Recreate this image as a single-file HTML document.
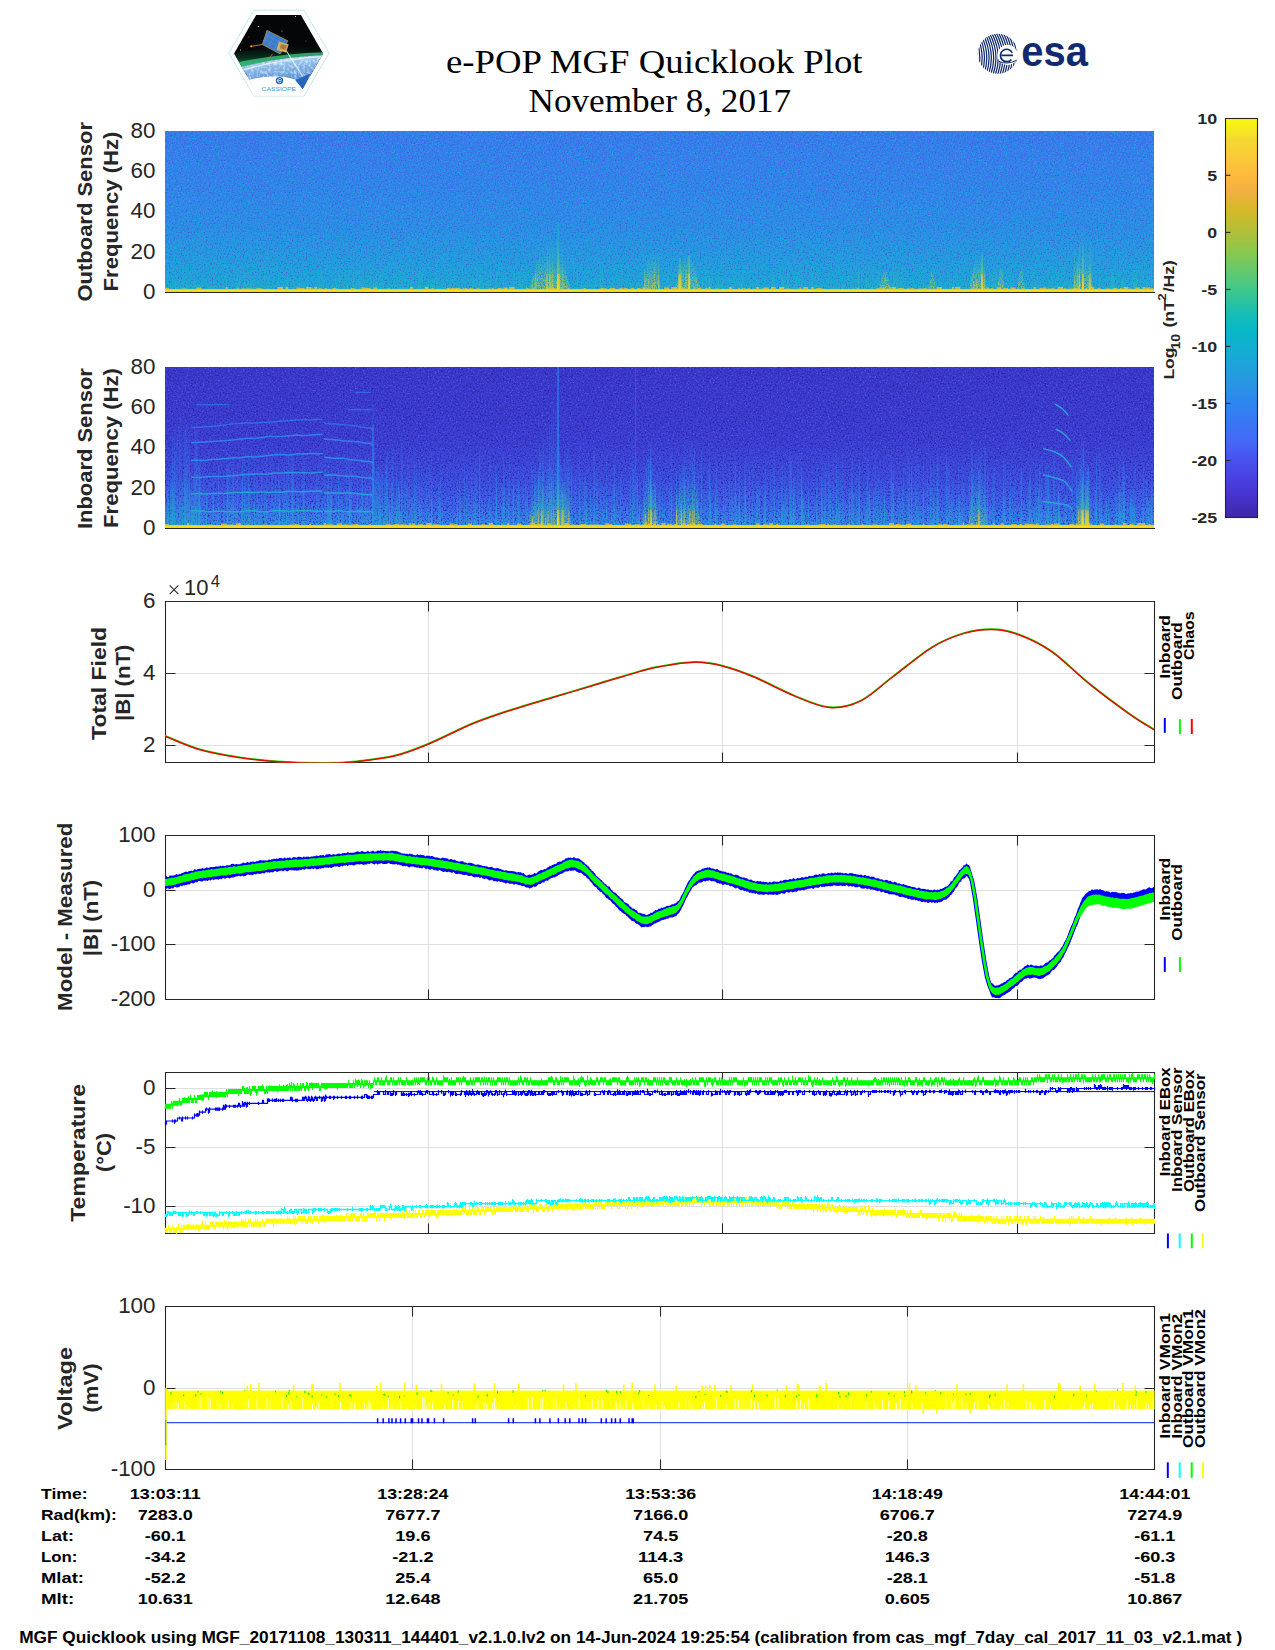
<!DOCTYPE html>
<html><head><meta charset="utf-8"><title>e-POP MGF Quicklook Plot</title>
<style>html,body{margin:0;padding:0;background:#fff;}body{width:1275px;height:1650px;overflow:hidden;}svg{display:block;}</style>
</head><body>
<svg width="1275" height="1650" viewBox="0 0 1275 1650">
<rect x="0" y="0" width="1275" height="1650" fill="#fff"/>
<text x="446" y="72.6" font-family="'Liberation Serif', serif" font-size="33.5" textLength="416.5" lengthAdjust="spacingAndGlyphs">e-POP MGF Quicklook Plot</text>
<text x="528.6" y="111.6" font-family="'Liberation Serif', serif" font-size="33.5" textLength="262.5" lengthAdjust="spacingAndGlyphs">November 8, 2017</text>
<defs>
<clipPath id="hexclip"><polygon points="234.1,53.5 256.2,14.9 300.9,14.9 323.1,53.5 302.8,88.8 254.4,88.8"/></clipPath>
<linearGradient id="earthg" x1="0" y1="0" x2="0.25" y2="1">
<stop offset="0" stop-color="#d8eafa"/><stop offset="0.35" stop-color="#8ebde9"/><stop offset="0.75" stop-color="#4f8ad2"/><stop offset="1" stop-color="#2f6fc0"/></linearGradient>
<linearGradient id="aurg" x1="0" y1="0" x2="0" y2="1">
<stop offset="0" stop-color="#0a2a1a" stop-opacity="0"/><stop offset="0.5" stop-color="#0d4a2c" stop-opacity="0.7"/><stop offset="0.82" stop-color="#28a466"/><stop offset="1" stop-color="#66dc9c"/></linearGradient>
<filter id="cloudf" x="230" y="50" width="100" height="45" filterUnits="userSpaceOnUse" color-interpolation-filters="sRGB">
<feTurbulence type="fractalNoise" baseFrequency="0.35" numOctaves="2" seed="4" result="t"/>
<feColorMatrix in="t" type="matrix" values="0 0 0 0 1  0 0 0 0 1  0 0 0 0 1  3 0 0 0 -1.3"/>
<feComposite in2="SourceGraphic" operator="in"/></filter>
</defs>
<polygon points="228.9,53 253.9,10.2 303.8,10.2 329.2,53 303.8,96.3 253.9,96.3" fill="#fff" stroke="#b3e0ea" stroke-width="0.8" stroke-dasharray="1.1,0.7"/>
<g clip-path="url(#hexclip)">
<rect x="230" y="12" width="98" height="64" fill="#040608"/>
<circle cx="258.5" cy="26.5" r="0.8" fill="#dfe8ff"/>
<circle cx="295.5" cy="16.5" r="0.6" fill="#dfe8ff"/>
<circle cx="240.5" cy="50" r="0.6" fill="#dfe8ff"/>
<circle cx="282" cy="31" r="0.5" fill="#dfe8ff"/>
<circle cx="306" cy="41" r="0.4" fill="#dfe8ff"/>
<circle cx="249" cy="37" r="0.4" fill="#dfe8ff"/>
<circle cx="313" cy="30" r="0.4" fill="#dfe8ff"/>
<path d="M228,54 Q282,44 330,46 L330,56.5 Q282,54 228,72 Z" fill="url(#aurg)"/>
<path d="M228,64.5 Q280,52.5 330,52 L330,55.8 Q282,55.5 228,71.5 Z" fill="#38c080" opacity="0.8"/>
<path d="M228,70.5 Q280,55.5 330,55 L330,95 L228,95 Z" fill="url(#earthg)"/>
<path d="M228,70.5 Q280,55.5 330,55 L330,95 L228,95 Z" fill="#ffffff" opacity="0.55" filter="url(#cloudf)"/>
<path d="M236,72 Q282,58 326,56.5" stroke="#f4faff" stroke-width="1.3" fill="none" opacity="0.7"/>
<path d="M285.9,50.2 L302.8,76.5" stroke="#f0f8ff" stroke-width="1.1" opacity="0.85"/>
<path d="M228,95 L228,86 Q262,74 283,77 Q292,78.5 296,80 L302.8,95 Z" fill="#ffffff"/>
<path d="M295.3,80.3 L310.4,73.7 L302.8,89 Z" fill="#2a66b8"/>
</g>
<path d="M251,97 L246.5,89.5 Q262,75.5 283,77 Q292,78.5 296,80 L303,90 L304.5,97 Z" fill="#ffffff"/>
<path d="M295.3,80.3 L310.4,73.7 L302.8,89 Z" fill="#2a66b8"/>
<polygon points="228.9,53 253.9,10.2 303.8,10.2 329.2,53 303.8,96.3 253.9,96.3" fill="none" stroke="#b3e0ea" stroke-width="0.8" stroke-dasharray="1.1,0.7"/>
<path d="M251,46.4 L262.4,44.5" stroke="#c89040" stroke-width="0.9"/><circle cx="251.2" cy="46.3" r="1.1" fill="#f0a030"/>
<path d="M272.7,53.9 L265.2,63.4" stroke="#b08040" stroke-width="0.8"/>
<polygon points="267,30.4 287.8,40.8 280.2,53.9 262.4,44.5" fill="#3f7cc8" stroke="#c8a050" stroke-width="0.7"/>
<path d="M266,35 L284,44 M264.5,39.5 L282,48.5 M270,32 L263.5,43 M275,34.5 L268.5,46.5 M280.5,37.5 L274,50" stroke="#5a94d8" stroke-width="0.5"/>
<polygon points="279,41.5 288.7,44.5 286,52.5 276.5,50" fill="#d6b060"/>
<polygon points="281,44 287,45.5 285.5,50 280,48.5" fill="#8a6a30" opacity="0.7"/>
<circle cx="279.5" cy="80.6" r="3.7" fill="#1f63b8"/><path d="M277.2,80.7 h4.4 M281.5,79.6 a2.1,2.1 0 1 0 -0.3,2.4" stroke="#fff" stroke-width="0.75" fill="none"/>
<text x="278.8" y="90.8" font-family="'Liberation Sans', sans-serif" font-size="5.8" text-anchor="middle" fill="#2d9ad6" textLength="34.5" lengthAdjust="spacingAndGlyphs">CASSIOPE</text>
<defs><clipPath id="esaclip"><circle cx="997.8" cy="53.8" r="20"/></clipPath></defs>
<g clip-path="url(#esaclip)">
<path d="M960.2,30 Q974.2,54 964.2,78" stroke="#0f2a6e" stroke-width="1.25" fill="none"/>
<path d="M962.5,30 Q976.5,54 966.5,78" stroke="#0f2a6e" stroke-width="1.25" fill="none"/>
<path d="M964.8,30 Q978.8,54 968.8,78" stroke="#0f2a6e" stroke-width="1.25" fill="none"/>
<path d="M967.1,30 Q981.1,54 971.1,78" stroke="#0f2a6e" stroke-width="1.25" fill="none"/>
<path d="M969.4,30 Q983.4,54 973.4,78" stroke="#0f2a6e" stroke-width="1.25" fill="none"/>
<path d="M971.7,30 Q985.7,54 975.7,78" stroke="#0f2a6e" stroke-width="1.25" fill="none"/>
<path d="M974,30 Q988,54 978,78" stroke="#0f2a6e" stroke-width="1.25" fill="none"/>
<path d="M976.3,30 Q990.3,54 980.3,78" stroke="#0f2a6e" stroke-width="1.25" fill="none"/>
<path d="M978.6,30 Q992.6,54 982.6,78" stroke="#0f2a6e" stroke-width="1.25" fill="none"/>
<path d="M980.9,30 Q994.9,54 984.9,78" stroke="#0f2a6e" stroke-width="1.25" fill="none"/>
<path d="M983.2,30 Q997.2,54 987.2,78" stroke="#0f2a6e" stroke-width="1.25" fill="none"/>
<path d="M985.5,30 Q999.5,54 989.5,78" stroke="#0f2a6e" stroke-width="1.25" fill="none"/>
<path d="M987.8,30 Q1001.8,54 991.8,78" stroke="#0f2a6e" stroke-width="1.25" fill="none"/>
<path d="M990.1,30 Q1004.1,54 994.1,78" stroke="#0f2a6e" stroke-width="1.25" fill="none"/>
<path d="M992.4,30 Q1006.4,54 996.4,78" stroke="#0f2a6e" stroke-width="1.25" fill="none"/>
<path d="M994.7,30 Q1008.7,54 998.7,78" stroke="#0f2a6e" stroke-width="1.25" fill="none"/>
<path d="M997,30 Q1011,54 1001,78" stroke="#0f2a6e" stroke-width="1.25" fill="none"/>
<path d="M999.3,30 Q1013.3,54 1003.3,78" stroke="#0f2a6e" stroke-width="1.25" fill="none"/>
<path d="M1001.6,30 Q1015.6,54 1005.6,78" stroke="#0f2a6e" stroke-width="1.25" fill="none"/>
<path d="M1003.9,30 Q1017.9,54 1007.9,78" stroke="#0f2a6e" stroke-width="1.25" fill="none"/>
<path d="M1006.2,30 Q1020.2,54 1010.2,78" stroke="#0f2a6e" stroke-width="1.25" fill="none"/>
<path d="M1008.5,30 Q1022.5,54 1012.5,78" stroke="#0f2a6e" stroke-width="1.25" fill="none"/>
<path d="M1010.8,30 Q1024.8,54 1014.8,78" stroke="#0f2a6e" stroke-width="1.25" fill="none"/>
<path d="M1013.1,30 Q1027.1,54 1017.1,78" stroke="#0f2a6e" stroke-width="1.25" fill="none"/>
<path d="M1015.4,30 Q1029.4,54 1019.4,78" stroke="#0f2a6e" stroke-width="1.25" fill="none"/>
<path d="M1017.7,30 Q1031.7,54 1021.7,78" stroke="#0f2a6e" stroke-width="1.25" fill="none"/>
</g>
<circle cx="1007.6" cy="55" r="10.2" fill="#fff"/>
<path d="M1001.5,55.4 h11.5 M1012.2,52.8 a6.2,6.2 0 1 0 -0.8,6.6" stroke="#0f2a6e" stroke-width="1.6" fill="none"/>
<path d="M999,61.5 Q1007,65 1016,60.5" stroke="#0f2a6e" stroke-width="1" fill="none"/>
<text x="1021.3" y="65.6" font-family="'Liberation Sans', sans-serif" font-size="42" font-weight="bold" fill="#0f2a6e" textLength="66.6" lengthAdjust="spacingAndGlyphs">esa</text>
<defs>
<linearGradient id="s1bg" x1="0" y1="0" x2="0" y2="1">
<stop offset="0" stop-color="#3a7aee"/><stop offset="0.3" stop-color="#3582ec"/><stop offset="0.6" stop-color="#2c8ee6"/><stop offset="0.82" stop-color="#22a0dc"/><stop offset="0.95" stop-color="#1aaad4"/><stop offset="1" stop-color="#28b6c0"/></linearGradient>
<linearGradient id="s2bg" x1="0" y1="0" x2="0" y2="1">
<stop offset="0" stop-color="#3b38cc"/><stop offset="0.45" stop-color="#3c3ed4"/><stop offset="0.7" stop-color="#3d4ee0"/><stop offset="0.85" stop-color="#3c64ec"/><stop offset="0.95" stop-color="#3680f0"/><stop offset="1" stop-color="#2aa0de"/></linearGradient>
<filter id="nz1" x="165" y="131" width="989" height="161" filterUnits="userSpaceOnUse" color-interpolation-filters="sRGB"><feTurbulence type="fractalNoise" baseFrequency="0.65" numOctaves="2" seed="3" result="t"/><feColorMatrix in="t" type="matrix" values="0 0 0 0 0.27  0 0 0 0 0.34  0 0 0 0 0.92  2.9 0 0 0 -1.48" result="dark"/><feColorMatrix in="t" type="matrix" values="0 0 0 0 0.10  0 0 0 0 0.68  0 0 0 0 0.82  0 3.4 0 0 -1.72" result="lite"/><feMerge><feMergeNode in="lite"/><feMergeNode in="dark"/></feMerge></filter>
<filter id="nz2" x="165" y="367" width="989" height="161" filterUnits="userSpaceOnUse" color-interpolation-filters="sRGB"><feTurbulence type="fractalNoise" baseFrequency="0.6" numOctaves="2" seed="7" result="t"/><feColorMatrix in="t" type="matrix" values="0 0 0 0 0.19  0 0 0 0 0.15  0 0 0 0 0.64  3.4 0 0 0 -1.65" result="dark"/><feColorMatrix in="t" type="matrix" values="0 0 0 0 0.27  0 0 0 0 0.36  0 0 0 0 0.94  0 3.2 0 0 -1.7" result="lite"/><feMerge><feMergeNode in="lite"/><feMergeNode in="dark"/></feMerge></filter>
<linearGradient id="h1" gradientUnits="userSpaceOnUse" x1="0" y1="289.5" x2="0" y2="131.5"><stop offset="0" stop-color="#f8e020" stop-opacity="1"/><stop offset="0.1" stop-color="#d8c838" stop-opacity="0.9"/><stop offset="0.1" stop-color="#70c880" stop-opacity="0.8"/><stop offset="0.3" stop-color="#20b0c8" stop-opacity="0.6"/><stop offset="0.6" stop-color="#2098e0" stop-opacity="0.2"/><stop offset="1" stop-color="#2a90e8" stop-opacity="0"/></linearGradient>
<linearGradient id="b1" gradientUnits="userSpaceOnUse" x1="0" y1="289.5" x2="0" y2="131.5"><stop offset="0" stop-color="#f8d828" stop-opacity="1"/><stop offset="0" stop-color="#d0c438" stop-opacity="0.9"/><stop offset="0.1" stop-color="#78c878" stop-opacity="0.8"/><stop offset="0.2" stop-color="#28b4c4" stop-opacity="0.5"/><stop offset="0.5" stop-color="#2098e0" stop-opacity="0"/></linearGradient>
<linearGradient id="c1" gradientUnits="userSpaceOnUse" x1="0" y1="289.5" x2="0" y2="131.5"><stop offset="0" stop-color="#30c0b0" stop-opacity="0.8"/><stop offset="0.4" stop-color="#20a8d8" stop-opacity="0.4"/><stop offset="1" stop-color="#2a90e8" stop-opacity="0"/></linearGradient>
<linearGradient id="h2" gradientUnits="userSpaceOnUse" x1="0" y1="525.5" x2="0" y2="367.5"><stop offset="0" stop-color="#f8e020" stop-opacity="1"/><stop offset="0.1" stop-color="#c0c448" stop-opacity="0.9"/><stop offset="0.1" stop-color="#40c0a8" stop-opacity="0.8"/><stop offset="0.3" stop-color="#2898e8" stop-opacity="0.6"/><stop offset="1" stop-color="#3a60f0" stop-opacity="0"/></linearGradient>
<linearGradient id="b2" gradientUnits="userSpaceOnUse" x1="0" y1="525.5" x2="0" y2="367.5"><stop offset="0" stop-color="#f8d828" stop-opacity="1"/><stop offset="0" stop-color="#b0c448" stop-opacity="0.9"/><stop offset="0.1" stop-color="#38bcb0" stop-opacity="0.8"/><stop offset="0.3" stop-color="#2894ea" stop-opacity="0.4"/><stop offset="0.7" stop-color="#3a6af0" stop-opacity="0"/></linearGradient>
<linearGradient id="c2" gradientUnits="userSpaceOnUse" x1="0" y1="525.5" x2="0" y2="367.5"><stop offset="0" stop-color="#20b0c8" stop-opacity="0.8"/><stop offset="0.3" stop-color="#2890ec" stop-opacity="0.5"/><stop offset="1" stop-color="#3a60f0" stop-opacity="0"/></linearGradient>
<filter id="speck" x="0" y="0" width="1275" height="1650" filterUnits="userSpaceOnUse" color-interpolation-filters="sRGB"><feTurbulence type="fractalNoise" baseFrequency="0.75" numOctaves="2" seed="17" result="t"/><feColorMatrix in="t" type="matrix" values="0 0 0 0 0  0 0 0 0 0  0 0 0 0 0  0 0 0 3.2 -1.15" result="a"/><feComposite in="SourceGraphic" in2="a" operator="in"/></filter>
<clipPath id="s1clip"><rect x="165" y="131" width="989" height="161"/></clipPath>
<clipPath id="s2clip"><rect x="165" y="367" width="989" height="161"/></clipPath>
</defs>
<g clip-path="url(#s1clip)">
<rect x="165" y="131" width="989" height="161" fill="url(#s1bg)"/>
<rect x="165" y="131" width="989" height="161" filter="url(#nz1)"/>
<path d="M612.4,289V277M1079,289V279.4M667.3,289V276.3M347.6,289V278.3M788,289V270.8M258.1,289V283.3M254.7,289V270.4M850.8,289V288.5M1136.4,289V266M811.7,289V275.6M320.8,289V288.8M687.6,289V288.2M353.1,289V284.6M194.8,289V279.5M600.7,289V269.5M678.4,289V274.9M659.3,289V274.4M617.3,289V283.8M1151.7,289V265.1M996,289V273.1M476.8,289V284.9M450.9,289V288M922.9,289V281M1002.3,289V281.3M1112.5,289V269.3M165.5,289V285.3M1065.3,289V279.3M1134.6,289V281.1M237.2,289V275.2M934.9,289V284M251.2,289V282.6M1118.5,289V271.8M281.7,289V284.5M264.9,289V288.2M953.3,289V286M718.1,289V279.9M353.6,289V272.5M294.5,289V274.9M280.2,289V280.5M375.5,289V284M1125.2,289V270.5M465.8,289V268.3M373.4,289V281.1M1010,289V274.9M264.2,289V265.3M375.9,289V284.3M929.2,289V282.7M458.1,289V288M254.1,289V276.4M405.3,289V276M532.6,289V279.7M1113.6,289V279M733.3,289V268.8M345.8,289V286.5M1063.4,289V270.1M411.8,289V285.7M896.3,289V266.7M359.4,289V266.4M1037.5,289V275.9M581.8,289V287.4M203.3,289V266.1M400.8,289V273.2M419.2,289V270M754.9,289V283.5M338.5,289V272.8M233,289V284.9M718.2,289V269.2M772.5,289V283.8M1072.3,289V285.4M181.4,289V284M605.8,289V288.2M339.3,289V281.7M730.9,289V286.9M523.2,289V268.1M1134.7,289V274.5M848.6,289V276.4M303.8,289V288.6M182.7,289V267.6M858.3,289V266.1M186,289V275.1M641.9,289V272.5M480.4,289V265M239.4,289V277.4M893.9,289V267.8M894,289V273.3M949.5,289V267.4M513,289V273.8M1055.9,289V268.7M577.6,289V270.9M1019,289V276.7M783.1,289V281.4M741.3,289V275.8M244.3,289V275M1147.4,289V268.4M885.2,289V281.3M892,289V276.5M600.7,289V269.6M247.9,289V272M194.5,289V276M640.7,289V284.9M855.7,289V278.6M772.7,289V267.3M418,289V288.9M462.7,289V273.9M365.3,289V286.1M1060.8,289V274.4M602.1,289V268.1M488.4,289V274.3M361.3,289V280.3M962.1,289V267.4M1035.6,289V281.4M741.7,289V283M299.7,289V278.6M992.9,289V269.3M868.4,289V266.4M438.8,289V286.2M610.7,289V283.9M376.7,289V280.7M783.9,289V278.7M476.9,289V269.6M1136.2,289V279.7M238.9,289V288.6M1028.2,289V288.5M865.8,289V276.8M470.6,289V270.9M183.9,289V286.8M614.8,289V288.7M985.5,289V284.7M304.3,289V288.4M787.3,289V279.9M788,289V274.6M963.5,289V266.2M842,289V285.5M634.9,289V286M175.6,289V279.2M871.3,289V286M434.4,289V282.3M854.6,289V278M772.7,289V271.8M554.2,289V270.9M1061.3,289V287.7M1087.3,289V272.8M293.5,289V279.7M783.7,289V267.6M537.7,289V276.8M1034.6,289V270.7M1098.9,289V279.5M809.2,289V285.4M879,289V270.1M799.6,289V272.9M376,289V267.9M1134.7,289V265.7M696.1,289V270.9M481.9,289V267.6M1011.4,289V282.2M246.9,289V280M709.2,289V271.5M647.1,289V288.7M965.2,289V288.1M956.1,289V286.1M496.3,289V271M304,289V286.6M675.8,289V272.7M995.7,289V273.6M1100.3,289V278.7M1103.7,289V287.7M384,289V277.9M452,289V272.6M796.8,289V278M999.3,289V277M473.3,289V281.5M1001,289V267.8M370.9,289V269.2M1122.8,289V277.9M731.7,289V285.5M695,289V278.5M763.6,289V288.7M1123.7,289V278.2M561.2,289V270.6M721.7,289V278.8M848.4,289V288.1M697.8,289V280.7M1111.3,289V267.2M431.3,289V279.2M290.6,289V280.2M971.7,289V267.8M636.3,289V282.9M354.3,289V275.5M1080.1,289V286.9M935.7,289V288.7M357,289V284.9M844.5,289V282.8M516.4,289V275.5M268.7,289V272.5M286.4,289V278.3M412.8,289V285.6M689.5,289V280.1M536.6,289V280.7M688.5,289V286.3M367,289V275.2M796.4,289V277.8M1006.9,289V275.7M1012.3,289V284.8M897.6,289V270.3M1057.7,289V283M476.5,289V267.2M380.7,289V265M1042.8,289V286.8M401.7,289V272.6M421.6,289V287.5M988,289V280.5M946.2,289V287M563.3,289V273.8M182.6,289V285.5M839.9,289V267.5M1122.7,289V287.2M665.1,289V271.8M662.3,289V273.7M351.9,289V288M270,289V288.5M710.6,289V278.2M727.5,289V286.6M347.5,289V285.4M996,289V265.3M1081.7,289V287.6M226.3,289V266.4M622,289V271.6M488.2,289V279.4M674.6,289V280.3M759.3,289V288.9M858.3,289V269.4M344.3,289V279.7M896.2,289V280.9M358,289V286.2M671.9,289V288.8M1048.4,289V270.6M861.9,289V269M787.5,289V280.9M758,289V278.4M1136.9,289V270.5M420.4,289V267.5M901.2,289V271.2M970.7,289V280.9M1051.7,289V268.4M852.2,289V271.5M921.8,289V280.9M879.7,289V288M503,289V279.3M175.5,289V282.1M796.7,289V275.4M394.6,289V266.6M823.8,289V282.5M817.5,289V276.8M692.2,289V281.3M1153.9,289V274.9M858.5,289V271.7M1134.3,289V288.7M773.6,289V272.3M418.8,289V281M214.9,289V285.6M536.5,289V287.5M413.1,289V267.7M709,289V278.4M1121.5,289V276.8M1149.2,289V275M965.6,289V287.9M756,289V271.8M209.6,289V267M323.2,289V279.3M332.3,289V278.7M769.4,289V288.2M1099.9,289V280.5M686,289V276.1M526.6,289V283.7M812.9,289V277M445.4,289V272.9M457.8,289V288.9M407.3,289V288.5M319.9,289V271.9M550.7,289V267.9M905.1,289V288.3M1142.9,289V266.6M237.7,289V267.7M589.8,289V279.1M1127.5,289V284.6M682.6,289V266.8M879.8,289V279.3M1133.1,289V270.2M762,289V287.2M782.4,289V279.7M366.4,289V288.3M687.3,289V287M603,289V274.2M615.5,289V284.2M740.8,289V280.5M934.4,289V277.8M1151.7,289V266.4M891.2,289V284.7M277.6,289V268.1M940.7,289V275.3M520.2,289V284M842.5,289V276.9M750.2,289V275.1M910.1,289V285.7M411.2,289V265.6M1070.6,289V268.4M204.1,289V288.2M433,289V280.4M781.5,289V287.4M700.7,289V288M250.5,289V274M709.6,289V275.2M534.1,289V279.1M373.3,289V282.3M901.6,289V269.6M238.5,289V287.1M965.3,289V275.4M925.3,289V285.2M584.7,289V284.3M966,289V281.7M811.5,289V265.3M486.8,289V277.3M902.9,289V267.3M587.9,289V281.7M260.9,289V268.5M242.6,289V287.8M723,289V278.9M842.8,289V283.4M932,289V287.9M375.9,289V274.4M245.8,289V283.3M882,289V273.5M444.8,289V286.7M518.9,289V272.7M527.4,289V287.2M866.5,289V276.8M1073.5,289V266.7M1068.3,289V280.1M959.2,289V283.2M479.1,289V281M1089.4,289V268M410.6,289V281.9M526.5,289V281.9M556.3,289V281.3M357.8,289V276.9M953.3,289V277.5M992.2,289V277M339.6,289V271.8M1036.2,289V283.8M187,289V278.2M703.2,289V276.8M1120.8,289V274.7M960.5,289V288.1M705.8,289V271M248.1,289V287.8M894,289V267.9M248.8,289V275.1M307.3,289V272.1M806.9,289V284.6M383,289V271.6M680.8,289V271.6M555,289V282.5M1122.6,289V274.1M653.2,289V277.6M878,289V273.1M1069.9,289V280.8M982.1,289V274.2M1009.1,289V270.5M989.7,289V268.2M1112.3,289V274.9M683.1,289V273.1M958.4,289V280.5M580.8,289V286.6M898.1,289V265.3M536.4,289V286.2M367.1,289V280.4M453.8,289V265.9M223.6,289V283.1M278.5,289V274.7M932.4,289V285.9M226.7,289V279.6M742.6,289V267.6M201,289V287.3M347.5,289V285.2M397.8,289V272.9M753.2,289V285M348,289V283.8M335.6,289V271.8M473.3,289V277.3M973.1,289V279.1M422.6,289V268.2M1069.2,289V282.4M706.3,289V266.2M642.3,289V285.1M214.2,289V266.5M957.6,289V281.4M686.8,289V278.2M436.5,289V265.3M815.3,289V284.7M175.8,289V279.2M532.5,289V270.7M870.4,289V275.8M320.6,289V286.4M483.3,289V284.2M1024.7,289V278.1M795,289V265.2M428.6,289V277.7M314,289V271.5M166.4,289V270M1001.9,289V270M246.5,289V284M873.6,289V287.5M639.8,289V279.3M1110,289V276.3M1012.9,289V283.3M945.6,289V280.6M1071.7,289V287.6M982.2,289V285.3M702.4,289V277.9M320.8,289V269.8M473,289V283.1M240.2,289V283.2M627.1,289V272.9M520.8,289V273.7M269.6,289V281.1M621.7,289V265.9M985.6,289V274.6M177.2,289V281.6M867.2,289V284.7M722.9,289V279.6M175.4,289V265.2M955.7,289V285.4M774.3,289V283.6M536.9,289V277.5M459.9,289V282.5M552.9,289V274.2M418.6,289V285.5M888.4,289V282.7M1099.6,289V277M880.8,289V282.6M982.8,289V287.6M304.3,289V287.6M835.2,289V273.1M342.9,289V281M992.7,289V276.2M254.1,289V285M320.4,289V287M567.4,289V288M1075.5,289V280.4M670.9,289V274.8M923.4,289V270.1M546.7,289V282.6M572.6,289V288.8M561.3,289V273.4M1136.1,289V270.9M818,289V275.8M183.3,289V282.6M503.5,289V274.7M270.1,289V281.5M668.8,289V271M981.1,289V275.7M321.6,289V271.6M1058.1,289V277.3M513.7,289V278.5M305.2,289V273M1140.9,289V278.2M872.5,289V269.7M360,289V266.6M785.2,289V285.6M247.3,289V284.6M735.1,289V273.4M490.6,289V267M522.2,289V279.5M287.7,289V265.8M299.1,289V267.7M702.4,289V277M719.2,289V284.1M1064.3,289V265.2M973.5,289V276M286.3,289V270M450.4,289V267.9M403.2,289V276.7M986.6,289V285.8M706.8,289V287.9M196.7,289V285.9M1141.1,289V266.7M816.1,289V283.2M828.9,289V272.3M542.4,289V276.2M960,289V288.8M362.3,289V279.3M306.4,289V281.3M728.3,289V286.1M679.1,289V284.2M726.8,289V282.6M799.6,289V288.5M828.6,289V286.6M1113.8,289V276M629.7,289V280.7M781.9,289V273.6" stroke="url(#c1)" stroke-width="1" opacity="0.3" fill="none"/>
<path d="M529,290 L545,236 L555,236 L571,290 Z" fill="url(#b1)" filter="url(#speck)" opacity="0.8"/>
<path d="M643,290 L649.8,252 L654.2,252 L661,290 Z" fill="url(#b1)" filter="url(#speck)" opacity="0.8"/>
<path d="M675,290 L684.9,256 L691.1,256 L701,290 Z" fill="url(#b1)" filter="url(#speck)" opacity="0.8"/>
<path d="M969,290 L975.8,256 L980.2,256 L987,290 Z" fill="url(#b1)" filter="url(#speck)" opacity="0.8"/>
<path d="M997,290 L1000,268 L1002,268 L1005,290 Z" fill="url(#b1)" filter="url(#speck)" opacity="0.8"/>
<path d="M1017,290 L1020,270 L1022,270 L1025,290 Z" fill="url(#b1)" filter="url(#speck)" opacity="0.8"/>
<path d="M1073,290 L1080.6,232 L1085.4,232 L1093,290 Z" fill="url(#b1)" filter="url(#speck)" opacity="0.8"/>
<path d="M879,290 L883.6,272 L886.4,272 L891,290 Z" fill="url(#b1)" filter="url(#speck)" opacity="0.8"/>
<path d="M928,290 L931,272 L933,272 L936,290 Z" fill="url(#b1)" filter="url(#speck)" opacity="0.8"/>
<path d="M559.8,289V255.2M549.5,289V240.3M562.9,289V249M546.5,289V272.4M552.5,289V245.9M551,289V267.8M547.4,289V246M543.2,289V287.9M558.6,289V246.3M558.8,289V263.9M559.6,289V278.5M553.6,289V287.5M535.7,289V271.8M550.1,289V274.3" stroke="url(#h1)" stroke-width="1" opacity="0.5" fill="none"/>
<path d="M644.8,289V267.8M652.4,289V283.7M648.9,289V278.8M647.8,289V288M658.6,289V256.5M654.7,289V260.8" stroke="url(#h1)" stroke-width="1" opacity="0.5" fill="none"/>
<path d="M686.1,289V265.6M681.3,289V267.8M689.6,289V261.8M678.4,289V266.1M679,289V275.2M698.8,289V289" stroke="url(#h1)" stroke-width="1" opacity="0.5" fill="none"/>
<path d="M973.9,289V282.1M975.2,289V288.1M984.3,289V263.7M976.4,289V280.4M979.4,289V288.4" stroke="url(#h1)" stroke-width="1" opacity="0.5" fill="none"/>
<path d="M1074.6,289V246.4M1079.5,289V269.2M1090.8,289V241.4M1082.5,289V282.7M1079.3,289V244.9M1090.1,289V283.1M1089.1,289V276.3M1082.5,289V284M1089.8,289V240.3M1077.6,289V262" stroke="url(#h1)" stroke-width="1" opacity="0.5" fill="none"/>
<path d="M558,289V222M680,289V258M689,289V255M982,289V254M1083,289V245" stroke="url(#h1)" stroke-width="1.6" opacity="1" fill="none"/>
<path d="M558,289V222" stroke="url(#h1)" stroke-width="1.2" opacity="1" fill="none"/>
<rect x="165" y="289" width="989" height="3" fill="#f0c830"/>
<rect x="165" y="290.2" width="989" height="1.3" fill="#f8e41c"/>
<path d="M165,288h4.3v1h-4.3ZM181.6,288.5h5v0.5h-5ZM196.2,287.5h5.4v1.5h-5.4ZM225.8,287h1.8v2h-1.8ZM236.4,288.5h2.8v0.5h-2.8ZM241.4,288.5h4.6v0.5h-4.6ZM246.7,288.5h5.9v0.5h-5.9ZM256.4,288.2h5.5v0.8h-5.5ZM277.7,287h5.2v2h-5.2ZM285.7,287h2.3v2h-2.3ZM296.4,287.5h3.1v1.5h-3.1ZM299.6,288h5v1h-5ZM306.1,287h5.3v2h-5.3ZM311.6,288.5h2.3v0.5h-2.3ZM314.4,287h2.6v2h-2.6ZM318.4,288.2h3.1v0.8h-3.1ZM324.6,288h2v1h-2ZM332.5,288h3.8v1h-3.8ZM350.4,288.2h4.3v0.8h-4.3ZM361.2,287.5h4.2v1.5h-4.2ZM365.6,288h4.8v1h-4.8ZM373.7,287.5h3.6v1.5h-3.6ZM387,288.5h3v0.5h-3ZM410.1,287h2.8v2h-2.8ZM424.8,287h3.5v2h-3.5ZM431.1,288.2h2.9v0.8h-2.9ZM446.7,288h3.7v1h-3.7ZM451.1,288h3.7v1h-3.7ZM455.1,288h5.1v1h-5.1ZM462.9,288.2h4.5v0.8h-4.5ZM468.9,288.2h4.7v0.8h-4.7ZM476.9,288.2h2.7v0.8h-2.7ZM488.8,288.2h1.6v0.8h-1.6ZM491.6,288.2h2.7v0.8h-2.7ZM497.6,288h4.4v1h-4.4ZM503.4,287.5h4.4v1.5h-4.4ZM509.2,287h5.3v2h-5.3ZM526.3,288h2.2v1h-2.2ZM546.1,287.5h5.7v1.5h-5.7ZM553,288.2h4v0.8h-4ZM583.7,288h2.1v1h-2.1ZM600.5,288h2.6v1h-2.6ZM603,288.2h3.3v0.8h-3.3ZM609.8,288h5.4v1h-5.4ZM619.1,288.2h4v0.8h-4ZM623.4,288h4v1h-4ZM631.2,288h2.8v1h-2.8ZM637.3,288h3.4v1h-3.4ZM642.5,287.5h2.2v1.5h-2.2ZM664.1,287.5h5.4v1.5h-5.4ZM671.3,287h5.9v2h-5.9ZM678.3,287.5h5.9v1.5h-5.9ZM693.5,288.2h2.7v0.8h-2.7ZM698.1,288h3.4v1h-3.4ZM705.3,288.2h2.9v0.8h-2.9ZM708.7,287h1.6v2h-1.6ZM716.3,288.2h1.6v0.8h-1.6ZM729,287h2.8v2h-2.8ZM738,288.2h2.1v0.8h-2.1ZM742.2,288.2h3v0.8h-3ZM748.1,288h1.6v1h-1.6ZM756.2,287h2.6v2h-2.6ZM761.5,288.5h2v0.5h-2ZM763.6,287.5h5v1.5h-5ZM771,287h4.6v2h-4.6ZM779,287h5.3v2h-5.3ZM785.8,288.5h5.3v0.5h-5.3ZM799.6,287.5h1.5v1.5h-1.5ZM803.4,287h4.4v2h-4.4ZM811.5,287h2.1v2h-2.1ZM816.4,288h5.5v1h-5.5ZM856.7,288.2h2.1v0.8h-2.1ZM876.3,288.2h4.9v0.8h-4.9ZM881.4,287.5h4.1v1.5h-4.1ZM889,287.5h2.1v1.5h-2.1ZM891.5,287h4.6v2h-4.6ZM898,288h5.7v1h-5.7ZM907.4,288.2h2.1v0.8h-2.1ZM910.1,288.2h4.3v0.8h-4.3ZM918.1,288.5h4v0.5h-4ZM923.2,288.2h4v0.8h-4ZM936.5,287h5.4v2h-5.4ZM952,287h2.1v2h-2.1ZM955,287h5.4v2h-5.4ZM975.5,288.5h3.4v0.5h-3.4ZM981.9,287h1.9v2h-1.9ZM987.1,287.5h2.1v1.5h-2.1ZM990.6,288h2.6v1h-2.6ZM996.9,287.5h4.7v1.5h-4.7ZM1003.1,288h4.8v1h-4.8ZM1010.4,287.5h5.1v1.5h-5.1ZM1033.2,287h2.4v2h-2.4ZM1039.2,288h3.7v1h-3.7ZM1042.8,287.5h3.6v1.5h-3.6ZM1047.7,288.5h3.6v0.5h-3.6ZM1051.9,288h2.2v1h-2.2ZM1057.6,287h5.4v2h-5.4ZM1063.6,288.2h2.6v0.8h-2.6ZM1069.6,288.5h4.9v0.5h-4.9ZM1074.6,288h5.5v1h-5.5ZM1089.7,287h4.5v2h-4.5ZM1097.6,288h2.2v1h-2.2ZM1105.7,288.5h4.7v0.5h-4.7ZM1113,288h4.3v1h-4.3ZM1120,288h2.3v1h-2.3ZM1123.5,287h4.8v2h-4.8ZM1128.9,288.5h2.6v0.5h-2.6ZM1135.3,287.5h4.4v1.5h-4.4ZM1142.6,287h2.7v2h-2.7ZM1145.5,287.5h5v1.5h-5ZM1151.2,288h1.6v1h-1.6Z" fill="#f0c030" opacity="0.8"/>
</g>
<g clip-path="url(#s2clip)">
<rect x="165" y="367" width="989" height="161" fill="url(#s2bg)"/>
<rect x="165" y="367" width="989" height="161" filter="url(#nz2)"/>
<path d="M328.1,525V473.3M793,525V489.1M378.6,525V465.6M964,525V486.6M664.5,525V507.3M168.1,525V497.2M743.9,525V519.8M950,525V507.6M395.1,525V521.8M1151.6,525V469.6M1030.4,525V478.8M198.7,525V500.3M657.1,525V516.3M1106.5,525V497.4M318.1,525V463.7M288.5,525V455.4M613.1,525V483.6M504.1,525V488.6M349.9,525V522.2M1021.4,525V507.4M936.7,525V509.4M1123.1,525V458M911.5,525V467.8M739.4,525V470.3M286.1,525V489.3M982.9,525V509.9M1078,525V458.4M570.1,525V497.6M611.4,525V496.1M1148.9,525V496M191.5,525V518M875.2,525V450.5M655.6,525V488.1M709.4,525V468.9M384.6,525V479.3M715.4,525V478.3M343.7,525V512.2M509.4,525V455.5M507.8,525V480.2M468.2,525V517.3M229.9,525V464M933.5,525V496.9M840.8,525V474.3M1053.8,525V453.1M567.5,525V450.8M1115.9,525V480.7M1038.5,525V488.2M536.4,525V506.5M1031.5,525V512.8M233.6,525V464.6M930.4,525V488.8M992.8,525V521.1M420.1,525V503.3M579.9,525V512.2M233.7,525V499.6M1054.3,525V451.2M902.6,525V489.1M414.4,525V453.1M684.8,525V470.4M193,525V509.1M994,525V465.4M1036.8,525V479.9M586.4,525V481.4M1005,525V501.9M693.5,525V504.3M924.8,525V524.2M842.8,525V453.5M188.2,525V480.5M801.8,525V461.1M742.9,525V505.7M566.1,525V453.1M1060.6,525V515M258.8,525V518M190,525V491.5M304.3,525V459.9M813.1,525V515.5M697.7,525V500.7M653.4,525V508.5M329.3,525V511.2M538.7,525V471.8M709,525V521.5M868.1,525V459.5M930.7,525V465.7M172.7,525V490.2M227.8,525V467.7M338.4,525V471.6M415.1,525V472.7M475.2,525V521.9M549.6,525V501.8M1055.8,525V502.9M662.6,525V483.8M1102.8,525V517.6M759.6,525V486.9M891.5,525V452.5M471.7,525V472.5M685,525V482.9M228,525V463.9M1131.1,525V498.4M479.6,525V450.5M271.4,525V519.3M237.5,525V463.9M916.6,525V491.4M779.6,525V523.5M802.6,525V491.8M676.7,525V495.8M562.1,525V508.1M213.3,525V492.5M409.3,525V472.2M973.3,525V470.7M616,525V507.3M546.2,525V488.5M789.9,525V452.8M249.5,525V489M651.5,525V471.2M1045.7,525V466.5M784.9,525V468.1M825.7,525V460.6M856.3,525V473.8M407.6,525V456.2M546.7,525V478.9M980.8,525V452.7M1143.3,525V524.5M474.2,525V501.6M551.9,525V514.1M712.2,525V519M464.3,525V454.2M899.2,525V490.3M272,525V453.3M861.2,525V509.6M496.6,525V476.9M839.1,525V505.4M1105.8,525V500.8M416.4,525V461.6M316.7,525V473.9M362.7,525V480.2M439.4,525V496.6M1095.4,525V490M597.1,525V478.7M442.5,525V511.9M545.4,525V504.6M351.4,525V452.9M199,525V464.2M1089.5,525V472.2M183.8,525V487.4M203.8,525V479.4M857.7,525V507M172.5,525V484.2M258.5,525V501.8M614.1,525V457.9M531,525V514.9M948,525V463.3M688.6,525V521.3M350.5,525V494.8M710.8,525V508.1M958.5,525V461.7M1080,525V458.7M182.4,525V481.3M244.6,525V457.5M903.7,525V468.1M351.2,525V520.5M971.2,525V479.5M778.5,525V489.7M956.3,525V499.7M431.8,525V498.5M459.7,525V478M1045.4,525V519.7M231.9,525V486.6M835.6,525V510.8M431.9,525V520.6M201.7,525V487.9M838.3,525V476M321.4,525V517.2M1085.6,525V484.6M568.9,525V473.2M884.8,525V485.7M242.5,525V463M376.4,525V522M513.4,525V485.1M786.3,525V511.9M866.8,525V488M325.2,525V461.2M962.9,525V457M837,525V508.7M934.1,525V457.3M692.4,525V456.9M1124.5,525V495.7M1096.5,525V454.7M950.1,525V524.2M513,525V479M765.5,525V468.3M804.7,525V512.9M1085.6,525V484.8M1037,525V509.5M1152.1,525V483.4M932,525V469.5M1038.1,525V497.8M246.9,525V494.6M341.3,525V484.5M971,525V497.8M294.6,525V523M583.3,525V481.5M191,525V475.1M373.5,525V517M1082.5,525V485.8M1050.2,525V486.5M286.5,525V507M584.6,525V476.9M927.4,525V468.6M808.6,525V506M590.4,525V496.6M649.2,525V505.1M696.9,525V490.6M200.2,525V463.3M745,525V464.8M893.4,525V470.2M1147.5,525V496.7M554.3,525V524.7M822,525V481.4M735.1,525V450.2M359.8,525V508M891.1,525V464.1M642.5,525V520.9M531.3,525V463M659.3,525V490.4M550.2,525V477.9M756.9,525V473M1020.8,525V468.7M535.8,525V506.2M938.3,525V465.5M1082.9,525V510.1M1003.4,525V458.2M241.4,525V501.9M791.7,525V514M987,525V505.1M839.8,525V502.8M380.8,525V509.5M657.1,525V471.5M380.5,525V473.5M496.4,525V476.3M529.1,525V510.5M304.5,525V520.7M853.7,525V494M286.9,525V459M812.6,525V523.4M881.8,525V480.4M603.9,525V487.5M1116.6,525V497M794.2,525V477.3M526.7,525V499M911.7,525V477.3M616.9,525V486.5M386,525V465.8M184.7,525V476.8M614.9,525V508.4M745.3,525V481.3M250.8,525V488.2M328.3,525V465.1M488.3,525V500.4M378,525V521.4M349.6,525V513.6M782.3,525V461.4M383.6,525V516.6M693.6,525V516.3M565.8,525V467.9M365.9,525V472.5M697.8,525V518.6M404.9,525V480M260.2,525V509.7M735.4,525V463.6M679.7,525V475.2M174,525V502.3M479.6,525V456.5M518.6,525V466.1M198.9,525V487.6M1046.6,525V467.2M738.3,525V511.3M1081,525V519M1119.1,525V466.8M876.8,525V485.2M327.2,525V499.4M821.6,525V475.8M550,525V464.9M217.8,525V503.5M254.4,525V500.6M949.2,525V468.5M312.7,525V501.9M275.9,525V475.4M602.7,525V507.6M535.1,525V460.1M585.5,525V473.2M785.8,525V489.5M715.3,525V497.7M361.2,525V487.9M466.2,525V500.2M349.5,525V456.5M585.8,525V510M196.4,525V508.9M1023.9,525V499.7M824.7,525V507.7M808.5,525V491.2M893.3,525V485.4M536.3,525V504M752.7,525V462.6M849,525V489M489.9,525V458.1M1001.9,525V514.1M836.8,525V467.1M833.4,525V452.7M1034.3,525V506.5M1150.8,525V500.4M540.6,525V451.8M330.4,525V495.3M784,525V504.5M429.1,525V465.4M770.8,525V469.2M946.2,525V459.6M1048.8,525V463.2M1132.7,525V487.6M858.9,525V486.5M1123.6,525V475.9M590.8,525V475.2M456.6,525V515.3M547.1,525V514.7M169,525V518.1M614.4,525V467.7M213,525V477.2M275.1,525V486.7M457.5,525V491.6M869.1,525V494M552.4,525V470.4M279.6,525V498.8M859.1,525V462.4M1133.6,525V505.7M783.3,525V501.6M859.1,525V461.5M298.6,525V499.1M1090.9,525V498.6M790.2,525V463.6M440.6,525V466.2M168.6,525V499.5M330.1,525V499.1M375.8,525V523.1M959.3,525V512M731.9,525V483.4M1005.1,525V461.5M779.8,525V512.3M917.5,525V517.7M1083.4,525V501.9M415,525V508.8M556.8,525V465.6M1010.5,525V469M886.3,525V506.7M482.7,525V502.2M593.6,525V459.4M1150,525V518.7M1119,525V456.1M620.8,525V473M940.9,525V511M774.1,525V451.4M1035.7,525V456.6M248.8,525V471.4M646.2,525V456.8M330.1,525V483.8M284.3,525V464.7M879.6,525V522.7M471.2,525V514.4M793.5,525V477.8M227,525V453.7M1119.6,525V491.9M732.8,525V497.7M764.5,525V495.1M600.9,525V468.8M349.4,525V502.6M920.3,525V508.1M233,525V456.6M322.8,525V494.2M475,525V505.4M513.6,525V484.7M279.8,525V485M215.5,525V519.1M364.9,525V507M502.8,525V503.2M992.7,525V475.6M633,525V467.1M843.3,525V501.3M774.1,525V469.1M693.5,525V468.6M790.8,525V455.4M426.2,525V474.6M1131.1,525V485.4M1060.3,525V517.9M880.6,525V505.1M907,525V493.2M694.1,525V506.4M419.2,525V460.1M801.2,525V477.8M279.5,525V503M1122.5,525V509.8M696.9,525V472.8M669.9,525V483.4M1124.5,525V466.4M399.4,525V492.7M580.1,525V473.7M832.6,525V505.4M849.8,525V492.7M180.1,525V503.1M537.7,525V510.2M828.3,525V450.6M1086.3,525V477.8M1012.8,525V488.1M745.2,525V458M224,525V497.8M535,525V499.4M588.1,525V520.7M836.6,525V453.2M396.6,525V511.1M496,525V465.3M389,525V467.2M335.8,525V480.4M878.2,525V474.5M248.5,525V453.3M1003.6,525V488.9M1015,525V479.9M331.7,525V495.2M976.7,525V490.2M206.4,525V512.6M349.2,525V481.1M801.7,525V491.4M564.3,525V452.8M504.1,525V474.6M367.3,525V486.4M342.6,525V516.5M498,525V516.4M542,525V476M708.1,525V465.3M637,525V518.7M884.4,525V494.8M908.2,525V451.8M683.5,525V506.2M518.9,525V487.6M480.6,525V517.4M559,525V475.8M972,525V467.9M1039.3,525V464.9M571.9,525V476.7M218.5,525V465.4M865.2,525V505.1M632.1,525V504.6M951.4,525V493M937.3,525V455.7M934.1,525V496.5M503.7,525V454.1M1059.6,525V510.8M523.2,525V465.9M913.1,525V503.8M606.4,525V452.9M254.2,525V504.4M822,525V456.9M1101.5,525V489.8M946.6,525V452.1M490.8,525V507.9M421.7,525V466.3M303,525V484M1084.6,525V509.9M786.8,525V485.3M1120.7,525V486.5M650.5,525V457.2M909,525V514.1M960,525V495.1M1123.1,525V452.8M652.8,525V493.8M389.5,525V504.3M368.8,525V512.4M887.1,525V521.1M757.2,525V480.2M892.5,525V482.4M1082.1,525V503.9M257.1,525V481.3M431.4,525V450.9M1076.7,525V473.4M989.5,525V506.7M644.6,525V496.3M506.4,525V497M637.5,525V476M189.9,525V484.6M291.5,525V452.3M710.7,525V480.8M476.6,525V472.1M867.2,525V456.7M739.3,525V504.8M786.6,525V521.2M900.9,525V502M876.5,525V515.1M755.9,525V512.3M201.1,525V505.2M1004.1,525V495.9M682.1,525V465.7M1132.6,525V505.6M851.4,525V466.4M950.1,525V499M634.2,525V466.2M413.1,525V488.6M791.5,525V461.2M406.1,525V475.1M379.7,525V513.2M636.8,525V476.4M798.1,525V453.9M327.5,525V485.2M639.7,525V505.6M1072.6,525V514.2M422.7,525V522M801.6,525V475.7M386.2,525V455.9M792.9,525V509.9M1096.3,525V461M475.4,525V460.1M293.9,525V498.9M579.2,525V453.4M460.5,525V496.1M370,525V463.5M346.5,525V461.4M502.1,525V483.8M1031.9,525V505M687.8,525V477.3M736.3,525V494.4M803.8,525V501.4M318.3,525V524.3M764.1,525V481.9M955.8,525V513.2M830.5,525V491M684.2,525V462.6M678.3,525V492.3M803.5,525V513.9M1028.2,525V486.2M206.9,525V488.9M1100.1,525V451.6M586.6,525V505.1M1091.1,525V503.7M182.7,525V506.5M630.5,525V474.5M231.2,525V499.9M884.7,525V499.2M338.7,525V471.7M596.8,525V472.9M643.9,525V464.1M671.4,525V451.9M969.2,525V470.9M649.9,525V479.3M537.5,525V519.3M1039.9,525V464.4M923.5,525V460.6M709.8,525V450.4M633,525V451.4M244.8,525V496.6M729.8,525V463.6M680,525V465.7M534.7,525V474.2M952.8,525V480M185.6,525V475.7M165.1,525V502.3M278.4,525V467.7M331.5,525V471.1M236.5,525V509.5M852.4,525V455.7M235.8,525V478.9M558,525V478.4M241.4,525V523.7M242.8,525V458.2M650.1,525V479.1M296.9,525V473.6M1056.2,525V510.2M937,525V461.4M1146.3,525V482.6M802.9,525V499.1M937.3,525V501.7M781.7,525V478M1143.4,525V466M259.9,525V511.7M518.3,525V495.3M873.9,525V505.5M717.8,525V491.1M466.9,525V476.8M594.3,525V451.5M292.8,525V457.6M795.1,525V490.6M242,525V476.5M959.5,525V498.8M869.7,525V485.1M254.3,525V460.5M473.4,525V489M918.1,525V459.3M1009.5,525V497.4M1002.9,525V513.5M710.6,525V492.6M1021.5,525V470.8M816.8,525V464.2M508.8,525V491.7M266.7,525V498.7M362.3,525V470.1M293,525V456.4M758.6,525V491.5M283,525V491.5M722.6,525V514.2M1130.8,525V497.9M594.8,525V503.6M534,525V504.3M1009.7,525V519.6M525.7,525V480.2M639.2,525V500.7M643.8,525V520.3M468.9,525V492.4M923.2,525V492.7M575.7,525V475.9M438.6,525V483.7M357.6,525V478.7M698.1,525V475.9M1030.1,525V465.4M1142.6,525V507.5M1108.4,525V491.6M527.5,525V490.9M1076.1,525V453.4M961.1,525V502.4M282.5,525V509.7M829.8,525V472.3M229.9,525V524.7M1149.1,525V499.7M206.3,525V490.1M261.7,525V463.9M688.6,525V479.1M1081.9,525V515.6M377.8,525V466M765.6,525V492.1M517.2,525V478.5M1099.3,525V453.9M1072.3,525V451.6M295.2,525V522.9M985.1,525V506.5M681.1,525V489.9M1128,525V491.8M298.2,525V509.7M1058.8,525V463.8M303.2,525V452.7M532.7,525V470.5M723.4,525V460.6M649.1,525V522.8M716.5,525V461.2M571.3,525V463M606.7,525V498.1M520.2,525V507.9M660.1,525V453M749.3,525V467.4M342.3,525V497.3M738.8,525V496.2M173.6,525V459.9M292.7,525V475.6M1134.8,525V503.3M431.7,525V500.2M701.1,525V451.5M308.1,525V506.6M1051.4,525V504.2M824.7,525V470.9M165.5,525V522.9M915.7,525V456.1M852.1,525V490M264.9,525V485.5M273.6,525V500.7M199.8,525V486.4M627.2,525V503.7M383.9,525V520M192.5,525V515.5M1136.7,525V522.5M873.5,525V490.8M746.1,525V502.1M1135.1,525V464.4M565.2,525V492.6M1072.9,525V513.3M1029.4,525V478.6M725.8,525V485M749.4,525V518.2M411.4,525V498.5M383.9,525V518.6M869.9,525V493.4M898,525V495.6M1096.3,525V506.7M671.7,525V493.3M947.4,525V515.2M704.9,525V491M782.5,525V507.5M701.8,525V451.1M266.7,525V452.1M1121.1,525V491.4M245.2,525V487.7M1117.4,525V524.9M909.5,525V466.5M279.3,525V479.8M311.7,525V517.5M680.6,525V502.6M816.9,525V485.5M391.9,525V456M171,525V464.9" stroke="url(#c2)" stroke-width="1" opacity="0.5" fill="none"/>
<path d="M174.9,525V428.6M186.3,525V468.7M172.6,525V432.2M195,525V423.3M185.6,525V426.4M196.3,525V449.1M176.9,525V454.9M177,525V436M184.4,525V431.3M196.2,525V441.2M172.1,525V481.2M168,525V481.2M170.5,525V484.9M192.8,525V505.8M197.1,525V426.6M192,525V491.7M175.2,525V468.8M186.7,525V426.3M165.7,525V510.2M193.8,525V520M196.3,525V497.6M199.2,525V467.5M186.2,525V435M193.8,525V473.1M181.1,525V438.2M174,525V484.4M195.5,525V430M194,525V480.3M177,525V507.8M194.1,525V515.7M171.4,525V519.7M181,525V420.4M167.5,525V490.1M174.4,525V445.9M177.5,525V499.1M189.2,525V428.5M170.8,525V513.5M179.3,525V425.5M167.1,525V503.5M187.6,525V440.6" stroke="url(#c2)" stroke-width="1.1" opacity="0.7" fill="none"/>
<path d="M386.7,525V517.9M389.4,525V511.6M376.1,525V516.4M400.2,525V511.2M387.3,525V452.4M379.6,525V485M396.2,525V471.2M379.4,525V473.3M401.9,525V452.6M401,525V520.8M375.6,525V476M374.4,525V442.6M382.2,525V472.3M398.6,525V482.1M395.4,525V505.9M386.5,525V459.2M387.1,525V502.9M398.1,525V487.7M399.6,525V491.3M397.2,525V509M392.9,525V443.3M391.6,525V483M401.5,525V442.3M397,525V499.5M376.5,525V467.5" stroke="url(#c2)" stroke-width="1.1" opacity="0.6" fill="none"/>
<path d="M191,510.8C192.2,510.8 195.7,510.6 198,510.7C200.3,510.8 202.7,511.1 205,511.3C207.3,511.4 209.7,511.7 212,511.7C214.3,511.6 216.7,511 219,510.9C221.3,510.9 223.7,511.4 226,511.6C228.3,511.7 230.7,511.7 233,511.7C235.3,511.7 237.7,511.8 240,511.7C242.3,511.5 244.7,510.9 247,510.7C249.3,510.6 251.7,510.6 254,510.8C256.3,511 258.7,511.5 261,511.7C263.3,511.9 265.7,511.9 268,511.7C270.3,511.6 272.7,511 275,510.8C277.3,510.7 279.7,510.7 282,510.8C284.3,510.9 286.7,511.4 289,511.4C291.3,511.4 293.7,510.9 296,510.8C298.3,510.6 300.7,510.8 303,510.8C305.3,510.8 307.7,510.7 310,510.8C312.3,510.9 314.9,511.2 317,511.3C319.1,511.3 321.6,511.2 322.5,511.2 M324,511.1C325.2,511.1 328.7,511.6 331,511.5C333.3,511.5 335.7,510.8 338,510.8C340.3,510.8 342.7,511.4 345,511.6C347.3,511.7 349.7,511.6 352,511.5C354.3,511.5 356.7,511.3 359,511.3C361.3,511.4 364,511.7 366,511.8C368,511.9 370.2,511.8 371,511.8 L373,513.8" stroke="#1eb4c4" stroke-width="1.5" fill="none" opacity="0.9"/>
<path d="M191,494.1C192.2,494 195.7,493.4 198,493.4C200.3,493.4 202.7,494.1 205,494.1C207.3,494.1 209.7,493.5 212,493.4C214.3,493.3 216.7,493.3 219,493.3C221.3,493.3 223.7,493.6 226,493.5C228.3,493.3 230.7,492.5 233,492.4C235.3,492.2 237.7,492.5 240,492.5C242.3,492.4 244.7,492 247,492C249.3,492.1 251.7,492.7 254,492.6C256.3,492.6 258.7,491.9 261,491.9C263.3,491.8 265.7,492.2 268,492.3C270.3,492.3 272.7,492.1 275,492.1C277.3,492.1 279.7,492.5 282,492.3C284.3,492.2 286.7,491.5 289,491.3C291.3,491.2 293.7,491.4 296,491.5C298.3,491.5 300.7,491.8 303,491.8C305.3,491.8 307.7,491.5 310,491.3C312.3,491.2 314.9,491 317,491C319.1,491 321.6,491.2 322.5,491.3 M324,492.8C325.2,492.8 328.7,493 331,493C333.3,493.1 335.7,492.9 338,492.9C340.3,492.9 342.7,493 345,493.1C347.3,493.1 349.7,493 352,493.1C354.3,493.2 356.7,493.5 359,493.8C361.3,494.1 364,494.5 366,494.6C368,494.8 370.2,494.5 371,494.5 L373,496.5" stroke="#22a8d4" stroke-width="1.5" fill="none" opacity="0.9"/>
<path d="M191,477.1C192.2,477.2 195.7,477.7 198,477.6C200.3,477.5 202.7,476.8 205,476.7C207.3,476.5 209.7,476.5 212,476.4C214.3,476.4 216.7,476.4 219,476.4C221.3,476.4 223.7,476.3 226,476.2C228.3,476.1 230.7,475.9 233,475.7C235.3,475.5 237.7,475.1 240,475C242.3,474.8 244.7,474.8 247,474.6C249.3,474.5 251.7,474 254,473.9C256.3,473.9 258.7,474 261,474.1C263.3,474.1 265.7,474.2 268,474.1C270.3,473.9 272.7,473.3 275,473.1C277.3,472.9 279.7,473.1 282,473C284.3,472.9 286.7,472.6 289,472.5C291.3,472.5 293.7,472.7 296,472.8C298.3,472.8 300.7,472.6 303,472.6C305.3,472.7 307.7,473 310,473C312.3,473 314.9,472.7 317,472.6C319.1,472.4 321.6,472.3 322.5,472.3 M324,475.2C325.2,475.2 328.7,474.8 331,474.8C333.3,474.9 335.7,475.2 338,475.5C340.3,475.7 342.7,476.1 345,476.2C347.3,476.3 349.7,475.9 352,476C354.3,476.2 356.7,476.8 359,477.1C361.3,477.4 364,477.6 366,477.8C368,477.9 370.2,477.9 371,477.9 L373,479.9" stroke="#2aa0e4" stroke-width="1.5" fill="none" opacity="0.8"/>
<path d="M191,460.3C192.2,460.3 195.7,460.1 198,460.2C200.3,460.2 202.7,460.5 205,460.4C207.3,460.2 209.7,459.4 212,459.2C214.3,459 216.7,459.3 219,459.2C221.3,459 223.7,458.6 226,458.4C228.3,458.2 230.7,457.9 233,457.8C235.3,457.7 237.7,458 240,457.9C242.3,457.7 244.7,457 247,456.8C249.3,456.7 251.7,456.9 254,456.9C256.3,456.8 258.7,456.5 261,456.3C263.3,456.1 265.7,455.8 268,455.6C270.3,455.3 272.7,454.8 275,454.7C277.3,454.5 279.7,454.5 282,454.6C284.3,454.6 286.7,455 289,454.9C291.3,454.8 293.7,454 296,453.9C298.3,453.7 300.7,454.1 303,454C305.3,453.9 307.7,453.4 310,453.4C312.3,453.3 314.9,453.8 317,453.8C319.1,453.8 321.6,453.5 322.5,453.4 M324,457.3C325.2,457.4 328.7,457.8 331,458C333.3,458.1 335.7,458.2 338,458.3C340.3,458.4 342.7,458.2 345,458.5C347.3,458.7 349.7,459.5 352,459.8C354.3,460.1 356.7,460.1 359,460.4C361.3,460.7 364,461.3 366,461.5C368,461.7 370.2,461.4 371,461.4 L373,463.4" stroke="#2c98ec" stroke-width="1.5" fill="none" opacity="0.8"/>
<path d="M191,442.8C192.2,442.7 195.7,442.4 198,442.3C200.3,442.1 202.7,442.1 205,441.9C207.3,441.8 209.7,441.6 212,441.5C214.3,441.4 216.7,441.2 219,441C221.3,440.9 223.7,440.5 226,440.4C228.3,440.2 230.7,440.2 233,440C235.3,439.8 237.7,439.5 240,439.1C242.3,438.8 244.7,438.3 247,438.2C249.3,438.1 251.7,438.5 254,438.4C256.3,438.3 258.7,438 261,437.7C263.3,437.4 265.7,436.8 268,436.6C270.3,436.4 272.7,436.5 275,436.4C277.3,436.4 279.7,436.6 282,436.5C284.3,436.4 286.7,436.1 289,435.8C291.3,435.6 293.7,435.1 296,435C298.3,435 300.7,435.5 303,435.6C305.3,435.6 307.7,435.4 310,435.2C312.3,435 314.9,434.5 317,434.4C319.1,434.3 321.6,434.6 322.5,434.6 M324,438.9C325.2,439 328.7,439.4 331,439.6C333.3,439.8 335.7,439.7 338,440C340.3,440.3 342.7,440.9 345,441.1C347.3,441.4 349.7,441.3 352,441.4C354.3,441.5 356.7,441.5 359,441.8C361.3,442.1 364,442.9 366,443.2C368,443.5 370.2,443.4 371,443.4 L373,445.4" stroke="#2e90f0" stroke-width="1.5" fill="none" opacity="0.8"/>
<path d="M191,427.6C192.2,427.5 195.7,427.5 198,427.3C200.3,427.2 202.7,426.9 205,426.7C207.3,426.6 209.7,426.6 212,426.4C214.3,426.3 216.7,426 219,425.7C221.3,425.5 223.7,425.1 226,424.8C228.3,424.5 230.7,424 233,423.8C235.3,423.6 237.7,423.6 240,423.5C242.3,423.3 244.7,422.8 247,422.8C249.3,422.8 251.7,423.3 254,423.2C256.3,423.2 258.7,422.8 261,422.6C263.3,422.5 265.7,422.4 268,422.3C270.3,422.1 272.7,421.9 275,421.7C277.3,421.5 279.7,421.2 282,421C284.3,420.9 286.7,421 289,420.8C291.3,420.6 293.7,420.1 296,419.9C298.3,419.8 300.7,419.8 303,419.8C305.3,419.8 307.7,420 310,419.9C312.3,419.8 314.9,419.3 317,419.3C319.1,419.3 321.6,419.6 322.5,419.7 M324,423.3C325.2,423.4 328.7,423.8 331,423.9C333.3,424.1 335.7,424.1 338,424.2C340.3,424.4 342.7,424.7 345,424.9C347.3,425.1 349.7,425.2 352,425.5C354.3,425.8 356.7,426.3 359,426.7C361.3,427.1 364,427.6 366,427.8C368,428 370.2,427.8 371,427.8 L373,429.8" stroke="#3088f2" stroke-width="1.5" fill="none" opacity="0.6"/>
<path d="M196.5,404.7 L229.4,404.7 M348,409.7 L371,409.7 M354.6,392.4 L371,392.4" stroke="#3088f2" stroke-width="1.3" opacity="0.6"/>
<path d="M373,526V400" stroke="url(#c2)" stroke-width="2" opacity="0.8" fill="none"/>
<rect x="372.2" y="425" width="1.6" height="101" fill="#2a90e8" opacity="0.45"/>
<path d="M528,527 L544.7,430 L555.3,430 L572,527 Z" fill="url(#b2)" filter="url(#speck)" opacity="0.8"/>
<path d="M642,527 L648.1,440 L651.9,440 L658,527 Z" fill="url(#b2)" filter="url(#speck)" opacity="0.8"/>
<path d="M675,527 L684.9,440 L691.1,440 L701,527 Z" fill="url(#b2)" filter="url(#speck)" opacity="0.8"/>
<path d="M968,527 L975.6,450 L980.4,450 L988,527 Z" fill="url(#b2)" filter="url(#speck)" opacity="0.8"/>
<path d="M1076,527 L1081.3,425 L1084.7,425 L1090,527 Z" fill="url(#b2)" filter="url(#speck)" opacity="0.8"/>
<path d="M548,526V469.5M558.2,526V459.8M561.2,526V488.5M532.8,526V515.8M541.6,526V502.7M553.8,526V488.8M542,526V515.9M559.1,526V440.5M557.7,526V517.8M557.4,526V460.3M551.4,526V476.2M563.8,526V490.5M557.9,526V515.8M562.8,526V482.1M538.3,526V477.1M562.3,526V493.4M542.9,526V468.9M568.8,526V444M542.8,526V489.8M545.3,526V517.7" stroke="url(#h2)" stroke-width="1" opacity="0.6" fill="none"/>
<path d="M551.1,526V497.8M549.5,526V425.4M551.3,526V401.5M542.9,526V509.3M539.5,526V443M544.9,526V505.6M553.3,526V401.8M556.1,526V406.5M560.4,526V467.6M543.3,526V434.7" stroke="url(#c2)" stroke-width="1" opacity="0.6" fill="none"/>
<path d="M646.6,526V522.1M648.5,526V459.2M651.6,526V493M645.5,526V514.4M651.2,526V484.8M650.5,526V458.8M650.9,526V445M655,526V482.3" stroke="url(#h2)" stroke-width="1" opacity="0.6" fill="none"/>
<path d="M684.3,526V483.8M681.7,526V514.1M692.6,526V490M676.5,526V494.7M683.4,526V522.7M676.5,526V472.6M694.5,526V448.3M689.7,526V509.9M690.7,526V506.1M681.3,526V500.7" stroke="url(#h2)" stroke-width="1" opacity="0.5" fill="none"/>
<path d="M970.7,526V519.8M987.7,526V521.6M987.4,526V470.7M982.8,526V519.8M981.6,526V513.5M978.2,526V492.7" stroke="url(#c2)" stroke-width="1" opacity="0.6" fill="none"/>
<path d="M1071.6,526V522.5M1040.3,526V496.6M1058.4,526V492.7M1043,526V509M1065,526V496.2M1051.1,526V525.8M1041.5,526V477.2M1049.6,526V523.7M1050.2,526V517.3M1059,526V524.5M1058.9,526V492.8M1058.8,526V495.9M1048.5,526V507.8M1066.2,526V513.6" stroke="url(#c2)" stroke-width="1" opacity="0.5" fill="none"/>
<path d="M1087.1,526V512.9M1083.3,526V441.7M1085.3,526V505.5M1082,526V505M1086.3,526V497.4M1087.2,526V463.9M1087.1,526V481.1M1081.1,526V464.8M1082.8,526V523.3M1083,526V513.2M1078.8,526V506.4M1088.5,526V466.7M1082.8,526V475.8M1082.3,526V477.8" stroke="url(#h2)" stroke-width="1" opacity="0.8" fill="none"/>
<path d="M558,526V367" stroke="url(#h2)" stroke-width="1.5" opacity="1" fill="none"/>
<rect x="557.3" y="367" width="1.5" height="100" fill="#2a8cf0" opacity="0.7"/>
<rect x="635" y="367" width="1.2" height="159" fill="#3070f0" opacity="0.5"/>
<path d="M1048,526V475M972,526V440M985,526V445" stroke="url(#c2)" stroke-width="1.4" opacity="0.8" fill="none"/>
<path d="M979,526V470" stroke="url(#h2)" stroke-width="1.4" opacity="0.8" fill="none"/>
<path d="M1042.3,501.4C1044.9,501.8 1053.7,502.8 1058,503.5C1062.3,504.2 1065.6,504.4 1068,505.5C1070.4,506.6 1071.7,509.2 1072.4,510" stroke="#28b0d8" stroke-width="1.5" fill="none" opacity="0.85"/>
<path d="M1043.3,474.8C1045.2,475.3 1051.5,476.9 1055,478C1058.5,479.1 1061.8,479.3 1064.6,481.5C1067.4,483.7 1070.7,489.6 1071.9,491.2" stroke="#28b0d8" stroke-width="1.5" fill="none" opacity="0.85"/>
<path d="M1043.3,448.6C1045.2,449.2 1051.6,450.6 1055,452C1058.4,453.4 1060.9,454.8 1063.6,457.3C1066.3,459.8 1070.1,465.4 1071.4,467" stroke="#28b0d8" stroke-width="1.5" fill="none" opacity="0.85"/>
<path d="M1055.9,429.2C1057.2,430 1061.6,432.1 1064,434C1066.4,435.9 1069.3,439.7 1070.4,440.8" stroke="#28b0d8" stroke-width="1.5" fill="none" opacity="0.85"/>
<path d="M1054.9,404C1056.1,404.8 1059.7,406.6 1062,408.5C1064.3,410.4 1067.4,414.4 1068.5,415.6" stroke="#28b0d8" stroke-width="1.5" fill="none" opacity="0.85"/>
<rect x="165" y="525" width="989" height="3" fill="#f0c830"/>
<rect x="165" y="526.2" width="989" height="1.3" fill="#f8e41c"/>
<path d="M165,524h3.6v1h-3.6ZM186.9,523h2.3v2h-2.3ZM209.3,524.5h2.4v0.5h-2.4ZM221.1,523.5h5.6v1.5h-5.6ZM227.9,524.5h5.1v0.5h-5.1ZM235.8,523.5h1.5v1.5h-1.5ZM237.6,523h3.2v2h-3.2ZM247.8,524.5h1.5v0.5h-1.5ZM262.9,524.5h4.1v0.5h-4.1ZM289.4,524.5h4.7v0.5h-4.7ZM294.8,524h3.8v1h-3.8ZM309.2,524h2v1h-2ZM323.8,523h2.5v2h-2.5ZM327.4,524.2h5.2v0.8h-5.2ZM337.1,523.5h5v1.5h-5ZM344.1,524.5h4.7v0.5h-4.7ZM351.1,524.5h1.8v0.5h-1.8ZM353.3,524h4.9v1h-4.9ZM368.7,524.2h2.3v0.8h-2.3ZM385.9,524.2h5v0.8h-5ZM393.4,524h5.8v1h-5.8ZM400.4,524.2h3.7v0.8h-3.7ZM404.6,524.2h1.9v0.8h-1.9ZM409.3,523h1.8v2h-1.8ZM411.6,523.5h4v1.5h-4ZM418,524.2h5.1v0.8h-5.1ZM426.2,523h5.5v2h-5.5ZM433.1,524.2h5.7v0.8h-5.7ZM449.6,523.5h3.6v1.5h-3.6ZM453.6,524.2h4v0.8h-4ZM467.8,523.5h4.1v1.5h-4.1ZM481.4,524.2h4.1v0.8h-4.1ZM488.7,523h4.6v2h-4.6ZM501.8,524.5h1.6v0.5h-1.6ZM506.9,523h2.5v2h-2.5ZM517.1,523.5h4.6v1.5h-4.6ZM530.7,523h4.3v2h-4.3ZM535.2,524h5v1h-5ZM540.5,523h2.9v2h-2.9ZM547.2,523.5h4.2v1.5h-4.2ZM564.2,523h4.5v2h-4.5ZM571.8,524.5h2.4v0.5h-2.4ZM580.1,524h5.9v1h-5.9ZM586.4,524.5h1.6v0.5h-1.6ZM589.5,524.5h4.4v0.5h-4.4ZM593.9,524.5h4.9v0.5h-4.9ZM605.3,523.5h3.8v1.5h-3.8ZM609.4,524h2.6v1h-2.6ZM625,523.5h5.9v1.5h-5.9ZM634.6,524.2h5.4v0.8h-5.4ZM643.9,524h1.9v1h-1.9ZM647.6,524h3.4v1h-3.4ZM652.9,523.5h3.1v1.5h-3.1ZM657.7,524.2h1.9v0.8h-1.9ZM661.4,523h4.2v2h-4.2ZM667.4,523.5h2.3v1.5h-2.3ZM670,524h1.9v1h-1.9ZM674.1,524h2.3v1h-2.3ZM682.5,523.5h3.5v1.5h-3.5ZM686.9,524h3.9v1h-3.9ZM691.1,523.5h4.5v1.5h-4.5ZM697.5,524h5.4v1h-5.4ZM712.9,524.5h1.5v0.5h-1.5ZM714.7,524h1.5v1h-1.5ZM721.4,523.5h3.8v1.5h-3.8ZM733.1,524.2h3.1v0.8h-3.1ZM755.8,523.5h3.9v1.5h-3.9ZM763.3,524.2h4.9v0.8h-4.9ZM769.3,523h3.8v2h-3.8ZM775.8,524h2.5v1h-2.5ZM806.1,524.5h2.5v0.5h-2.5ZM819.3,524h6v1h-6ZM827.3,523.5h1.8v1.5h-1.8ZM832.6,524.5h3.5v0.5h-3.5ZM847.5,524.5h2.7v0.5h-2.7ZM862.2,524h1.6v1h-1.6ZM872.4,524.5h4.7v0.5h-4.7ZM889,523h5v2h-5ZM895.9,524h4.6v1h-4.6ZM901.2,524.5h2.1v0.5h-2.1ZM905.9,523.5h5.1v1.5h-5.1ZM922.7,523.5h1.6v1.5h-1.6ZM938.2,524.2h3.7v0.8h-3.7ZM943,524h4.3v1h-4.3ZM962.4,523h1.6v2h-1.6ZM966.8,524.2h2.6v0.8h-2.6ZM970.4,523.5h2.3v1.5h-2.3ZM976.4,524h3.2v1h-3.2ZM993.1,523h1.6v2h-1.6ZM1000.5,523.5h3.3v1.5h-3.3ZM1011.4,524h5.3v1h-5.3ZM1019.5,524h2.4v1h-2.4ZM1024.8,523.5h3.8v1.5h-3.8ZM1028.7,524h5.9v1h-5.9ZM1035.7,523.5h2.8v1.5h-2.8ZM1045.8,524.5h3.1v0.5h-3.1ZM1050.6,524h3.1v1h-3.1ZM1054,523.5h5.8v1.5h-5.8ZM1069.2,524h5.1v1h-5.1ZM1076,523.5h1.6v1.5h-1.6ZM1077.9,524.5h2.7v0.5h-2.7ZM1084.4,523h5.8v2h-5.8ZM1090.9,524.2h1.6v0.8h-1.6ZM1100,523.5h4.2v1.5h-4.2ZM1114.8,524.2h1.8v0.8h-1.8ZM1122.9,523h3.6v2h-3.6ZM1129.7,524h3.8v1h-3.8ZM1137.4,523h3.8v2h-3.8ZM1141.4,523h3.9v2h-3.9ZM1148.6,524h1.9v1h-1.9Z" fill="#f0c030" opacity="0.8"/>
</g>
<path d="M165,292.5 H1155 M165,528.5 H1155" stroke="#262626" stroke-width="1.2"/>
<defs><linearGradient id="cbg" x1="0" y1="0" x2="0" y2="1"><stop offset="0.000" stop-color="#f9fb0e"/><stop offset="0.053" stop-color="#f6d832"/><stop offset="0.143" stop-color="#feba3d"/><stop offset="0.183" stop-color="#f0b040"/><stop offset="0.226" stop-color="#d8b828"/><stop offset="0.286" stop-color="#b0c038"/><stop offset="0.337" stop-color="#88c850"/><stop offset="0.429" stop-color="#40c88a"/><stop offset="0.486" stop-color="#18beb4"/><stop offset="0.531" stop-color="#08b8c8"/><stop offset="0.571" stop-color="#10b0d0"/><stop offset="0.657" stop-color="#2898e0"/><stop offset="0.714" stop-color="#2e85f0"/><stop offset="0.810" stop-color="#4468f8"/><stop offset="0.857" stop-color="#4850ee"/><stop offset="0.929" stop-color="#4838d8"/><stop offset="1.000" stop-color="#3e26a8"/></linearGradient></defs>
<rect x="1225.5" y="118.5" width="32" height="399" fill="url(#cbg)" stroke="#262626" stroke-width="1.1"/>
<text x="1217.2" y="123.7" font-family="'Liberation Sans', sans-serif" font-size="15.2" font-weight="bold" text-anchor="end" fill="#262626" textLength="19.9" lengthAdjust="spacingAndGlyphs">10</text>
<path d="M1225.9,175.3 h4.5" stroke="#262626" stroke-width="1.1"/>
<text x="1217.2" y="180.7" font-family="'Liberation Sans', sans-serif" font-size="15.2" font-weight="bold" text-anchor="end" fill="#262626" textLength="9.9" lengthAdjust="spacingAndGlyphs">5</text>
<path d="M1225.9,232.4 h4.5" stroke="#262626" stroke-width="1.1"/>
<text x="1217.2" y="237.8" font-family="'Liberation Sans', sans-serif" font-size="15.2" font-weight="bold" text-anchor="end" fill="#262626" textLength="9.9" lengthAdjust="spacingAndGlyphs">0</text>
<path d="M1225.9,289.4 h4.5" stroke="#262626" stroke-width="1.1"/>
<text x="1217.2" y="294.8" font-family="'Liberation Sans', sans-serif" font-size="15.2" font-weight="bold" text-anchor="end" fill="#262626" textLength="15.9" lengthAdjust="spacingAndGlyphs">-5</text>
<path d="M1225.9,346.4 h4.5" stroke="#262626" stroke-width="1.1"/>
<text x="1217.2" y="351.8" font-family="'Liberation Sans', sans-serif" font-size="15.2" font-weight="bold" text-anchor="end" fill="#262626" textLength="25.8" lengthAdjust="spacingAndGlyphs">-10</text>
<path d="M1225.9,403.4 h4.5" stroke="#262626" stroke-width="1.1"/>
<text x="1217.2" y="408.8" font-family="'Liberation Sans', sans-serif" font-size="15.2" font-weight="bold" text-anchor="end" fill="#262626" textLength="25.8" lengthAdjust="spacingAndGlyphs">-15</text>
<path d="M1225.9,460.5 h4.5" stroke="#262626" stroke-width="1.1"/>
<text x="1217.2" y="465.9" font-family="'Liberation Sans', sans-serif" font-size="15.2" font-weight="bold" text-anchor="end" fill="#262626" textLength="25.8" lengthAdjust="spacingAndGlyphs">-20</text>
<text x="1217.2" y="522.9" font-family="'Liberation Sans', sans-serif" font-size="15.2" font-weight="bold" text-anchor="end" fill="#262626" textLength="25.8" lengthAdjust="spacingAndGlyphs">-25</text>
<text x="155.5" y="137.8" font-family="'Liberation Sans', sans-serif" font-size="22.4" text-anchor="end" fill="#262626">80</text>
<text x="155.5" y="178.1" font-family="'Liberation Sans', sans-serif" font-size="22.4" text-anchor="end" fill="#262626">60</text>
<text x="155.5" y="218.3" font-family="'Liberation Sans', sans-serif" font-size="22.4" text-anchor="end" fill="#262626">40</text>
<text x="155.5" y="258.6" font-family="'Liberation Sans', sans-serif" font-size="22.4" text-anchor="end" fill="#262626">20</text>
<text x="155.5" y="298.8" font-family="'Liberation Sans', sans-serif" font-size="22.4" text-anchor="end" fill="#262626">0</text>
<text x="155.5" y="373.8" font-family="'Liberation Sans', sans-serif" font-size="22.4" text-anchor="end" fill="#262626">80</text>
<text x="155.5" y="414.1" font-family="'Liberation Sans', sans-serif" font-size="22.4" text-anchor="end" fill="#262626">60</text>
<text x="155.5" y="454.3" font-family="'Liberation Sans', sans-serif" font-size="22.4" text-anchor="end" fill="#262626">40</text>
<text x="155.5" y="494.6" font-family="'Liberation Sans', sans-serif" font-size="22.4" text-anchor="end" fill="#262626">20</text>
<text x="155.5" y="534.8" font-family="'Liberation Sans', sans-serif" font-size="22.4" text-anchor="end" fill="#262626">0</text>
<path d="M165.5,673.5 H1154.5 M165.5,745.5 H1154.5 M428.5,601.5 V762.5 M722.5,601.5 V762.5 M1017.5,601.5 V762.5 " stroke="#dfdfdf" stroke-width="1"/>
<path d="M165.5,601.5 H1154.5 V762.5 H165.5 Z M165.5,601.5 h10 M1154.5,601.5 h-10 M165.5,673.5 h10 M1154.5,673.5 h-10 M165.5,745.5 h10 M1154.5,745.5 h-10 M428.5,601.5 v10 M428.5,762.5 v-10 M722.5,601.5 v10 M722.5,762.5 v-10 M1017.5,601.5 v10 M1017.5,762.5 v-10 " stroke="#262626" stroke-width="1.1" fill="none"/>
<text x="155.5" y="608.3" font-family="'Liberation Sans', sans-serif" font-size="22.4" text-anchor="end" fill="#262626">6</text>
<text x="155.5" y="680.3" font-family="'Liberation Sans', sans-serif" font-size="22.4" text-anchor="end" fill="#262626">4</text>
<text x="155.5" y="752.3" font-family="'Liberation Sans', sans-serif" font-size="22.4" text-anchor="end" fill="#262626">2</text>
<path d="M169.7,585.3 L178.4,594.2 M178.4,585.3 L169.7,594.2" stroke="#262626" stroke-width="1.1"/>
<text x="184" y="595" font-family="'Liberation Sans', sans-serif" font-size="22" fill="#262626">10</text>
<text x="210.8" y="586.8" font-family="'Liberation Sans', sans-serif" font-size="16.5" fill="#262626">4</text>
<defs><clipPath id="p3clip"><rect x="165" y="600" width="990" height="163"/></clipPath></defs>
<g clip-path="url(#p3clip)">
<path d="M165.1,735.4C170.8,737.6 187,745.2 199.2,748.7C211.4,752.2 225.3,754.6 238.4,756.6C251.5,758.6 263.2,759.9 277.6,760.9C292,761.9 311.6,762.5 324.7,762.5C337.8,762.5 344.2,762.1 356,760.9C367.8,759.6 383.2,758 395.3,755C407.4,752 415.5,748.6 428.6,743.2C441.7,737.8 459.6,728.2 473.7,722.5C487.8,716.8 499.9,713 513,708.7C526,704.5 538.9,700.9 552,697C565.1,693.1 578.3,689.1 591.4,685.2C604.5,681.3 619.7,676.5 630.6,673.4C641.5,670.3 646.3,668.5 657,666.5C667.7,664.5 683.7,661.7 694.6,661.5C705.5,661.3 712.4,662.6 722.3,665.1C732.2,667.6 742.1,671.2 754,676.2C765.9,681.2 781.1,689.7 793.6,694.8C806.1,699.9 818.1,705.8 829.3,706.7C840.5,707.6 850.5,705.1 861,700C871.5,694.9 880.7,685.1 892.6,676.2C904.5,667.3 920.3,653.8 932.2,646.5C944.1,639.2 954,635.6 963.9,632.6C973.8,629.6 982.7,628.6 991.6,628.7C1000.5,628.8 1007.5,629.8 1017.4,633.4C1027.3,637 1038.8,641.9 1051,650.4C1063.2,658.9 1077.4,673.5 1090.6,684.1C1103.8,694.7 1119.6,706.3 1130.2,713.8C1140.8,721.3 1150,726.4 1154,728.9" stroke="#00ff00" stroke-width="1.7" fill="none" transform="translate(0,0.4)"/>
<path d="M165.1,735.4C170.8,737.6 187,745.2 199.2,748.7C211.4,752.2 225.3,754.6 238.4,756.6C251.5,758.6 263.2,759.9 277.6,760.9C292,761.9 311.6,762.5 324.7,762.5C337.8,762.5 344.2,762.1 356,760.9C367.8,759.6 383.2,758 395.3,755C407.4,752 415.5,748.6 428.6,743.2C441.7,737.8 459.6,728.2 473.7,722.5C487.8,716.8 499.9,713 513,708.7C526,704.5 538.9,700.9 552,697C565.1,693.1 578.3,689.1 591.4,685.2C604.5,681.3 619.7,676.5 630.6,673.4C641.5,670.3 646.3,668.5 657,666.5C667.7,664.5 683.7,661.7 694.6,661.5C705.5,661.3 712.4,662.6 722.3,665.1C732.2,667.6 742.1,671.2 754,676.2C765.9,681.2 781.1,689.7 793.6,694.8C806.1,699.9 818.1,705.8 829.3,706.7C840.5,707.6 850.5,705.1 861,700C871.5,694.9 880.7,685.1 892.6,676.2C904.5,667.3 920.3,653.8 932.2,646.5C944.1,639.2 954,635.6 963.9,632.6C973.8,629.6 982.7,628.6 991.6,628.7C1000.5,628.8 1007.5,629.8 1017.4,633.4C1027.3,637 1038.8,641.9 1051,650.4C1063.2,658.9 1077.4,673.5 1090.6,684.1C1103.8,694.7 1119.6,706.3 1130.2,713.8C1140.8,721.3 1150,726.4 1154,728.9" stroke="#ff0000" stroke-width="1.5" fill="none" transform="translate(0,0.8)"/>
<path d="M165.1,735.4C170.8,737.6 187,745.2 199.2,748.7C211.4,752.2 225.3,754.6 238.4,756.6C251.5,758.6 263.2,759.9 277.6,760.9C292,761.9 311.6,762.5 324.7,762.5C337.8,762.5 344.2,762.1 356,760.9C367.8,759.6 383.2,758 395.3,755C407.4,752 415.5,748.6 428.6,743.2C441.7,737.8 459.6,728.2 473.7,722.5C487.8,716.8 499.9,713 513,708.7C526,704.5 538.9,700.9 552,697C565.1,693.1 578.3,689.1 591.4,685.2C604.5,681.3 619.7,676.5 630.6,673.4C641.5,670.3 646.3,668.5 657,666.5C667.7,664.5 683.7,661.7 694.6,661.5C705.5,661.3 712.4,662.6 722.3,665.1C732.2,667.6 742.1,671.2 754,676.2C765.9,681.2 781.1,689.7 793.6,694.8C806.1,699.9 818.1,705.8 829.3,706.7C840.5,707.6 850.5,705.1 861,700C871.5,694.9 880.7,685.1 892.6,676.2C904.5,667.3 920.3,653.8 932.2,646.5C944.1,639.2 954,635.6 963.9,632.6C973.8,629.6 982.7,628.6 991.6,628.7C1000.5,628.8 1007.5,629.8 1017.4,633.4C1027.3,637 1038.8,641.9 1051,650.4C1063.2,658.9 1077.4,673.5 1090.6,684.1C1103.8,694.7 1119.6,706.3 1130.2,713.8C1140.8,721.3 1150,726.4 1154,728.9" stroke="#7a4010" stroke-width="0.7" fill="none" opacity="0.45" transform="translate(0,0.6)"/>
</g>
<path d="M165.5,890.5 H1154.5 M165.5,944.5 H1154.5 M428.5,835.5 V999.5 M722.5,835.5 V999.5 M1017.5,835.5 V999.5 " stroke="#dfdfdf" stroke-width="1"/>
<path d="M165.5,835.5 H1154.5 V999.5 H165.5 Z M165.5,835.5 h10 M1154.5,835.5 h-10 M165.5,890.5 h10 M1154.5,890.5 h-10 M165.5,944.5 h10 M1154.5,944.5 h-10 M165.5,999.5 h10 M1154.5,999.5 h-10 M428.5,835.5 v10 M428.5,999.5 v-10 M722.5,835.5 v10 M722.5,999.5 v-10 M1017.5,835.5 v10 M1017.5,999.5 v-10 " stroke="#262626" stroke-width="1.1" fill="none"/>
<text x="155.5" y="842.3" font-family="'Liberation Sans', sans-serif" font-size="22.4" text-anchor="end" fill="#262626">100</text>
<text x="155.5" y="897.3" font-family="'Liberation Sans', sans-serif" font-size="22.4" text-anchor="end" fill="#262626">0</text>
<text x="155.5" y="951.3" font-family="'Liberation Sans', sans-serif" font-size="22.4" text-anchor="end" fill="#262626">-100</text>
<text x="155.5" y="1006.3" font-family="'Liberation Sans', sans-serif" font-size="22.4" text-anchor="end" fill="#262626">-200</text>
<path d="M165,876.6 L166,875.8 L167,876.8 L168,876.9 L169,876.7 L170,875.1 L171,875.9 L172,875.2 L173,876 L174,874.9 L175,875.6 L176,873.9 L177,874.2 L178,874.9 L179,874 L180,874.2 L181,873.8 L182,872.9 L183,873 L184,872.3 L185,872.1 L186,871.5 L187,871.7 L188,872 L189,870.8 L190,871.3 L191,870.2 L192,871.1 L193,871 L194,869.8 L195,869 L196,870.1 L197,869.6 L198,869 L199,869.1 L200,868.6 L201,869.1 L202,867.9 L203,868.6 L204,868.5 L205,868.4 L206,867.7 L207,867.2 L208,867.9 L209,867.8 L210,867.3 L211,867 L212,867.1 L213,867.2 L214,866.7 L215,867.3 L216,865.8 L217,867.1 L218,866 L219,866.8 L220,865.6 L221,865.9 L222,866.2 L223,865.6 L224,865.9 L225,866 L226,865.7 L227,865 L228,865.4 L229,865 L230,865.5 L231,864 L232,864.1 L233,863.7 L234,864.1 L235,864.7 L236,863.7 L237,864.3 L238,864.3 L239,864.2 L240,864.2 L241,863.5 L242,863.6 L243,862.5 L244,862.8 L245,863.2 L246,863.1 L247,862.1 L248,862 L249,863.1 L250,862.1 L251,861.4 L252,862.1 L253,861.2 L254,862.1 L255,862.1 L256,861.5 L257,861 L258,861.6 L259,860.3 L260,860.4 L261,860.1 L262,860.8 L263,860 L264,860.8 L265,860.2 L266,860.6 L267,860.4 L268,860.5 L269,859 L270,860.3 L271,859.7 L272,859.1 L273,859.5 L274,858.5 L275,859 L276,858.7 L277,858.5 L278,858.9 L279,857.9 L280,858 L281,857.7 L282,858.5 L283,858.6 L284,858.1 L285,857.3 L286,858.7 L287,857.8 L288,857.8 L289,858 L290,857.1 L291,858.4 L292,858.3 L293,857.3 L294,857 L295,857.2 L296,857.4 L297,857.4 L298,857 L299,856.4 L300,857 L301,857 L302,857.4 L303,857.2 L304,856.3 L305,857.4 L306,856.4 L307,857.1 L308,856.2 L309,857.3 L310,856.9 L311,856.5 L312,856.6 L313,856.5 L314,856.1 L315,856.6 L316,855.5 L317,855.6 L318,856.1 L319,856 L320,855 L321,855.3 L322,855.4 L323,854.6 L324,855.5 L325,855.9 L326,854.2 L327,854.5 L328,854.2 L329,854.1 L330,853.9 L331,855 L332,854.7 L333,854.2 L334,854.1 L335,854.7 L336,854.6 L337,854 L338,853.8 L339,853.4 L340,853.7 L341,854.1 L342,853.3 L343,853.3 L344,853 L345,853.1 L346,853.2 L347,852.5 L348,851.9 L349,852.9 L350,853 L351,852.5 L352,853 L353,852.4 L354,852.8 L355,852.3 L356,851.7 L357,851.6 L358,851.3 L359,852.1 L360,852.1 L361,851.5 L362,851 L363,851.2 L364,852.1 L365,851.9 L366,852 L367,851.6 L368,850.5 L369,851.9 L370,851.9 L371,851.5 L372,851.3 L373,850.3 L374,851.8 L375,851.4 L376,851.7 L377,851.1 L378,850.2 L379,851.3 L380,850.3 L381,850.1 L382,851.5 L383,850.2 L384,850.9 L385,850.9 L386,851.1 L387,851.3 L388,851.1 L389,851.2 L390,851.5 L391,850.6 L392,851 L393,850.5 L394,851.3 L395,850.8 L396,851.2 L397,851.2 L398,851.5 L399,852.6 L400,851.9 L401,853.4 L402,853 L403,853.7 L404,853.5 L405,853.7 L406,854.1 L407,853.4 L408,854.3 L409,854.2 L410,853.2 L411,854.6 L412,853.6 L413,855 L414,854.7 L415,855.2 L416,855.3 L417,854.4 L418,854.3 L419,855.4 L420,854.5 L421,854.8 L422,854.9 L423,855.2 L424,855 L425,856.5 L426,856 L427,855.6 L428,856 L429,855.6 L430,856.6 L431,856 L432,856 L433,856.2 L434,857 L435,857.3 L436,857.7 L437,857.1 L438,858.1 L439,857.8 L440,858.4 L441,858.6 L442,857.8 L443,857.6 L444,858.3 L445,858 L446,858.3 L447,858.6 L448,858.5 L449,860 L450,859.1 L451,859.1 L452,859.3 L453,860 L454,859.8 L455,859.8 L456,860.7 L457,860.9 L458,861.2 L459,861.7 L460,861.4 L461,860.9 L462,861.6 L463,861 L464,862.5 L465,862.6 L466,862.6 L467,863.3 L468,863.4 L469,862.5 L470,863.1 L471,862.7 L472,863.3 L473,863.4 L474,864.1 L475,864.6 L476,864.9 L477,864.5 L478,864.5 L479,864.5 L480,865.2 L481,865.1 L482,865.8 L483,866.1 L484,866.1 L485,865.9 L486,866.4 L487,866.1 L488,867.3 L489,867.3 L490,866.9 L491,867 L492,866.8 L493,867.9 L494,868.1 L495,868.4 L496,868.2 L497,867.9 L498,867.9 L499,868.8 L500,868.7 L501,869.3 L502,869.7 L503,869.8 L504,870.6 L505,870.4 L506,870.3 L507,870.6 L508,871 L509,870.8 L510,871.2 L511,871 L512,871 L513,871.2 L514,871.2 L515,871.8 L516,871.7 L517,872.7 L518,871.8 L519,872.1 L520,872.5 L521,872.1 L522,873.7 L523,872.7 L524,873.6 L525,874.8 L526,875.3 L527,875.7 L528,874.9 L529,874.5 L530,874.9 L531,874.9 L532,874.5 L533,874.6 L534,873.3 L535,872.9 L536,873.8 L537,872.9 L538,871.8 L539,871.3 L540,870.6 L541,870.1 L542,870 L543,870.3 L544,869.1 L545,869.1 L546,869.2 L547,867.6 L548,867.6 L549,866.8 L550,865.8 L551,866.6 L552,864.9 L553,865 L554,864.2 L555,863.8 L556,864.2 L557,862.8 L558,862.1 L559,861.9 L560,861.2 L561,862 L562,861.1 L563,860.1 L564,860.6 L565,858.7 L566,858.3 L567,858.5 L568,857.6 L569,857.8 L570,857.7 L571,857.5 L572,858.3 L573,857.7 L574,857 L575,858 L576,858.5 L577,858.3 L578,858.2 L579,858.7 L580,859.2 L581,860.4 L582,860.4 L583,862.1 L584,862.2 L585,863.8 L586,864.5 L587,865.1 L588,866.4 L589,866.6 L590,868.9 L591,869.2 L592,871.1 L593,871 L594,873 L595,873.2 L596,875.4 L597,876.3 L598,877 L599,877.9 L600,879 L601,879.8 L602,880.6 L603,881.9 L604,882.8 L605,883.9 L606,884 L607,885.7 L608,886.5 L609,886.2 L610,887.2 L611,889.4 L612,890 L613,891.5 L614,892.5 L615,892.6 L616,893.3 L617,894.4 L618,895.7 L619,895.9 L620,897.8 L621,897.9 L622,899.3 L623,899.4 L624,901.8 L625,902.4 L626,902.7 L627,903.3 L628,904 L629,904.7 L630,906.9 L631,906.3 L632,908.4 L633,908.5 L634,908.6 L635,909.6 L636,909.9 L637,910.4 L638,912.4 L639,912.9 L640,912.8 L641,913.3 L642,913.4 L643,914 L644,913.7 L645,914.3 L646,915.2 L647,915 L648,914.4 L649,914.1 L650,913.6 L651,912.5 L652,912.9 L653,912.1 L654,911.6 L655,910.2 L656,909.9 L657,910.6 L658,909.3 L659,908.2 L660,909.2 L661,907.5 L662,908 L663,907.8 L664,907.2 L665,907.2 L666,906.3 L667,906.1 L668,905.8 L669,905.9 L670,905.2 L671,905.3 L672,903.9 L673,904.4 L674,904 L675,903.3 L676,903.3 L677,901.8 L678,900.9 L679,900.5 L680,898.7 L681,896.1 L682,894.7 L683,893 L684,891 L685,888.1 L686,886.4 L687,884 L688,882.1 L689,880.5 L690,879.5 L691,877.3 L692,876.6 L693,874.4 L694,874.1 L695,872.6 L696,871.6 L697,871.3 L698,870.7 L699,870.3 L700,870.4 L701,869.9 L702,868.7 L703,868.7 L704,868.6 L705,867.8 L706,868.3 L707,867.2 L708,867.7 L709,867.6 L710,867.2 L711,868.4 L712,868.3 L713,868.4 L714,869 L715,869.3 L716,869.4 L717,868.8 L718,869.5 L719,870.2 L720,870.9 L721,870.5 L722,871.8 L723,870.9 L724,872.1 L725,871.5 L726,872.1 L727,873 L728,872.4 L729,873.1 L730,873.7 L731,872.8 L732,874.3 L733,874.6 L734,875.2 L735,875 L736,874.6 L737,874.9 L738,875.2 L739,876 L740,876.7 L741,876.7 L742,877.5 L743,877.4 L744,877.4 L745,877.7 L746,878.6 L747,877.9 L748,879.5 L749,879.4 L750,880 L751,879.2 L752,879.9 L753,881 L754,880.9 L755,881.2 L756,881.7 L757,881 L758,881.1 L759,881.5 L760,881.3 L761,881 L762,882.6 L763,881.2 L764,882.1 L765,881.9 L766,882.1 L767,882.2 L768,882.8 L769,882.2 L770,881.6 L771,882.7 L772,882.3 L773,881.4 L774,881.4 L775,881.6 L776,882.1 L777,881.6 L778,882 L779,881.9 L780,881 L781,880.2 L782,881.4 L783,880.5 L784,879.8 L785,879.9 L786,879.5 L787,880.1 L788,880.1 L789,879.5 L790,878.8 L791,879.3 L792,879.5 L793,878.2 L794,878.3 L795,879.2 L796,879.3 L797,877.9 L798,878 L799,878.2 L800,878.3 L801,877.8 L802,877 L803,877.5 L804,877.4 L805,877.2 L806,876.2 L807,877.4 L808,876.8 L809,875.8 L810,875.7 L811,876.4 L812,875.8 L813,876.3 L814,875 L815,874.8 L816,874.6 L817,874.7 L818,875.3 L819,874 L820,874.3 L821,874.8 L822,873.5 L823,873.5 L824,873.2 L825,874.3 L826,874 L827,874 L828,872.9 L829,873.3 L830,873.6 L831,872.7 L832,872.6 L833,873.3 L834,873.2 L835,872.1 L836,873.2 L837,872.7 L838,871.9 L839,873.2 L840,872 L841,873.2 L842,872.4 L843,873.4 L844,873.3 L845,873.3 L846,872.9 L847,873.6 L848,873.7 L849,873.8 L850,872.8 L851,873.3 L852,873.1 L853,873.6 L854,874.1 L855,874.1 L856,873.9 L857,874.8 L858,874.2 L859,875 L860,874.7 L861,874.4 L862,874.9 L863,875.8 L864,875.3 L865,874.9 L866,875.3 L867,876.3 L868,876 L869,875.5 L870,877.2 L871,876.7 L872,876.7 L873,876.7 L874,876.6 L875,878.1 L876,878.3 L877,878.2 L878,878.3 L879,878.6 L880,879.5 L881,879.2 L882,879.3 L883,880 L884,880.5 L885,880.3 L886,879.8 L887,880 L888,880.3 L889,881.5 L890,880.5 L891,881.2 L892,882 L893,882.6 L894,882.1 L895,881.8 L896,882.5 L897,882.7 L898,883.9 L899,882.8 L900,883.9 L901,884.2 L902,884.5 L903,884 L904,884.2 L905,885 L906,884.9 L907,885.6 L908,886.1 L909,886 L910,886 L911,886.7 L912,887 L913,886.7 L914,887.2 L915,887.3 L916,887.9 L917,888.5 L918,887.9 L919,887.5 L920,888.1 L921,889.1 L922,888.8 L923,888.9 L924,888.8 L925,889.1 L926,889.5 L927,889.4 L928,889.4 L929,889.4 L930,890.4 L931,889.4 L932,890.4 L933,890.2 L934,889.6 L935,889.6 L936,890.6 L937,889.7 L938,889.5 L939,890.2 L940,889.1 L941,888.8 L942,888.9 L943,888.1 L944,888.1 L945,886.4 L946,886.8 L947,886.4 L948,885.7 L949,884.3 L950,883 L951,881.1 L952,881.5 L953,879.7 L954,877.6 L955,876.4 L956,875.5 L957,873.7 L958,872.9 L959,870.3 L960,870 L961,868.6 L962,868.1 L963,866.7 L964,864.7 L965,865.4 L966,863.6 L967,863.7 L968,865 L969,865 L970,867 L971,870.7 L972,875.2 L973,880 L974,884.5 L975,891.4 L976,897.7 L977,904.6 L978,912.6 L979,920.3 L980,926.7 L981,934.1 L982,941.1 L983,947.7 L984,953.3 L985,959.9 L986,966 L987,969.6 L988,974.9 L989,977.3 L990,980.5 L991,982.7 L992,983 L993,983.9 L994,984.9 L995,985.7 L996,985.6 L997,985.5 L998,985.4 L999,984.8 L1000,984.7 L1001,983.4 L1002,983.4 L1003,983 L1004,982 L1005,982 L1006,981.2 L1007,979.7 L1008,979.9 L1009,978.5 L1010,978.3 L1011,977.5 L1012,977.2 L1013,975.9 L1014,974.3 L1015,973.6 L1016,972.6 L1017,973.1 L1018,971 L1019,971.1 L1020,969.6 L1021,969.9 L1022,968.7 L1023,968.1 L1024,967.2 L1025,965.7 L1026,966.2 L1027,964.7 L1028,964.6 L1029,965.4 L1030,965.6 L1031,964.2 L1032,964.9 L1033,965.5 L1034,965.7 L1035,965.8 L1036,965.6 L1037,965.8 L1038,966 L1039,966.6 L1040,965.5 L1041,965.5 L1042,965.6 L1043,965.7 L1044,964.5 L1045,963.6 L1046,962.9 L1047,962.3 L1048,962.6 L1049,960.8 L1050,960.3 L1051,959.8 L1052,958.5 L1053,958.2 L1054,956.1 L1055,955.2 L1056,954.1 L1057,952.8 L1058,951.9 L1059,951.1 L1060,950 L1061,947.7 L1062,947.1 L1063,945 L1064,942.7 L1065,941.1 L1066,939.6 L1067,937.5 L1068,934.5 L1069,931.8 L1070,929.1 L1071,926.6 L1072,924.5 L1073,922.2 L1074,919 L1075,916.8 L1076,915.4 L1077,913 L1078,910.4 L1079,908.4 L1080,903.2 L1081,901.4 L1082,898.7 L1083,897.1 L1084,896.1 L1085,894.7 L1086,893.4 L1087,892.9 L1088,892 L1089,890.9 L1090,890.9 L1091,890.6 L1092,888.9 L1093,890.3 L1094,889.9 L1095,889.2 L1096,889.7 L1097,889.1 L1098,889.8 L1099,889.7 L1100,889.1 L1101,889.8 L1102,890.1 L1103,890.2 L1104,890.8 L1105,891.5 L1106,891.2 L1107,891.3 L1108,891.5 L1109,891.6 L1110,892.6 L1111,892.4 L1112,891.7 L1113,892.1 L1114,891.9 L1115,892 L1116,892.2 L1117,892 L1118,893.3 L1119,892.4 L1120,893.7 L1121,892.8 L1122,892.9 L1123,893 L1124,893.1 L1125,893.6 L1126,893.9 L1127,893.7 L1128,893.5 L1129,893.2 L1130,893.5 L1131,892.6 L1132,893.6 L1133,892.8 L1134,892.2 L1135,892.4 L1136,891.4 L1137,891.7 L1138,891.5 L1139,891.6 L1140,890.5 L1141,890.8 L1142,889.7 L1143,889.5 L1144,889.2 L1145,889.5 L1146,889.4 L1147,888.6 L1148,888 L1149,887.2 L1150,887.5 L1151,888.2 L1152,888 L1153,887.6 L1154,886.7 L1154,900.5 L1153,901.1 L1152,900.3 L1151,900.5 L1150,900.9 L1149,901.7 L1148,901.7 L1147,901.4 L1146,903.1 L1145,902.4 L1144,903.6 L1143,903.8 L1142,903.3 L1141,903.5 L1140,905.2 L1139,905.5 L1138,905.1 L1137,906.1 L1136,905.5 L1135,905.1 L1134,905.5 L1133,906.1 L1132,906.8 L1131,907.4 L1130,907.6 L1129,907.3 L1128,907.1 L1127,907 L1126,906.3 L1125,906.5 L1124,907.7 L1123,907 L1122,907.5 L1121,906.3 L1120,906.8 L1119,906.6 L1118,906.8 L1117,907.1 L1116,906.5 L1115,905.5 L1114,905.7 L1113,905.6 L1112,905.2 L1111,906 L1110,905.9 L1109,906.1 L1108,905.5 L1107,904.3 L1106,903.9 L1105,904.2 L1104,904.6 L1103,904.2 L1102,903.7 L1101,903.3 L1100,902.3 L1099,903.6 L1098,902.2 L1097,902.2 L1096,903.3 L1095,903.1 L1094,903.2 L1093,903.7 L1092,903.3 L1091,903 L1090,903.6 L1089,903.8 L1088,905.1 L1087,906.3 L1086,906.8 L1085,907.2 L1084,909.8 L1083,911.1 L1082,911.9 L1081,915 L1080,916.2 L1079,920.6 L1078,923.4 L1077,926.1 L1076,927.2 L1075,930.4 L1074,932.4 L1073,935.6 L1072,938.1 L1071,940.8 L1070,943.2 L1069,945.4 L1068,947.5 L1067,949.8 L1066,952 L1065,953.5 L1064,955.9 L1063,957.9 L1062,958.8 L1061,961.6 L1060,962.6 L1059,963.4 L1058,964.6 L1057,966.5 L1056,967.5 L1055,968.8 L1054,969.7 L1053,969.9 L1052,970.8 L1051,972.1 L1050,973.8 L1049,974.6 L1048,975.1 L1047,975.4 L1046,975.9 L1045,976.9 L1044,977.6 L1043,978.5 L1042,978.5 L1041,978.8 L1040,979.4 L1039,978.5 L1038,979.3 L1037,978.1 L1036,977.7 L1035,977.7 L1034,977.5 L1033,977.8 L1032,977.9 L1031,978.4 L1030,978.4 L1029,978.5 L1028,977.6 L1027,978.5 L1026,978.4 L1025,978.7 L1024,979.3 L1023,980.4 L1022,981.4 L1021,982 L1020,982.4 L1019,983.9 L1018,985.3 L1017,986 L1016,986 L1015,986.8 L1014,988.2 L1013,988.4 L1012,989.2 L1011,990.8 L1010,991.4 L1009,992 L1008,992.8 L1007,993.2 L1006,993.7 L1005,994.8 L1004,995.1 L1003,995.8 L1002,995.7 L1001,997.3 L1000,997.9 L999,998.2 L998,998 L997,998.1 L996,998 L995,998 L994,997.1 L993,997.6 L992,997 L991,995.2 L990,992.4 L989,989.8 L988,986.5 L987,982.7 L986,978.2 L985,972.2 L984,967.1 L983,960 L982,954.1 L981,946.9 L980,940.1 L979,932.1 L978,925.8 L977,918 L976,911.3 L975,904.7 L974,897.3 L973,891.4 L972,886.9 L971,883.5 L970,880.4 L969,878.5 L968,878.1 L967,876.1 L966,876.5 L965,878.1 L964,878.4 L963,878.5 L962,879.4 L961,881.5 L960,882.2 L959,883.1 L958,885.5 L957,886.9 L956,888.1 L955,888.9 L954,891.4 L953,892.1 L952,894.3 L951,895.1 L950,895.4 L949,897.6 L948,897.4 L947,899.2 L946,899.4 L945,899.7 L944,899.7 L943,900.5 L942,901.7 L941,901.7 L940,902.3 L939,901.9 L938,902.5 L937,903.2 L936,901.9 L935,903.5 L934,902.5 L933,902.1 L932,903.1 L931,902.2 L930,902.1 L929,902.7 L928,903.1 L927,902.4 L926,901.5 L925,902.7 L924,901.6 L923,901.7 L922,902.2 L921,901.8 L920,900.9 L919,900.8 L918,901.3 L917,899.7 L916,900.4 L915,900 L914,899.3 L913,900.3 L912,899.5 L911,899.9 L910,898.6 L909,899.1 L908,898.9 L907,898.2 L906,897.4 L905,898 L904,897.3 L903,897.2 L902,896.4 L901,897 L900,897 L899,896.8 L898,895.5 L897,895.6 L896,895.4 L895,894.6 L894,894.5 L893,894.5 L892,894.2 L891,894.4 L890,893.9 L889,894.5 L888,893.4 L887,893 L886,892.9 L885,893.1 L884,892.2 L883,891.6 L882,891.9 L881,892.4 L880,891 L879,890.6 L878,891.5 L877,890.8 L876,890.7 L875,889.9 L874,889.7 L873,889.9 L872,889.1 L871,890.1 L870,889.2 L869,888.5 L868,888.7 L867,889.2 L866,888 L865,888.2 L864,888.8 L863,888.6 L862,888.5 L861,888.3 L860,887.2 L859,886.5 L858,887 L857,887.6 L856,887.1 L855,887.4 L854,886 L853,886.4 L852,886.7 L851,885.7 L850,886.1 L849,886.5 L848,886.3 L847,885 L846,885.2 L845,886.4 L844,885.4 L843,886.2 L842,885.9 L841,885.4 L840,885.4 L839,886 L838,885.8 L837,886.1 L836,885.4 L835,885.6 L834,885.2 L833,885.4 L832,886.4 L831,885.8 L830,886.6 L829,886 L828,886.3 L827,886.4 L826,886.2 L825,886.5 L824,887.3 L823,886.3 L822,887.5 L821,886.2 L820,886.5 L819,887.5 L818,888.1 L817,887.6 L816,887.4 L815,887.4 L814,888.5 L813,889.2 L812,888 L811,888.1 L810,888.8 L809,888.4 L808,889.1 L807,888.7 L806,890 L805,889.3 L804,890.8 L803,889.7 L802,890.2 L801,890 L800,891 L799,890.1 L798,890.7 L797,891.7 L796,891.8 L795,891.4 L794,892 L793,892.3 L792,892.5 L791,891.3 L790,892.3 L789,892.8 L788,892.5 L787,891.9 L786,892.1 L785,893.7 L784,893.8 L783,893.5 L782,893.3 L781,893.1 L780,894.4 L779,893.7 L778,894.9 L777,894.8 L776,895.1 L775,894.1 L774,895 L773,894.4 L772,894.8 L771,894.4 L770,894.5 L769,894.6 L768,895.1 L767,894.2 L766,894.2 L765,894.1 L764,895 L763,894.7 L762,894.4 L761,894.2 L760,894.7 L759,894.6 L758,894.5 L757,893.5 L756,893.3 L755,894.3 L754,892.6 L753,893.4 L752,893.1 L751,892.4 L750,892.7 L749,892.7 L748,891 L747,892.1 L746,890.9 L745,890.8 L744,891.3 L743,889.8 L742,890 L741,890.3 L740,889.7 L739,889.3 L738,888 L737,887.6 L736,888.7 L735,887.9 L734,887.5 L733,886.7 L732,886.2 L731,885.8 L730,886.7 L729,885.1 L728,884.8 L727,885.1 L726,884.4 L725,884.3 L724,884.5 L723,885.1 L722,884.7 L721,883 L720,884.2 L719,883.1 L718,883.3 L717,883.2 L716,882.3 L715,881.1 L714,881.8 L713,880.7 L712,881.6 L711,881.1 L710,880.4 L709,880 L708,881.2 L707,880.6 L706,881.2 L705,881.5 L704,881.1 L703,881.2 L702,882.2 L701,882.4 L700,882.7 L699,882.5 L698,883.6 L697,884.3 L696,885.4 L695,885.2 L694,886.3 L693,887 L692,888.3 L691,890.6 L690,891.8 L689,893.6 L688,895.5 L687,897.4 L686,898.8 L685,901.6 L684,903.8 L683,905.9 L682,907.6 L681,909.7 L680,911.3 L679,913.2 L678,913.7 L677,915.1 L676,916.6 L675,916 L674,916.9 L673,917.2 L672,917.6 L671,917.3 L670,917.4 L669,917.7 L668,919.1 L667,918.3 L666,919.2 L665,919.2 L664,919.8 L663,920 L662,920.2 L661,920.3 L660,921.8 L659,921.3 L658,922.5 L657,922.2 L656,923.3 L655,923.4 L654,923.7 L653,925 L652,925.1 L651,926.6 L650,926.4 L649,926.5 L648,927.3 L647,926.9 L646,926.5 L645,926.7 L644,927.3 L643,926.7 L642,927.4 L641,927 L640,926.1 L639,924.7 L638,924.4 L637,923.4 L636,924 L635,922.3 L634,921.4 L633,921.1 L632,921 L631,920.3 L630,918.7 L629,918.5 L628,916.7 L627,916.4 L626,915.3 L625,914.1 L624,914 L623,913 L622,912.4 L621,911.2 L620,910.8 L619,910.1 L618,908.4 L617,907.3 L616,906.9 L615,905.1 L614,904.2 L613,903.7 L612,902.7 L611,901.4 L610,900.1 L609,900.3 L608,898.5 L607,898.5 L606,897.5 L605,896 L604,894.6 L603,894.5 L602,892.6 L601,891.8 L600,891.9 L599,890.2 L598,890 L597,888.5 L596,886.7 L595,887 L594,885.7 L593,885.1 L592,883 L591,882 L590,881.2 L589,879.6 L588,878.5 L587,878.6 L586,876.5 L585,875.7 L584,875.8 L583,874.4 L582,873.8 L581,872.5 L580,873 L579,872.9 L578,872.3 L577,871.7 L576,871.6 L575,870.1 L574,870.7 L573,870.5 L572,870.4 L571,871.2 L570,870.2 L569,870.8 L568,871.6 L567,871.2 L566,871.6 L565,871.6 L564,872.5 L563,872.8 L562,874 L561,873.6 L560,874 L559,875.1 L558,875.3 L557,876.5 L556,876.2 L555,877.5 L554,877.2 L553,877.5 L552,878 L551,878.1 L550,879.6 L549,879.1 L548,880.9 L547,880.5 L546,880.8 L545,881.1 L544,883 L543,882 L542,882.8 L541,883.6 L540,884.2 L539,883.9 L538,884.6 L537,886 L536,886.6 L535,887.1 L534,886.4 L533,886.4 L532,887.8 L531,887.7 L530,888.5 L529,888.3 L528,887.4 L527,887.6 L526,887.6 L525,886.8 L524,886 L523,886.1 L522,885.9 L521,885.5 L520,884.7 L519,885.3 L518,884.8 L517,884.4 L516,883.9 L515,883.9 L514,885 L513,884.1 L512,883.6 L511,883.7 L510,884 L509,883.6 L508,882.7 L507,882.7 L506,883.7 L505,883.3 L504,882.3 L503,882.8 L502,881.8 L501,882.1 L500,882.1 L499,881.1 L498,881.2 L497,882 L496,881.1 L495,881.2 L494,881.3 L493,880.7 L492,879.5 L491,880.2 L490,880.3 L489,880.4 L488,879.3 L487,879.3 L486,878.1 L485,879.3 L484,878.8 L483,878.7 L482,877.8 L481,877.1 L480,878.5 L479,876.9 L478,876.7 L477,877.6 L476,876.6 L475,877.6 L474,876.9 L473,877.2 L472,875.7 L471,875.8 L470,876.1 L469,876.1 L468,875.7 L467,875.2 L466,874.4 L465,875.1 L464,875.2 L463,874.5 L462,874.9 L461,873.6 L460,874.6 L459,873.6 L458,874 L457,874 L456,873.9 L455,873.6 L454,872.3 L453,872.1 L452,873.4 L451,871.9 L450,872.4 L449,871.4 L448,871.9 L447,872.3 L446,871.7 L445,871.5 L444,871.9 L443,871.9 L442,871.3 L441,870.9 L440,870.1 L439,869.9 L438,871 L437,870.5 L436,870.4 L435,869.8 L434,870.4 L433,869.6 L432,868.8 L431,869.2 L430,869.9 L429,869.2 L428,868.8 L427,868.6 L426,869.4 L425,868.2 L424,867.6 L423,867.6 L422,868.7 L421,867.8 L420,868.2 L419,867.9 L418,867.2 L417,867.9 L416,867 L415,867.6 L414,866.7 L413,866.4 L412,866.8 L411,866.2 L410,867.2 L409,867.3 L408,867 L407,865.7 L406,866.6 L405,865.8 L404,866.3 L403,866.2 L402,865.9 L401,864.7 L400,865.5 L399,864.3 L398,865.1 L397,864.6 L396,863.8 L395,864.6 L394,864.3 L393,864.6 L392,863.9 L391,863.9 L390,863.9 L389,862.8 L388,863.3 L387,863.7 L386,864 L385,864.1 L384,863.9 L383,863.9 L382,863.4 L381,862.9 L380,864.1 L379,863.4 L378,864.4 L377,864.2 L376,863.1 L375,864.4 L374,864.2 L373,863.9 L372,863.2 L371,863.1 L370,863.4 L369,864.3 L368,863.5 L367,864.1 L366,864.9 L365,864.1 L364,864.9 L363,865.1 L362,864.1 L361,864 L360,864.4 L359,864.6 L358,863.9 L357,864.5 L356,864.3 L355,865.3 L354,865.2 L353,865.4 L352,864.8 L351,865.1 L350,865.2 L349,864.6 L348,866.2 L347,865.5 L346,865.1 L345,866 L344,865 L343,866.4 L342,866.3 L341,865.6 L340,867 L339,867 L338,866.7 L337,865.8 L336,867.3 L335,866.1 L334,866.7 L333,866.9 L332,867.8 L331,867.9 L330,867.5 L329,867.5 L328,867.9 L327,867.3 L326,867.9 L325,867.3 L324,867.7 L323,868.4 L322,867.8 L321,869.1 L320,868.3 L319,868.7 L318,869 L317,869.4 L316,869.1 L315,868.1 L314,869.1 L313,869.2 L312,868.3 L311,869 L310,869.3 L309,868.9 L308,869.2 L307,868.6 L306,868.7 L305,869.6 L304,869.7 L303,869.2 L302,869.3 L301,870.5 L300,869.2 L299,870.7 L298,870.3 L297,870.7 L296,870.4 L295,870.3 L294,870.7 L293,869.7 L292,870.7 L291,869.6 L290,870.5 L289,870.1 L288,871.3 L287,871.2 L286,871.2 L285,870.1 L284,870.7 L283,871.6 L282,870.6 L281,870.5 L280,871.2 L279,870.8 L278,871.7 L277,872 L276,871.3 L275,871 L274,871.6 L273,872.3 L272,872.4 L271,871.7 L270,872.8 L269,872.4 L268,872.2 L267,872.6 L266,872.1 L265,873.2 L264,873.6 L263,872.9 L262,873.3 L261,873.5 L260,873.9 L259,873.7 L258,873.8 L257,873.5 L256,874.7 L255,873.9 L254,874.1 L253,875.1 L252,875.4 L251,874.3 L250,875.6 L249,874.5 L248,874.7 L247,874.7 L246,875.8 L245,875.9 L244,876.2 L243,876.2 L242,875.5 L241,876.5 L240,876.2 L239,875.7 L238,876.1 L237,876.8 L236,876.1 L235,877.3 L234,877.1 L233,877.7 L232,877.2 L231,877.8 L230,878.3 L229,878.4 L228,877.6 L227,878 L226,877.7 L225,878.9 L224,878.2 L223,877.8 L222,878.9 L221,879.2 L220,878.5 L219,879.6 L218,879.7 L217,879.1 L216,879.6 L215,879.1 L214,880.3 L213,879.6 L212,879.5 L211,880 L210,880.7 L209,879.5 L208,881.1 L207,881 L206,880.2 L205,881.1 L204,880.2 L203,881.3 L202,881.5 L201,881.6 L200,881 L199,881 L198,881.3 L197,882.7 L196,881.8 L195,882.4 L194,882.9 L193,883.5 L192,882.9 L191,882.8 L190,884.3 L189,884.4 L188,884.3 L187,884.7 L186,885.1 L185,884.9 L184,885.8 L183,884.9 L182,886.4 L181,885.5 L180,886.1 L179,887.4 L178,886.8 L177,888 L176,886.8 L175,887 L174,887.3 L173,888.7 L172,888.1 L171,888.4 L170,889 L169,888.9 L168,888.3 L167,888.4 L166,888.7 L165,889.4 Z" fill="#0000f8"/>
<path d="M165,882.9 L168,882.7 L171,882.1 L174,881.5 L177,880.8 L180,880.1 L183,879.3 L186,878.5 L189,877.7 L192,876.9 L195,876.2 L198,875.6 L201,875 L204,874.6 L207,874.1 L210,873.7 L213,873.3 L216,872.9 L219,872.6 L222,872.2 L225,871.8 L228,871.5 L231,871.1 L234,870.8 L237,870.4 L240,870 L243,869.6 L246,869.2 L249,868.8 L252,868.3 L255,867.9 L258,867.5 L261,867.1 L264,866.7 L267,866.3 L270,865.9 L273,865.6 L276,865.3 L279,865 L282,864.7 L285,864.5 L288,864.2 L291,864 L294,863.8 L297,863.6 L300,863.5 L303,863.3 L306,863.1 L309,862.9 L312,862.7 L315,862.5 L318,862.2 L321,861.9 L324,861.6 L327,861.3 L330,861 L333,860.6 L336,860.3 L339,860 L342,859.6 L345,859.3 L348,859 L351,858.8 L354,858.5 L357,858.3 L360,858.1 L363,857.9 L366,857.8 L369,857.6 L372,857.5 L375,857.4 L378,857.3 L381,857.2 L384,857.2 L387,857.2 L390,857.2 L393,857.4 L396,857.9 L399,858.5 L402,859.3 L405,859.8 L408,860.1 L411,860.4 L414,860.7 L417,861.1 L420,861.4 L423,861.8 L426,862.2 L429,862.6 L432,863.1 L435,863.6 L438,864 L441,864.4 L444,864.9 L447,865.4 L450,865.9 L453,866.4 L456,866.9 L459,867.4 L462,868 L465,868.5 L468,869.1 L471,869.7 L474,870.2 L477,870.8 L480,871.3 L483,871.9 L486,872.5 L489,873.2 L492,873.8 L495,874.5 L498,875.1 L501,875.7 L504,876.3 L507,876.9 L510,877.4 L513,877.9 L516,878.3 L519,878.9 L522,879.4 L525,880.6 L528,881.5 L531,881.4 L534,880.4 L537,879.1 L540,877.7 L543,876.3 L546,874.9 L549,873.4 L552,871.9 L555,870.5 L558,869.1 L561,867.7 L564,866.3 L567,865 L570,864.2 L573,864.1 L576,864.6 L579,865.7 L582,867.5 L585,869.8 L588,872.7 L591,875.9 L594,879 L597,882 L600,884.8 L603,887.6 L606,890.4 L609,893.3 L612,896.2 L615,899.1 L618,901.9 L621,904.7 L624,907.5 L627,910.2 L630,912.6 L633,914.8 L636,916.9 L639,918.7 L642,920.2 L645,920.9 L648,920.6 L651,919.4 L654,917.8 L657,916.2 L660,914.9 L663,913.8 L666,912.8 L669,911.8 L672,911 L675,909.9 L678,907.6 L681,903.1 L684,897 L687,891.1 L690,885.8 L693,881.4 L696,878.5 L699,876.6 L702,875.3 L705,874.5 L708,874.1 L711,874.3 L714,874.9 L717,876 L720,877 L723,877.9 L726,878.6 L729,879.4 L732,880.3 L735,881.2 L738,882.2 L741,883.2 L744,884.2 L747,885.1 L750,886 L753,886.7 L756,887.4 L759,887.9 L762,888.3 L765,888.5 L768,888.6 L771,888.5 L774,888.3 L777,887.9 L780,887.5 L783,887 L786,886.5 L789,885.9 L792,885.5 L795,885 L798,884.6 L801,884.1 L804,883.6 L807,883.1 L810,882.5 L813,882 L816,881.4 L819,880.9 L822,880.4 L825,880 L828,879.6 L831,879.4 L834,879.2 L837,879 L840,879 L843,879.1 L846,879.3 L849,879.6 L852,879.9 L855,880.3 L858,880.7 L861,881.2 L864,881.7 L867,882.2 L870,882.8 L873,883.5 L876,884.2 L879,884.9 L882,885.7 L885,886.4 L888,887.2 L891,887.9 L894,888.6 L897,889.2 L900,889.9 L903,890.7 L906,891.4 L909,892.2 L912,892.9 L915,893.7 L918,894.3 L921,894.9 L924,895.4 L927,895.9 L930,896.1 L933,896.3 L936,896.3 L939,895.9 L942,895 L945,893.5 L948,891.3 L951,888.3 L954,884.5 L957,880.2 L960,876.1 L963,872.8 L966,870.6 L969,872.1 L972,880.9 L975,897.8 L978,918.8 L981,940.2 L984,960.2 L987,976.6 L990,986.6 L993,990.8 L996,991.8 L999,991.4 L1002,990 L1005,988 L1008,985.9 L1011,983.7 L1014,981.4 L1017,978.9 L1020,976.4 L1023,974.1 L1026,972.3 L1029,971.3 L1032,971.4 L1035,971.9 L1038,972.4 L1041,972.1 L1044,970.9 L1047,969.1 L1050,966.9 L1053,964.2 L1056,961 L1059,957.3 L1062,952.9 L1065,947.6 L1068,941.1 L1071,933.8 L1074,926.2 L1077,919 L1080,909.4 L1083,904 L1086,900 L1089,897.6 L1092,896.5 L1095,896.1 L1098,896 L1101,896.5 L1104,897.2 L1107,898 L1110,898.7 L1113,899.1 L1116,899.5 L1119,899.8 L1122,900.1 L1125,900.2 L1128,900.1 L1131,899.8 L1134,899.3 L1137,898.5 L1140,897.6 L1143,896.6 L1146,895.7 L1149,894.8 L1152,894.2" stroke="#0000f8" stroke-width="4.5" fill="none" stroke-linejoin="round"/>
<path d="M165,878.6 L166,879 L167,878.8 L168,878.8 L169,877.9 L170,878.5 L171,877.8 L172,877.5 L173,877.7 L174,877.8 L175,877.2 L176,877.2 L177,877 L178,876.6 L179,876.3 L180,875.7 L181,876 L182,875.8 L183,874.7 L184,874.5 L185,874.3 L186,874 L187,874.3 L188,873.5 L189,873.7 L190,873.6 L191,872.8 L192,872.5 L193,872.6 L194,872.5 L195,871.6 L196,871.7 L197,871.4 L198,871 L199,871.3 L200,870.9 L201,871 L202,870.7 L203,870.3 L204,870.2 L205,870.7 L206,870.1 L207,869.7 L208,869.7 L209,869.5 L210,869.8 L211,869 L212,869 L213,869.5 L214,869.3 L215,869.2 L216,868.7 L217,868.8 L218,868.4 L219,868.6 L220,868.3 L221,868.1 L222,867.7 L223,868 L224,868.1 L225,867.3 L226,867.7 L227,867.4 L228,867.2 L229,867 L230,866.8 L231,866.8 L232,867 L233,866.5 L234,866.2 L235,866.3 L236,866.7 L237,866.5 L238,866.1 L239,865.9 L240,865.5 L241,865.8 L242,866 L243,865.3 L244,865.2 L245,865 L246,865.2 L247,864.8 L248,864.9 L249,864.2 L250,864.9 L251,864.6 L252,863.8 L253,863.6 L254,864.3 L255,863.8 L256,863.3 L257,863.8 L258,863 L259,863.3 L260,862.9 L261,862.8 L262,862.5 L263,862.7 L264,862.8 L265,862.4 L266,862.1 L267,862.1 L268,862.2 L269,862.1 L270,861.8 L271,861.8 L272,861.7 L273,861.5 L274,861.1 L275,860.8 L276,861.5 L277,861.3 L278,860.9 L279,861 L280,860.7 L281,860.8 L282,860.5 L283,860.7 L284,860.8 L285,860.7 L286,859.9 L287,859.8 L288,860.4 L289,860.2 L290,860.1 L291,859.8 L292,859.8 L293,860.2 L294,859.3 L295,859.6 L296,859.1 L297,859.8 L298,859.8 L299,859.3 L300,859.7 L301,859.3 L302,859.4 L303,859.5 L304,859 L305,859.1 L306,858.7 L307,859.1 L308,859.2 L309,859.1 L310,858.5 L311,858.3 L312,858.5 L313,858.3 L314,858.1 L315,858.6 L316,858.6 L317,858 L318,858.2 L319,857.6 L320,857.7 L321,858.1 L322,857.6 L323,857.7 L324,857.6 L325,857.5 L326,856.9 L327,857.5 L328,857.2 L329,856.7 L330,856.5 L331,857.1 L332,856.2 L333,856.7 L334,856.2 L335,856.3 L336,855.8 L337,856.3 L338,855.9 L339,856.3 L340,856 L341,855.5 L342,855.6 L343,855.7 L344,855 L345,855.5 L346,855.1 L347,854.9 L348,854.8 L349,854.4 L350,854.8 L351,854.7 L352,855 L353,854.7 L354,854.7 L355,854.4 L356,854.2 L357,854.3 L358,854.2 L359,854.1 L360,853.8 L361,853.8 L362,853.8 L363,853.8 L364,854.1 L365,853.8 L366,853.6 L367,853.4 L368,853.3 L369,853.7 L370,853 L371,853.2 L372,853.6 L373,853.6 L374,853.6 L375,853.6 L376,853 L377,853.4 L378,853.6 L379,852.7 L380,853.5 L381,852.8 L382,853.4 L383,852.9 L384,852.6 L385,853.1 L386,853.2 L387,853.4 L388,853.1 L389,853.1 L390,852.8 L391,852.7 L392,852.7 L393,853.1 L394,853.6 L395,853.5 L396,853.9 L397,853.8 L398,854.1 L399,854.3 L400,854.6 L401,854.7 L402,854.8 L403,855.6 L404,855.2 L405,855.5 L406,855.8 L407,856.2 L408,856.4 L409,855.8 L410,856 L411,856.5 L412,856.8 L413,856.8 L414,856.6 L415,857.1 L416,857.2 L417,856.5 L418,857.4 L419,857.4 L420,857.7 L421,857.4 L422,857.8 L423,858.1 L424,858.2 L425,857.9 L426,858.2 L427,858.2 L428,858.7 L429,858.3 L430,859 L431,858.7 L432,858.7 L433,859.1 L434,858.9 L435,859.4 L436,859.5 L437,859.7 L438,860 L439,860 L440,859.8 L441,860.6 L442,860.3 L443,860.3 L444,861 L445,860.9 L446,860.9 L447,861.1 L448,861.8 L449,861.3 L450,861.9 L451,861.8 L452,862.3 L453,862.2 L454,862.4 L455,862.9 L456,862.8 L457,862.8 L458,862.9 L459,863.3 L460,863.2 L461,864.1 L462,864.2 L463,863.9 L464,864.5 L465,864.8 L466,864.1 L467,864.7 L468,864.7 L469,865 L470,865.4 L471,865.8 L472,866.2 L473,865.6 L474,865.7 L475,866.2 L476,866.8 L477,866.3 L478,866.8 L479,867.4 L480,867.4 L481,867.1 L482,867.8 L483,867.5 L484,867.6 L485,868.3 L486,868.2 L487,868.9 L488,869.1 L489,869.2 L490,869.6 L491,869.7 L492,869.8 L493,870 L494,870.3 L495,870.5 L496,870.9 L497,871.1 L498,870.6 L499,871.3 L500,871 L501,871.3 L502,872 L503,871.8 L504,872 L505,872 L506,872.2 L507,872.8 L508,873.3 L509,872.8 L510,873.6 L511,873.1 L512,873.3 L513,873.3 L514,873.7 L515,874.2 L516,874.4 L517,874.4 L518,874.2 L519,875.1 L520,875.2 L521,875.1 L522,874.9 L523,876 L524,876.5 L525,876.4 L526,877.2 L527,877.3 L528,877.5 L529,877.8 L530,877.7 L531,877.6 L532,876.8 L533,876.7 L534,876.2 L535,876 L536,875.4 L537,874.7 L538,874.6 L539,873.6 L540,873.6 L541,873.4 L542,872.5 L543,872.3 L544,871.6 L545,871.7 L546,870.8 L547,870.1 L548,869.7 L549,869.4 L550,869 L551,868.2 L552,868.2 L553,867.4 L554,867.1 L555,865.9 L556,866.2 L557,865.4 L558,864.7 L559,864.9 L560,864.2 L561,863.9 L562,863.4 L563,862.5 L564,862.1 L565,861.4 L566,861.1 L567,860.5 L568,860.4 L569,859.9 L570,859.7 L571,859.8 L572,859.7 L573,859.5 L574,860.4 L575,860.2 L576,860.4 L577,860.7 L578,860.7 L579,861.3 L580,861.9 L581,862.3 L582,862.9 L583,864.5 L584,864.8 L585,865.3 L586,866.5 L587,867.5 L588,868.3 L589,869.9 L590,870.2 L591,871.9 L592,872.9 L593,874.1 L594,875.2 L595,876.3 L596,876.5 L597,877.9 L598,878.8 L599,879.5 L600,880.3 L601,881.9 L602,882.1 L603,883.8 L604,884.4 L605,885 L606,886.4 L607,886.9 L608,888.3 L609,889.5 L610,890.5 L611,891.3 L612,892.4 L613,892.9 L614,894.2 L615,894.7 L616,896 L617,896.6 L618,898 L619,898.8 L620,899.4 L621,900.6 L622,901.7 L623,901.9 L624,902.9 L625,904.4 L626,905 L627,906.3 L628,906.5 L629,908 L630,908.8 L631,909.6 L632,909.9 L633,910.8 L634,911.3 L635,911.8 L636,912.9 L637,913 L638,914.2 L639,914.2 L640,914.7 L641,915.9 L642,916.3 L643,916.4 L644,916.8 L645,916.4 L646,916.7 L647,916.3 L648,916.6 L649,916.2 L650,916.1 L651,915 L652,915 L653,914.5 L654,913.5 L655,913.2 L656,912.4 L657,912 L658,911.6 L659,911.3 L660,911.1 L661,910.6 L662,910.4 L663,910 L664,909.1 L665,909.3 L666,908.3 L667,908 L668,907.8 L669,907.2 L670,907.1 L671,907.2 L672,906.6 L673,906.1 L674,906.3 L675,906.1 L676,905.3 L677,904.8 L678,903.5 L679,901.9 L680,901 L681,899.3 L682,897.3 L683,895 L684,893.3 L685,890.8 L686,889.1 L687,887.2 L688,885.1 L689,883.6 L690,881.4 L691,880 L692,879 L693,877.6 L694,875.8 L695,875.5 L696,874.3 L697,873.5 L698,872.8 L699,872.2 L700,872.2 L701,871.6 L702,871.3 L703,870.9 L704,870.8 L705,870.3 L706,870.1 L707,869.7 L708,869.6 L709,870 L710,870 L711,870.5 L712,870 L713,870.7 L714,870.8 L715,871.2 L716,871.7 L717,872 L718,871.8 L719,872.4 L720,873.3 L721,873.1 L722,873.7 L723,873.4 L724,873.6 L725,874.2 L726,874.4 L727,874.4 L728,875.3 L729,875 L730,875.4 L731,875.7 L732,875.9 L733,876.4 L734,876.6 L735,877 L736,877.6 L737,877.4 L738,878.5 L739,878.3 L740,878.6 L741,879.5 L742,879.1 L743,879.4 L744,879.6 L745,880.3 L746,880.7 L747,881.1 L748,880.8 L749,881.4 L750,881.4 L751,882.5 L752,881.9 L753,882.8 L754,882.8 L755,882.6 L756,883.6 L757,883.3 L758,884 L759,884.1 L760,884.1 L761,884.1 L762,884.4 L763,883.9 L764,884.8 L765,884.6 L766,884 L767,884.5 L768,884.8 L769,884.5 L770,884.2 L771,884.5 L772,884.2 L773,884.6 L774,884.1 L775,883.6 L776,883.8 L777,884 L778,883.7 L779,883.5 L780,883 L781,883.6 L782,882.8 L783,882.6 L784,882.8 L785,882.7 L786,882.2 L787,881.8 L788,881.6 L789,881.9 L790,881.4 L791,881 L792,881.7 L793,880.8 L794,881.2 L795,880.5 L796,880.5 L797,880.8 L798,880.2 L799,880.1 L800,880.2 L801,879.9 L802,879.7 L803,880 L804,879.4 L805,879.2 L806,878.9 L807,879.2 L808,878.5 L809,878.4 L810,878 L811,877.9 L812,877.7 L813,878.1 L814,878 L815,877.5 L816,877.1 L817,877.4 L818,877.1 L819,876.3 L820,876.3 L821,876.8 L822,876.6 L823,876.5 L824,875.9 L825,876.3 L826,875.7 L827,875.2 L828,875.2 L829,875.4 L830,875 L831,875.4 L832,875.5 L833,875.3 L834,875 L835,875.1 L836,874.7 L837,874.9 L838,875.3 L839,874.7 L840,875.2 L841,874.5 L842,874.8 L843,875.4 L844,874.8 L845,875 L846,875.3 L847,875.5 L848,875.5 L849,875.6 L850,875.2 L851,875.6 L852,876.2 L853,875.9 L854,875.8 L855,876.5 L856,876.3 L857,876.8 L858,876.9 L859,877 L860,877.1 L861,877.4 L862,877.5 L863,877 L864,878 L865,877.8 L866,877.8 L867,878.5 L868,878.2 L869,878.4 L870,878.7 L871,879.3 L872,879.5 L873,879.4 L874,879.3 L875,879.6 L876,879.8 L877,880.4 L878,880.8 L879,880.7 L880,880.8 L881,881 L882,881.4 L883,882 L884,881.7 L885,882.1 L886,882.8 L887,882.5 L888,883.4 L889,883.6 L890,883.7 L891,884 L892,883.6 L893,884.5 L894,884.3 L895,884.7 L896,885.3 L897,884.6 L898,885.6 L899,885.6 L900,885.6 L901,885.8 L902,886.3 L903,886.4 L904,886.4 L905,887 L906,887.3 L907,887.8 L908,888.1 L909,887.7 L910,888.5 L911,888.1 L912,888.9 L913,889.3 L914,889.2 L915,889.3 L916,889.5 L917,890.1 L918,890 L919,890 L920,891 L921,890.5 L922,890.8 L923,890.9 L924,891 L925,891.7 L926,891.3 L927,891.5 L928,892.1 L929,891.9 L930,892.4 L931,892.1 L932,891.9 L933,892.5 L934,892.1 L935,891.8 L936,891.8 L937,892.4 L938,892.3 L939,891.5 L940,891.9 L941,891.1 L942,890.9 L943,890.6 L944,890.2 L945,889.6 L946,888.5 L947,887.7 L948,887.5 L949,886.3 L950,885.5 L951,884.3 L952,883.1 L953,881.7 L954,880 L955,879.2 L956,877.4 L957,876 L958,874.8 L959,873.5 L960,871.8 L961,870.6 L962,869.7 L963,868.9 L964,867.2 L965,867 L966,866 L967,866.2 L968,866.9 L969,868 L970,870.2 L971,873.1 L972,876.5 L973,881.2 L974,887.7 L975,893.8 L976,900.7 L977,907.3 L978,914.9 L979,922.2 L980,928.9 L981,936.3 L982,943.1 L983,949.3 L984,956.1 L985,961.9 L986,967.6 L987,972.1 L988,976.8 L989,980.1 L990,982.1 L991,983.9 L992,985.7 L993,986.7 L994,987.5 L995,987.7 L996,987.9 L997,987.2 L998,987.4 L999,987.4 L1000,987.1 L1001,986 L1002,986 L1003,985.5 L1004,984.8 L1005,984.3 L1006,983.4 L1007,982.9 L1008,981.5 L1009,981.1 L1010,979.8 L1011,979.3 L1012,978.7 L1013,978.2 L1014,977.2 L1015,976 L1016,975.5 L1017,974.6 L1018,973.7 L1019,972.7 L1020,972.1 L1021,971.7 L1022,970.2 L1023,969.5 L1024,969.1 L1025,969 L1026,967.7 L1027,967.8 L1028,967.6 L1029,966.8 L1030,966.9 L1031,967 L1032,966.9 L1033,967.1 L1034,967.6 L1035,968.1 L1036,967.8 L1037,968.6 L1038,967.9 L1039,968.3 L1040,968.1 L1041,968.2 L1042,967.7 L1043,967.2 L1044,966.5 L1045,966 L1046,965.7 L1047,965.4 L1048,964.4 L1049,963.5 L1050,962.5 L1051,961.9 L1052,960.6 L1053,959.8 L1054,959.3 L1055,957.8 L1056,956.6 L1057,955.6 L1058,954.3 L1059,953.1 L1060,951.5 L1061,950.6 L1062,949 L1063,946.9 L1064,945.7 L1065,943.2 L1066,941.1 L1067,938.8 L1068,936.9 L1069,934.4 L1070,932.5 L1071,929.7 L1072,927.4 L1073,924.9 L1074,922.3 L1075,919.3 L1076,917.6 L1077,914.5 L1078,912.2 L1079,910.6 L1080,907.8 L1081,905.7 L1082,904.5 L1083,902.2 L1084,901.1 L1085,899.7 L1086,898.9 L1087,897.3 L1088,896.5 L1089,896.3 L1090,895.5 L1091,895.6 L1092,895.2 L1093,894.7 L1094,894.7 L1095,894.7 L1096,894.3 L1097,894.8 L1098,894.5 L1099,894.7 L1100,894.4 L1101,895.2 L1102,895.5 L1103,895.4 L1104,896.1 L1105,896.4 L1106,896 L1107,896.9 L1108,896.7 L1109,896.8 L1110,896.8 L1111,897.8 L1112,897.2 L1113,897.6 L1114,898.2 L1115,897.9 L1116,898.1 L1117,897.8 L1118,898.6 L1119,898.4 L1120,898.7 L1121,898.9 L1122,898.5 L1123,898.7 L1124,899 L1125,898.7 L1126,898.9 L1127,898.9 L1128,899.1 L1129,898.4 L1130,898.9 L1131,898 L1132,898.2 L1133,898 L1134,897.7 L1135,897.5 L1136,897.1 L1137,897.3 L1138,896.6 L1139,896.6 L1140,896.1 L1141,895.6 L1142,895.7 L1143,895.6 L1144,895.3 L1145,894.5 L1146,894.6 L1147,893.9 L1148,893.8 L1149,893.3 L1150,892.6 L1151,893.2 L1152,892.8 L1153,892.3 L1154,892.9 L1154,902.1 L1153,902.1 L1152,902.2 L1151,903 L1150,902.9 L1149,903.3 L1148,903.4 L1147,903.8 L1146,904.3 L1145,904.6 L1144,904.8 L1143,905.1 L1142,905.4 L1141,906.1 L1140,905.8 L1139,906.3 L1138,906.8 L1137,906.7 L1136,907 L1135,908 L1134,907.6 L1133,907.9 L1132,908.4 L1131,908.7 L1130,908.7 L1129,908.5 L1128,908.7 L1127,908.6 L1126,908.9 L1125,908.8 L1124,909.1 L1123,908.9 L1122,909 L1121,908.8 L1120,908.1 L1119,907.9 L1118,908.5 L1117,908.1 L1116,907.8 L1115,907.4 L1114,907.8 L1113,907.9 L1112,907.8 L1111,907 L1110,906.9 L1109,907.3 L1108,906.6 L1107,906.7 L1106,906.2 L1105,905.5 L1104,906 L1103,905.7 L1102,905.2 L1101,905.3 L1100,904.6 L1099,904.2 L1098,904.2 L1097,904.2 L1096,904.6 L1095,904.5 L1094,904.8 L1093,904.7 L1092,904.9 L1091,905.6 L1090,905.6 L1089,905.8 L1088,906.7 L1087,907 L1086,908.5 L1085,909.5 L1084,911.1 L1083,912.3 L1082,914.4 L1081,915.8 L1080,917.8 L1079,917.8 L1078,920.2 L1077,922.5 L1076,924.6 L1075,927.2 L1074,929.7 L1073,932.1 L1072,934.6 L1071,936.8 L1070,939.7 L1069,941.8 L1068,944 L1067,946.8 L1066,949.2 L1065,951.4 L1064,952.7 L1063,954.3 L1062,956.6 L1061,958 L1060,959.5 L1059,960.9 L1058,961.7 L1057,963.6 L1056,964.5 L1055,965.2 L1054,966.8 L1053,967.3 L1052,968.7 L1051,969.3 L1050,970.4 L1049,971.5 L1048,971.7 L1047,972.6 L1046,972.7 L1045,974.1 L1044,974.7 L1043,974.8 L1042,975.1 L1041,975.1 L1040,975.9 L1039,976 L1038,975.8 L1037,975.6 L1036,975.3 L1035,974.9 L1034,975.5 L1033,974.5 L1032,974.5 L1031,974.9 L1030,974.8 L1029,974.8 L1028,974.5 L1027,975.5 L1026,975.5 L1025,975.8 L1024,977.1 L1023,977.4 L1022,978.5 L1021,979.1 L1020,979.9 L1019,980.4 L1018,981.9 L1017,981.9 L1016,983.5 L1015,984 L1014,985 L1013,985.8 L1012,985.9 L1011,986.7 L1010,987.6 L1009,988 L1008,989.5 L1007,990 L1006,990.7 L1005,991.1 L1004,992 L1003,992.5 L1002,993.2 L1001,993.7 L1000,993.9 L999,995 L998,994.7 L997,994.7 L996,994.9 L995,994.9 L994,994.3 L993,993.8 L992,992.9 L991,991.5 L990,990.3 L989,987.5 L988,983.6 L987,980 L986,975.4 L985,969.6 L984,963.2 L983,957.5 L982,950.6 L981,943.8 L980,936.6 L979,929.2 L978,922.4 L977,915.4 L976,907.6 L975,900.8 L974,894.4 L973,889.4 L972,884.6 L971,880.7 L970,877.5 L969,875.6 L968,874.5 L967,874 L966,873.9 L965,874 L964,875 L963,875.7 L962,876.7 L961,878.2 L960,879.8 L959,880.7 L958,882.2 L957,883.6 L956,884.6 L955,886.7 L954,887.9 L953,889.6 L952,890.1 L951,891.8 L950,892.6 L949,893.9 L948,894.7 L947,895.6 L946,896.3 L945,897 L944,897.3 L943,897.5 L942,898 L941,899 L940,898.7 L939,899.5 L938,899.3 L937,899.4 L936,899.9 L935,899.9 L934,899.7 L933,899.9 L932,899.3 L931,899.7 L930,899.3 L929,899.6 L928,899 L927,899.5 L926,899.5 L925,899.2 L924,898.9 L923,898.8 L922,898.6 L921,898.5 L920,898.1 L919,898.1 L918,897.9 L917,897.5 L916,897 L915,896.8 L914,896.9 L913,896.3 L912,895.8 L911,896.3 L910,896 L909,895.7 L908,895 L907,895.4 L906,895.2 L905,894.3 L904,894.7 L903,894.2 L902,893.5 L901,893.4 L900,893.1 L899,893.1 L898,893.2 L897,892.3 L896,892.5 L895,892.2 L894,892.1 L893,891.7 L892,891.6 L891,891.1 L890,891.4 L889,890.4 L888,890.1 L887,890.5 L886,890.1 L885,889.8 L884,889.8 L883,889.4 L882,888.7 L881,888.7 L880,888.3 L879,888.7 L878,887.9 L877,887.5 L876,887.1 L875,887.5 L874,887.3 L873,887 L872,886.3 L871,886.8 L870,886 L869,886.1 L868,885.5 L867,885.9 L866,885.1 L865,885.5 L864,885.3 L863,884.5 L862,884.7 L861,885 L860,884 L859,884.7 L858,884.4 L857,883.5 L856,883.4 L855,883.6 L854,883.3 L853,883.3 L852,883.3 L851,883.2 L850,883.3 L849,882.7 L848,883.1 L847,882.5 L846,882.9 L845,882.8 L844,882.4 L843,882.5 L842,882.6 L841,882.7 L840,882.2 L839,882.2 L838,882.2 L837,882.5 L836,882.5 L835,882.6 L834,882.5 L833,882.6 L832,882.7 L831,882.4 L830,882.5 L829,883.1 L828,883.4 L827,883.4 L826,882.9 L825,883.5 L824,883.5 L823,883.8 L822,884 L821,883.9 L820,884.5 L819,884.5 L818,884.7 L817,884.5 L816,884.7 L815,885.3 L814,885 L813,885.1 L812,885.8 L811,885.7 L810,886 L809,886.1 L808,886 L807,886.5 L806,886.2 L805,887.1 L804,886.7 L803,887.2 L802,887.3 L801,887.8 L800,888 L799,887.4 L798,887.6 L797,887.8 L796,888.1 L795,888.3 L794,888.4 L793,888.9 L792,889.1 L791,889.1 L790,889.2 L789,889.5 L788,889.6 L787,889.6 L786,889.9 L785,889.9 L784,890.3 L783,890.3 L782,890.8 L781,890.8 L780,891.1 L779,891.2 L778,891.2 L777,891.6 L776,891.1 L775,891.5 L774,891.8 L773,891.2 L772,892.1 L771,891.7 L770,891.6 L769,891.6 L768,892.3 L767,892.4 L766,892 L765,892 L764,891.5 L763,892 L762,891.5 L761,891.4 L760,891.1 L759,891.4 L758,891.4 L757,891.3 L756,890.5 L755,890.5 L754,890 L753,890.1 L752,889.8 L751,889.4 L750,889.7 L749,889.2 L748,888.8 L747,888.2 L746,888.5 L745,888 L744,887.5 L743,887 L742,886.6 L741,886.5 L740,886.6 L739,885.6 L738,885.2 L737,885.3 L736,884.7 L735,884.9 L734,884.1 L733,884.1 L732,883.6 L731,883.5 L730,883 L729,883 L728,882.7 L727,882.4 L726,882 L725,881.4 L724,881.2 L723,881 L722,881 L721,880.4 L720,880 L719,880.5 L718,879.6 L717,879.1 L716,878.9 L715,878.6 L714,878.5 L713,877.6 L712,877.8 L711,878 L710,877.5 L709,877.8 L708,877.3 L707,877.7 L706,877.5 L705,877.7 L704,877.9 L703,878.4 L702,878.7 L701,878.8 L700,879.4 L699,879.6 L698,880.5 L697,881.3 L696,881.5 L695,883 L694,884 L693,884.4 L692,886.3 L691,887.5 L690,889 L689,891.2 L688,892.2 L687,894.5 L686,896.2 L685,898.5 L684,900.4 L683,902.9 L682,904.3 L681,906.5 L680,908 L679,909.6 L678,910.6 L677,911.5 L676,913.1 L675,913.3 L674,913.4 L673,914.3 L672,914.6 L671,914.5 L670,914.8 L669,915.5 L668,915.4 L667,916.2 L666,915.9 L665,916.7 L664,916.8 L663,917.1 L662,917.5 L661,917.8 L660,918.2 L659,919 L658,918.7 L657,919.7 L656,920 L655,920.4 L654,921 L653,921.3 L652,922.6 L651,922.7 L650,923.1 L649,923.3 L648,924.1 L647,924 L646,923.9 L645,924.4 L644,923.8 L643,923.7 L642,923.6 L641,923.6 L640,922.3 L639,921.8 L638,921.4 L637,921 L636,920.3 L635,919.1 L634,918.6 L633,918.3 L632,917.4 L631,916.7 L630,916.1 L629,914.9 L628,914.3 L627,913.3 L626,912.7 L625,912.1 L624,910.6 L623,909.8 L622,908.7 L621,908.3 L620,907.4 L619,906.6 L618,905.6 L617,904.5 L616,903.2 L615,902.2 L614,901.6 L613,900.5 L612,899.1 L611,899 L610,897.8 L609,896.7 L608,895.3 L607,894.4 L606,894.2 L605,893.3 L604,892.3 L603,891.3 L602,890.2 L601,889.1 L600,888 L599,887.4 L598,886 L597,885.3 L596,884.6 L595,883.8 L594,882.7 L593,881.4 L592,880.3 L591,879.3 L590,878.3 L589,877.1 L588,875.6 L587,874.6 L586,874 L585,872.9 L584,872 L583,871.5 L582,870.9 L581,869.8 L580,869.4 L579,869.3 L578,868.8 L577,868.6 L576,867.8 L575,867.4 L574,867.3 L573,867.2 L572,867.1 L571,867.3 L570,867.8 L569,867.9 L568,868.4 L567,868.5 L566,868.5 L565,869 L564,869.8 L563,870.1 L562,870.6 L561,871.2 L560,871.7 L559,871.7 L558,872.4 L557,872.6 L556,873.7 L555,874.3 L554,874.7 L553,874.5 L552,875.1 L551,876 L550,876.3 L549,876.7 L548,877.2 L547,877.7 L546,878.5 L545,878.6 L544,879.4 L543,879.2 L542,879.9 L541,880.8 L540,880.6 L539,881.5 L538,882.1 L537,882.7 L536,882.5 L535,883 L534,883.9 L533,884.5 L532,884.7 L531,884.6 L530,885.2 L529,884.6 L528,884.6 L527,884.5 L526,884.7 L525,884.3 L524,883.5 L523,882.8 L522,883.1 L521,882.9 L520,882.3 L519,882 L518,882.1 L517,881.8 L516,881.4 L515,881.3 L514,881 L513,881.4 L512,880.7 L511,881.1 L510,880.5 L509,880.7 L508,880.2 L507,880.2 L506,879.8 L505,880 L504,879.9 L503,879.3 L502,879 L501,878.6 L500,878.9 L499,878.4 L498,878.8 L497,877.8 L496,878 L495,877.5 L494,878 L493,877.2 L492,877.3 L491,876.5 L490,876.4 L489,876.2 L488,876 L487,876.2 L486,875.4 L485,875.8 L484,875.1 L483,875.5 L482,875.2 L481,875.1 L480,874.4 L479,874.1 L478,874.6 L477,873.9 L476,874.3 L475,874 L474,873.7 L473,873.7 L472,873.4 L471,872.7 L470,873 L469,872.6 L468,872.7 L467,871.9 L466,871.8 L465,871.8 L464,871.7 L463,871.6 L462,871.3 L461,870.9 L460,871.1 L459,870.3 L458,870.9 L457,870 L456,870.5 L455,870.4 L454,870.2 L453,869.5 L452,869.5 L451,869.2 L450,869 L449,868.7 L448,868.7 L447,869 L446,869 L445,868.3 L444,868 L443,868.3 L442,868.2 L441,867.9 L440,868 L439,867.6 L438,867.3 L437,867.1 L436,866.8 L435,867.2 L434,866.7 L433,866.8 L432,866.3 L431,866.5 L430,865.8 L429,866 L428,865.5 L427,865.3 L426,865.6 L425,865.6 L424,864.9 L423,865.1 L422,865.4 L421,865.3 L420,865 L419,864.2 L418,864.6 L417,864.5 L416,864.6 L415,864.3 L414,863.7 L413,864.1 L412,864 L411,863.8 L410,863.3 L409,863.5 L408,863 L407,863.7 L406,863.5 L405,862.7 L404,862.6 L403,862.4 L402,862.3 L401,862.2 L400,862.2 L399,862.1 L398,861.5 L397,861.5 L396,861.4 L395,861.2 L394,861 L393,860.5 L392,860.6 L391,860.4 L390,860.9 L389,860.6 L388,860.2 L387,860.3 L386,860.8 L385,860.1 L384,861 L383,860.8 L382,860.6 L381,860.1 L380,860.9 L379,860.2 L378,860.7 L377,860.5 L376,860.5 L375,860.4 L374,860.3 L373,861.1 L372,861.2 L371,861.2 L370,860.7 L369,861 L368,861.3 L367,861.2 L366,860.9 L365,861.4 L364,861.2 L363,861.4 L362,861.7 L361,861 L360,861.1 L359,861.1 L358,861.5 L357,861.5 L356,861.4 L355,861.6 L354,862.2 L353,861.8 L352,862.4 L351,861.8 L350,862.3 L349,862.3 L348,862.7 L347,862 L346,862.9 L345,863 L344,862.9 L343,862.5 L342,862.8 L341,862.8 L340,862.9 L339,863 L338,863.3 L337,863.3 L336,863.7 L335,863.6 L334,863.4 L333,864.1 L332,864.3 L331,864 L330,864.4 L329,864.8 L328,864.6 L327,864.5 L326,864.3 L325,864.8 L324,864.8 L323,865.4 L322,865.2 L321,865.3 L320,865.4 L319,865.4 L318,865.7 L317,865.3 L316,866 L315,865.8 L314,866 L313,865.9 L312,865.8 L311,865.8 L310,866.5 L309,866.6 L308,866.4 L307,866.7 L306,866.8 L305,866.1 L304,866.4 L303,866.8 L302,866.9 L301,867.1 L300,867.2 L299,866.5 L298,867.2 L297,867.1 L296,867.1 L295,867 L294,867.3 L293,867.6 L292,867.3 L291,867.6 L290,867.8 L289,867.6 L288,867.3 L287,867.7 L286,868 L285,867.4 L284,867.8 L283,868.2 L282,868.4 L281,868.5 L280,868.6 L279,868.6 L278,868.5 L277,868.1 L276,868.3 L275,869 L274,869.1 L273,868.7 L272,869.1 L271,869.3 L270,869.5 L269,869.2 L268,869.1 L267,870 L266,869.7 L265,870.4 L264,870.5 L263,870.5 L262,870.7 L261,870.9 L260,871 L259,871 L258,870.8 L257,870.8 L256,871.5 L255,871.2 L254,871.7 L253,871.8 L252,871.7 L251,872.2 L250,872 L249,872.5 L248,872.3 L247,872 L246,872.2 L245,872.4 L244,872.7 L243,872.8 L242,873.5 L241,873.6 L240,873.5 L239,873.9 L238,873.3 L237,873.7 L236,873.5 L235,874 L234,873.9 L233,874.2 L232,874 L231,874.7 L230,874.9 L229,874.6 L228,874.6 L227,875.3 L226,875.4 L225,875.4 L224,875.2 L223,875.8 L222,875.2 L221,875.6 L220,875.8 L219,876.1 L218,875.8 L217,876.6 L216,876.4 L215,876.3 L214,876.5 L213,876.4 L212,876.8 L211,877.3 L210,877.1 L209,877.1 L208,876.9 L207,877.3 L206,877.9 L205,877.9 L204,877.5 L203,878.5 L202,878.2 L201,878 L200,878.3 L199,878.8 L198,878.7 L197,879.3 L196,879.2 L195,879.2 L194,880.2 L193,880 L192,879.8 L191,880.2 L190,881.2 L189,881.1 L188,881.4 L187,881.6 L186,881.6 L185,882.3 L184,882 L183,882.6 L182,882.5 L181,883 L180,883 L179,883.8 L178,883.6 L177,883.8 L176,884.6 L175,884.4 L174,884.8 L173,885.1 L172,885.3 L171,885.6 L170,885.6 L169,885.4 L168,885.6 L167,885.9 L166,886 L165,885.9 Z" fill="#00ff00"/>
<path d="M165,882.5 L168,882.3 L171,881.7 L174,881.1 L177,880.4 L180,879.7 L183,878.9 L186,878.1 L189,877.3 L192,876.5 L195,875.8 L198,875.2 L201,874.6 L204,874.2 L207,873.7 L210,873.3 L213,872.9 L216,872.5 L219,872.2 L222,871.8 L225,871.4 L228,871.1 L231,870.7 L234,870.4 L237,870 L240,869.6 L243,869.2 L246,868.8 L249,868.4 L252,867.9 L255,867.5 L258,867.1 L261,866.7 L264,866.3 L267,865.9 L270,865.5 L273,865.2 L276,864.9 L279,864.6 L282,864.3 L285,864.1 L288,863.8 L291,863.6 L294,863.4 L297,863.2 L300,863.1 L303,862.9 L306,862.7 L309,862.5 L312,862.3 L315,862.1 L318,861.8 L321,861.5 L324,861.2 L327,860.9 L330,860.6 L333,860.2 L336,859.9 L339,859.6 L342,859.2 L345,858.9 L348,858.6 L351,858.4 L354,858.1 L357,857.9 L360,857.7 L363,857.5 L366,857.4 L369,857.2 L372,857.1 L375,857 L378,856.9 L381,856.8 L384,856.8 L387,856.8 L390,856.8 L393,857 L396,857.5 L399,858.1 L402,858.9 L405,859.4 L408,859.7 L411,860 L414,860.3 L417,860.7 L420,861 L423,861.4 L426,861.8 L429,862.2 L432,862.7 L435,863.2 L438,863.6 L441,864 L444,864.5 L447,865 L450,865.5 L453,866 L456,866.5 L459,867 L462,867.6 L465,868.1 L468,868.7 L471,869.3 L474,869.8 L477,870.4 L480,870.9 L483,871.5 L486,872.1 L489,872.8 L492,873.4 L495,874.1 L498,874.7 L501,875.3 L504,875.9 L507,876.5 L510,877 L513,877.5 L516,877.9 L519,878.5 L522,879 L525,880.2 L528,881.1 L531,881 L534,880 L537,878.7 L540,877.3 L543,875.9 L546,874.5 L549,873 L552,871.5 L555,870.1 L558,868.7 L561,867.3 L564,865.9 L567,864.6 L570,863.8 L573,863.7 L576,864.2 L579,865.3 L582,867.1 L585,869.4 L588,872.3 L591,875.5 L594,878.6 L597,881.6 L600,884.4 L603,887.2 L606,890 L609,892.9 L612,895.8 L615,898.7 L618,901.5 L621,904.3 L624,907.1 L627,909.8 L630,912.2 L633,914.4 L636,916.5 L639,918.3 L642,919.8 L645,920.5 L648,920.2 L651,919 L654,917.4 L657,915.8 L660,914.5 L663,913.4 L666,912.4 L669,911.4 L672,910.6 L675,909.5 L678,907.2 L681,902.7 L684,896.6 L687,890.7 L690,885.4 L693,881 L696,878.1 L699,876.2 L702,874.9 L705,874.1 L708,873.7 L711,873.9 L714,874.5 L717,875.6 L720,876.6 L723,877.5 L726,878.2 L729,879 L732,879.9 L735,880.8 L738,881.8 L741,882.8 L744,883.8 L747,884.7 L750,885.6 L753,886.3 L756,887 L759,887.5 L762,887.9 L765,888.1 L768,888.2 L771,888.1 L774,887.9 L777,887.5 L780,887.1 L783,886.6 L786,886.1 L789,885.5 L792,885.1 L795,884.6 L798,884.2 L801,883.7 L804,883.2 L807,882.7 L810,882.1 L813,881.6 L816,881 L819,880.5 L822,880 L825,879.6 L828,879.2 L831,879 L834,878.8 L837,878.6 L840,878.6 L843,878.7 L846,878.9 L849,879.2 L852,879.5 L855,879.9 L858,880.3 L861,880.8 L864,881.3 L867,881.8 L870,882.4 L873,883.1 L876,883.8 L879,884.5 L882,885.3 L885,886 L888,886.8 L891,887.5 L894,888.2 L897,888.8 L900,889.5 L903,890.3 L906,891 L909,891.8 L912,892.5 L915,893.3 L918,893.9 L921,894.5 L924,895 L927,895.5 L930,895.7 L933,895.9 L936,895.9 L939,895.5 L942,894.6 L945,893.1 L948,890.9 L951,887.9 L954,884.1 L957,879.8 L960,875.7 L963,872.4 L966,870.2 L969,871.7 L972,880.5 L975,897.4 L978,918.4 L981,939.8 L984,959.8 L987,976.2 L990,986.2 L993,990.4 L996,991.4 L999,991 L1002,989.6 L1005,987.6 L1008,985.5 L1011,983.3 L1014,981 L1017,978.5 L1020,976 L1023,973.7 L1026,971.9 L1029,970.9 L1032,971 L1035,971.5 L1038,972 L1041,971.7 L1044,970.5 L1047,968.7 L1050,966.5 L1053,963.8 L1056,960.6 L1059,956.9 L1062,952.5 L1065,947.2 L1068,940.7 L1071,933.4 L1074,925.8 L1077,918.6 L1080,912.9 L1083,907.5 L1086,903.5 L1089,901.1 L1092,900 L1095,899.6 L1098,899.5 L1101,900 L1104,900.7 L1107,901.5 L1110,902.2 L1113,902.6 L1116,903 L1119,903.3 L1122,903.6 L1125,903.7 L1128,903.6 L1131,903.3 L1134,902.8 L1137,902 L1140,901.1 L1143,900.1 L1146,899.2 L1149,898.3 L1152,897.7" stroke="#00ff00" stroke-width="2.6" fill="none" stroke-linejoin="round"/>
<path d="M165.5,1088.5 H1154.5 M165.5,1147.5 H1154.5 M165.5,1206.5 H1154.5 M428.5,1072.5 V1233.5 M722.5,1072.5 V1233.5 M1017.5,1072.5 V1233.5 " stroke="#dfdfdf" stroke-width="1"/>
<path d="M165.5,1072.5 H1154.5 V1233.5 H165.5 Z M165.5,1088.5 h10 M1154.5,1088.5 h-10 M165.5,1147.5 h10 M1154.5,1147.5 h-10 M165.5,1206.5 h10 M1154.5,1206.5 h-10 M428.5,1072.5 v10 M428.5,1233.5 v-10 M722.5,1072.5 v10 M722.5,1233.5 v-10 M1017.5,1072.5 v10 M1017.5,1233.5 v-10 " stroke="#262626" stroke-width="1.1" fill="none"/>
<text x="155.5" y="1095.3" font-family="'Liberation Sans', sans-serif" font-size="22.4" text-anchor="end" fill="#262626">0</text>
<text x="155.5" y="1154.3" font-family="'Liberation Sans', sans-serif" font-size="22.4" text-anchor="end" fill="#262626">-5</text>
<text x="155.5" y="1213.3" font-family="'Liberation Sans', sans-serif" font-size="22.4" text-anchor="end" fill="#262626">-10</text>
<path d="M165.5,1227.7V1232.7M166.5,1227.7V1232.7M167.5,1227.7V1232.7M168.5,1224.7V1229.7M169.5,1227.7V1232.7M170.5,1227.7V1232.7M171.5,1227.7V1232.7M172.5,1224.7V1229.7M173.5,1227.7V1232.7M174.5,1227.7V1232.7M175.5,1227.7V1232.7M176.5,1226.8V1233.8M177.5,1227.7V1232.7M178.5,1223.8V1229.7M179.5,1227.7V1232.7M180.5,1227.7V1232.7M181.5,1224.7V1229.7M182.5,1227.7V1232.7M183.5,1224.7V1229.7M184.5,1224.7V1229.7M185.5,1224.7V1229.7M186.5,1224.7V1229.7M187.5,1224.2V1229.7M188.5,1223.7V1229.7M189.5,1224.7V1229.7M190.5,1224.7V1229.7M191.5,1224.7V1229.7M192.5,1224.7V1229.7M193.5,1224.7V1229.7M194.5,1224.7V1229.7M195.5,1224.7V1229.7M196.5,1224.6V1229.7M197.5,1224.7V1229.7M198.5,1224.7V1231.4M199.5,1224.7V1229.7M200.5,1224.7V1229.7M201.5,1223.7V1229.7M202.5,1220.8V1227.8M203.5,1224.7V1229.7M204.5,1224.7V1229.7M205.5,1221.8V1226.8M206.5,1224.7V1229.7M207.5,1224.7V1229.7M208.5,1224.7V1230.2M209.5,1224.7V1229.7M210.5,1221.8V1226.8M211.5,1221.8V1226.8M212.5,1221.8V1226.8M213.5,1221.3V1226.8M214.5,1224.7V1229.7M215.5,1221.8V1226.8M216.5,1221.8V1226.8M217.5,1221.8V1226.8M218.5,1221.8V1226.8M219.5,1221.8V1226.8M220.5,1221.8V1227M221.5,1221.8V1226.8M222.5,1221.8V1226.8M223.5,1224.7V1229.7M224.5,1220.3V1226.8M225.5,1221.8V1226.8M226.5,1221.3V1226.8M227.5,1224.7V1229.7M228.5,1221.8V1226.8M229.5,1221.8V1226.8M230.5,1221.8V1227M231.5,1221.8V1226.8M232.5,1221.8V1227.5M233.5,1221.8V1226.8M234.5,1221.8V1227.7M235.5,1221.8V1226.8M236.5,1221.8V1226.8M237.5,1221.8V1227.9M238.5,1221.8V1226.8M239.5,1221.8V1226.8M240.5,1221.8V1226.8M241.5,1218.8V1223.8M242.5,1220.7V1227.6M243.5,1220.3V1227.8M244.5,1221.8V1226.8M245.5,1218.8V1223.8M246.5,1221.8V1228M247.5,1221.8V1226.8M248.5,1218.8V1223.8M249.5,1221.8V1226.8M250.5,1218.8V1223.8M251.5,1221.8V1226.8M252.5,1221.8V1226.8M253.5,1221.4V1226.8M254.5,1221.8V1226.8M255.5,1218.8V1223.8M256.5,1221.8V1226.8M257.5,1218.8V1223.8M258.5,1221.8V1226.8M259.5,1221.8V1226.8M260.5,1220.8V1226.9M261.5,1221.8V1226.8M262.5,1218.8V1224.1M263.5,1221.8V1226.8M264.5,1221.8V1226.8M265.5,1220.6V1226.8M266.5,1218.8V1223.8M267.5,1218.8V1223.8M268.5,1218.8V1223.8M269.5,1218.8V1223.8M270.5,1218.8V1223.8M271.5,1218.8V1223.8M272.5,1218.8V1223.8M273.5,1221.8V1227.4M274.5,1217.9V1223.8M275.5,1218.8V1223.8M276.5,1218.8V1223.8M277.5,1218.7V1223.8M278.5,1218.8V1223.8M279.5,1218.8V1223.8M280.5,1218.8V1223.8M281.5,1218V1223.8M282.5,1218.8V1223.8M283.5,1218.8V1223.8M284.5,1218.8V1223.8M285.5,1218.8V1223.8M286.5,1218.8V1223.8M287.5,1215.9V1220.9M288.5,1218.8V1223.8M289.5,1217.9V1223.8M290.5,1218.8V1223.8M291.5,1218.8V1223.8M292.5,1218.8V1223.8M293.5,1215.6V1220.9M294.5,1218.8V1224.8M295.5,1215.9V1220.9M296.5,1218.8V1223.8M297.5,1218.8V1223.8M298.5,1215.9V1220.9M299.5,1215.9V1220.9M300.5,1215.9V1220.9M301.5,1218.4V1223.8M302.5,1215.9V1220.9M303.5,1218.8V1223.8M304.5,1215.9V1220.9M305.5,1218.8V1223.8M306.5,1218.8V1223.8M307.5,1218.8V1223.8M308.5,1215.9V1220.9M309.5,1215.9V1220.9M310.5,1215.9V1222.7M311.5,1215.9V1221.2M312.5,1218.8V1223.8M313.5,1215.9V1220.9M314.5,1215.9V1220.9M315.5,1215.9V1220.9M316.5,1215.9V1220.9M317.5,1215.9V1220.9M318.5,1218.8V1223.8M319.5,1215.9V1220.9M320.5,1215.5V1220.9M321.5,1215.9V1220.9M322.5,1215.9V1220.9M323.5,1214.6V1220.9M324.5,1215.9V1222.8M325.5,1215.9V1220.9M326.5,1215.9V1220.9M327.5,1215.4V1220.9M328.5,1215.9V1220.9M329.5,1215.9V1221M330.5,1215.9V1220.9M331.5,1215.9V1220.9M332.5,1215.9V1220.9M333.5,1215.9V1220.9M334.5,1215.9V1220.9M335.5,1215.9V1220.9M336.5,1214.8V1220.9M337.5,1215.9V1220.9M338.5,1215.9V1220.9M339.5,1215.9V1220.9M340.5,1214.6V1220.9M341.5,1215.9V1220.9M342.5,1215.9V1220.9M343.5,1215.9V1220.9M344.5,1215.9V1220.9M345.5,1215.9V1220.9M346.5,1212.9V1217.9M347.5,1215.9V1220.9M348.5,1215.2V1220.9M349.5,1215.9V1220.9M350.5,1214.3V1220.9M351.5,1212.9V1217.9M352.5,1214.2V1220.9M353.5,1212.9V1219.1M354.5,1212.9V1217.9M355.5,1215.9V1220.9M356.5,1215.9V1220.9M357.5,1215.9V1220.9M358.5,1215.9V1220.9M359.5,1215.9V1220.9M360.5,1212.9V1217.9M361.5,1212.9V1217.9M362.5,1215.9V1221.6M363.5,1212.9V1218.2M364.5,1215.9V1220.9M365.5,1215.9V1220.9M366.5,1215.9V1220.9M367.5,1212.9V1217.9M368.5,1212.8V1217.9M369.5,1212.9V1217.9M370.5,1212.9V1217.9M371.5,1212.9V1217.9M372.5,1212.9V1217.9M373.5,1212.9V1217.9M374.5,1211V1217.9M375.5,1212.9V1217.9M376.5,1215.9V1221.2M377.5,1212.9V1217.9M378.5,1212.9V1217.9M379.5,1215.9V1220.9M380.5,1212.9V1217.9M381.5,1212.9V1217.9M382.5,1212.9V1217.9M383.5,1212.9V1217.9M384.5,1214.1V1220.9M385.5,1212.9V1217.9M386.5,1212.9V1217.9M387.5,1212.9V1217.9M388.5,1212.9V1217.9M389.5,1212.9V1217.9M390.5,1212.9V1218.9M391.5,1212.9V1217.9M392.5,1212.9V1217.9M393.5,1212.9V1217.9M394.5,1212.9V1217.9M395.5,1212.9V1217.9M396.5,1212.9V1217.9M397.5,1212.9V1217.9M398.5,1212.9V1217.9M399.5,1212.9V1217.9M400.5,1212.9V1217.9M401.5,1212.9V1217.9M402.5,1211.5V1217.9M403.5,1212.9V1217.9M404.5,1212.9V1219M405.5,1212.9V1217.9M406.5,1209.9V1215M407.5,1212.1V1217.9M408.5,1212.9V1217.9M409.5,1210V1215M410.5,1212.9V1217.9M411.5,1212.9V1217.9M412.5,1212.9V1217.9M413.5,1210V1215M414.5,1212.9V1217.9M415.5,1210V1215M416.5,1212.9V1217.9M417.5,1212.9V1217.9M418.5,1210V1215M419.5,1210V1215M420.5,1212.9V1217.9M421.5,1212.9V1217.9M422.5,1210V1215M423.5,1210V1215M424.5,1212.9V1217.9M425.5,1210V1215.9M426.5,1210V1215M427.5,1210V1215M428.5,1210V1215M429.5,1212.9V1217.9M430.5,1210V1216.4M431.5,1210V1215M432.5,1210V1215M433.5,1210V1215M434.5,1210V1215M435.5,1210V1215.5M436.5,1212.9V1218.5M437.5,1210V1215M438.5,1210V1216.7M439.5,1210V1215M440.5,1208.9V1215M441.5,1210V1215M442.5,1208.8V1216M443.5,1210V1215M444.5,1210V1215M445.5,1210V1215M446.5,1210V1215M447.5,1210V1215.5M448.5,1210V1215.3M449.5,1210V1215M450.5,1210V1215M451.5,1210V1215M452.5,1210V1216.5M453.5,1209.3V1215M454.5,1210V1215M455.5,1210V1215M456.5,1209V1215M457.5,1210V1215M458.5,1210V1215M459.5,1210V1215M460.5,1210V1215M461.5,1210V1215M462.5,1207V1212M463.5,1210V1215M464.5,1207V1213.3M465.5,1207V1212M466.5,1210V1215M467.5,1210V1215M468.5,1210V1215M469.5,1205.8V1213.9M470.5,1210V1215M471.5,1208.8V1215M472.5,1207V1212M473.5,1210V1215M474.5,1210V1215M475.5,1207V1212M476.5,1210V1215M477.5,1207V1212M478.5,1207V1212M479.5,1210V1215M480.5,1210V1215M481.5,1207V1212M482.5,1207V1212M483.5,1207V1212M484.5,1210V1215M485.5,1207V1212M486.5,1207V1212M487.5,1205.5V1212M488.5,1207V1212M489.5,1207V1212M490.5,1207V1212M491.5,1207V1212M492.5,1210V1215M493.5,1207V1212M494.5,1207V1213.9M495.5,1210V1215M496.5,1207V1212M497.5,1207V1212M498.5,1207V1212M499.5,1207V1212M500.5,1206.5V1212M501.5,1207V1212M502.5,1207V1212M503.5,1207V1212M504.5,1207V1212M505.5,1207V1212M506.5,1207V1212M507.5,1207V1212M508.5,1207V1212M509.5,1206.6V1212M510.5,1207V1212M511.5,1207V1212M512.5,1207V1212M513.5,1204.1V1210.1M514.5,1204.1V1209.1M515.5,1205V1212.7M516.5,1207V1212M517.5,1207V1212M518.5,1204.1V1209.1M519.5,1207V1212M520.5,1207V1212M521.5,1207V1212M522.5,1207V1212M523.5,1207V1212M524.5,1204.1V1209.1M525.5,1204.1V1209.1M526.5,1207V1212M527.5,1207V1212M528.5,1207V1212M529.5,1204.1V1209.1M530.5,1204.1V1209.1M531.5,1204.1V1209.1M532.5,1204.1V1209.1M533.5,1207V1213.8M534.5,1204.1V1210M535.5,1202.2V1209.1M536.5,1205.2V1212M537.5,1207V1212M538.5,1207V1212M539.5,1204.1V1209.1M540.5,1204.1V1209.1M541.5,1204.1V1209.1M542.5,1207V1212M543.5,1207V1212M544.5,1207V1212M545.5,1204.1V1209.1M546.5,1204.1V1209.1M547.5,1207V1212M548.5,1207V1212M549.5,1204.1V1209.1M550.5,1204.1V1209.1M551.5,1203.5V1209.1M552.5,1207V1212M553.5,1204.1V1209.4M554.5,1204.1V1209.1M555.5,1204.1V1209.1M556.5,1204.1V1209.1M557.5,1204.1V1210.3M558.5,1204.1V1209.1M559.5,1204.1V1209.1M560.5,1204.1V1209.1M561.5,1204.1V1209.1M562.5,1204.1V1209.1M563.5,1204.1V1209.1M564.5,1204.1V1209.1M565.5,1204.1V1209.1M566.5,1202.9V1210.8M567.5,1204.1V1209.1M568.5,1204.1V1209.1M569.5,1204.1V1209.1M570.5,1202.5V1209.1M571.5,1204.1V1209.1M572.5,1204.1V1209.9M573.5,1204.1V1210.9M574.5,1204.1V1209.1M575.5,1202.2V1209.1M576.5,1204.1V1209.1M577.5,1204.1V1209.1M578.5,1204.1V1209.1M579.5,1202.6V1209.1M580.5,1204.1V1210.3M581.5,1204.1V1209.1M582.5,1204.1V1209.5M583.5,1201.1V1206.1M584.5,1201.1V1206.1M585.5,1202.1V1209.1M586.5,1204.1V1209.1M587.5,1204.1V1209.1M588.5,1204.1V1209.1M589.5,1201.1V1207.1M590.5,1204.1V1209.1M591.5,1203.7V1209.1M592.5,1203.4V1209.1M593.5,1204.1V1209.1M594.5,1199.5V1206.1M595.5,1203.8V1209.1M596.5,1201.1V1206.1M597.5,1204.1V1209.9M598.5,1201.1V1206.1M599.5,1204.1V1209.1M600.5,1201.1V1206.1M601.5,1202.8V1209.1M602.5,1204.1V1209.1M603.5,1204.1V1209.1M604.5,1204V1209.8M605.5,1200.5V1206.1M606.5,1201.1V1206.1M607.5,1201.1V1206.1M608.5,1201.1V1206.1M609.5,1201.1V1206.1M610.5,1201.1V1206.1M611.5,1204.1V1209.1M612.5,1201.1V1206.1M613.5,1201.1V1206.1M614.5,1201.1V1206.1M615.5,1200.4V1206.1M616.5,1201.1V1206.1M617.5,1204.1V1209.1M618.5,1199.1V1206.1M619.5,1204.1V1209.1M620.5,1201.1V1206.1M621.5,1201.1V1206.1M622.5,1201.1V1206.1M623.5,1201.1V1206.1M624.5,1201.1V1206.1M625.5,1204.1V1209.1M626.5,1201.1V1206.1M627.5,1204.1V1209.1M628.5,1201.1V1206.1M629.5,1201.1V1206.1M630.5,1201.1V1206.1M631.5,1204.1V1209.1M632.5,1201.1V1206.1M633.5,1201.1V1206.1M634.5,1201.1V1206.1M635.5,1201.1V1206.1M636.5,1201.1V1206.1M637.5,1204.1V1209.1M638.5,1201.1V1206.1M639.5,1201.1V1206.1M640.5,1201.1V1206.8M641.5,1201.1V1206.1M642.5,1201.1V1206.4M643.5,1201.1V1206.1M644.5,1201.1V1206.1M645.5,1201.1V1206.1M646.5,1201.1V1206.1M647.5,1201.1V1206.1M648.5,1201.1V1206.1M649.5,1201.1V1206.1M650.5,1201.1V1206.1M651.5,1201.1V1206.8M652.5,1201.1V1206.3M653.5,1201.1V1206.1M654.5,1201.1V1206.1M655.5,1201.1V1206.7M656.5,1201.1V1206.1M657.5,1201.1V1206.1M658.5,1201.1V1206.1M659.5,1201.1V1206.1M660.5,1198.2V1204.5M661.5,1198.2V1204.7M662.5,1201.1V1206.1M663.5,1200.6V1206.1M664.5,1198.2V1203.2M665.5,1198.2V1203.2M666.5,1201.1V1206.1M667.5,1198.2V1203.2M668.5,1201.1V1206.1M669.5,1201.1V1206.1M670.5,1201.1V1206.1M671.5,1201.1V1206.1M672.5,1201.1V1206.1M673.5,1198.2V1203.2M674.5,1201.1V1206.1M675.5,1201.1V1206.1M676.5,1201.1V1206.1M677.5,1201.1V1206.1M678.5,1199.7V1206.1M679.5,1201.1V1207.3M680.5,1198.2V1203.9M681.5,1201.1V1206.1M682.5,1201.1V1206.1M683.5,1201.1V1206.1M684.5,1198.2V1203.2M685.5,1201.1V1206.1M686.5,1201.1V1206.1M687.5,1201.1V1206.8M688.5,1198.2V1203.2M689.5,1201.1V1206.1M690.5,1196.6V1203.2M691.5,1201.1V1206.1M692.5,1198.2V1203.2M693.5,1201.1V1206.1M694.5,1198.2V1203.2M695.5,1198.2V1203.2M696.5,1198.2V1203.2M697.5,1198.2V1203.2M698.5,1196.3V1203.2M699.5,1198.2V1203.2M700.5,1198.2V1203.2M701.5,1201.1V1206.1M702.5,1198.2V1203.2M703.5,1198.2V1203.2M704.5,1201V1206.1M705.5,1198.2V1203.9M706.5,1198.2V1203.2M707.5,1198.2V1203.2M708.5,1198.2V1203.2M709.5,1201.1V1206.1M710.5,1201.1V1206.1M711.5,1198.2V1203.2M712.5,1201.1V1206.1M713.5,1201.1V1206.1M714.5,1198.2V1203.2M715.5,1198.2V1203.2M716.5,1201.1V1206.1M717.5,1201.1V1206.2M718.5,1201.1V1206.1M719.5,1196.8V1203.2M720.5,1201.1V1206.1M721.5,1196.6V1203.2M722.5,1201.1V1206.1M723.5,1201.1V1206.1M724.5,1201.1V1206.1M725.5,1198.2V1203.2M726.5,1198.2V1203.2M727.5,1201.1V1207.6M728.5,1200.4V1206.1M729.5,1198.2V1203.2M730.5,1198.2V1203.2M731.5,1201.1V1206.1M732.5,1198.2V1203.2M733.5,1200.7V1206.1M734.5,1198.2V1203.2M735.5,1197.9V1203.2M736.5,1201.1V1206.1M737.5,1201.1V1206.1M738.5,1198.2V1203.2M739.5,1201.1V1206.1M740.5,1198.2V1203.2M741.5,1198.2V1203.2M742.5,1201.1V1206.7M743.5,1198.2V1203.2M744.5,1198.2V1203.2M745.5,1199.7V1206.1M746.5,1196.8V1203.2M747.5,1201.1V1206.1M748.5,1198.2V1203.2M749.5,1201.1V1206.1M750.5,1198.2V1203.2M751.5,1201.1V1206.1M752.5,1201.1V1206.1M753.5,1201.1V1206.1M754.5,1198.2V1203.2M755.5,1201.1V1206.1M756.5,1201.1V1206.1M757.5,1201.1V1206.1M758.5,1201.1V1206.1M759.5,1201.1V1206.1M760.5,1201.1V1206.1M761.5,1201.1V1206.1M762.5,1201.1V1206.1M763.5,1201.1V1206.1M764.5,1201.1V1206.1M765.5,1201.1V1206.1M766.5,1201.1V1206.1M767.5,1201.1V1206.1M768.5,1201.1V1206.1M769.5,1201.1V1206.1M770.5,1201.1V1206.1M771.5,1201.1V1206.1M772.5,1201.1V1206.1M773.5,1200.2V1206.1M774.5,1200.3V1206.1M775.5,1201.1V1206.1M776.5,1201.1V1206.7M777.5,1204.1V1209.1M778.5,1200.1V1206.1M779.5,1204.1V1209.1M780.5,1204.1V1209.1M781.5,1204.1V1209.1M782.5,1199.2V1206.1M783.5,1201.1V1207M784.5,1201.1V1206.1M785.5,1201.1V1206.1M786.5,1201.1V1206.1M787.5,1204.1V1209.1M788.5,1201.1V1206.1M789.5,1204.1V1209.1M790.5,1204.1V1209.1M791.5,1204.1V1209.1M792.5,1201.1V1206.1M793.5,1204.1V1209.1M794.5,1204.1V1209.1M795.5,1204.1V1209.1M796.5,1204.1V1209.1M797.5,1204.1V1209.1M798.5,1204.1V1209.1M799.5,1203.6V1209.1M800.5,1204.1V1209.1M801.5,1201.1V1206.1M802.5,1204.1V1209.1M803.5,1201.1V1206.3M804.5,1204.1V1209.1M805.5,1204.1V1210.2M806.5,1204.1V1209.1M807.5,1204.1V1209.1M808.5,1204.1V1209.1M809.5,1204.1V1209.1M810.5,1204.1V1209.1M811.5,1204.1V1210.3M812.5,1204.1V1209.5M813.5,1207V1212M814.5,1204.1V1209.1M815.5,1204.1V1209.1M816.5,1204.1V1209.8M817.5,1206.4V1212M818.5,1204.1V1209.1M819.5,1204.1V1209.1M820.5,1207V1212M821.5,1204.1V1209.1M822.5,1204.1V1209.1M823.5,1207V1212.6M824.5,1204.1V1210.2M825.5,1207V1212M826.5,1207V1212M827.5,1202.1V1209.1M828.5,1204.1V1209.1M829.5,1204.1V1210.9M830.5,1207V1212M831.5,1204.1V1209.1M832.5,1204.1V1209.1M833.5,1207V1212M834.5,1207V1212M835.5,1207V1212M836.5,1207V1213.3M837.5,1207V1212M838.5,1205.6V1212M839.5,1204.1V1209.1M840.5,1207V1212M841.5,1207V1212M842.5,1207V1212M843.5,1207V1212.1M844.5,1205.2V1214M845.5,1207V1212M846.5,1207V1213.4M847.5,1207V1213.4M848.5,1207V1212M849.5,1207V1212M850.5,1207V1212M851.5,1207V1212M852.5,1207V1212M853.5,1207V1212M854.5,1207V1212M855.5,1207V1212M856.5,1207V1212M857.5,1207V1212M858.5,1210V1215M859.5,1210V1215M860.5,1207V1212M861.5,1210V1215M862.5,1207V1212M863.5,1210V1215.1M864.5,1205.5V1212M865.5,1207V1213.2M866.5,1210V1215M867.5,1210V1216.3M868.5,1205.3V1212M869.5,1207V1212M870.5,1210V1215M871.5,1208.7V1216.8M872.5,1208V1215M873.5,1210V1215M874.5,1210V1215M875.5,1210V1216.7M876.5,1210V1215M877.5,1210V1215M878.5,1210V1215M879.5,1210V1215M880.5,1210V1215M881.5,1210V1215M882.5,1210V1215.5M883.5,1210V1216.4M884.5,1208.4V1215M885.5,1210V1215M886.5,1210V1215M887.5,1210V1215M888.5,1210V1215M889.5,1209.9V1215M890.5,1210V1215M891.5,1210V1216.7M892.5,1210V1215M893.5,1210V1215M894.5,1210V1215M895.5,1208.2V1215M896.5,1212.9V1217.9M897.5,1210V1215M898.5,1210V1215M899.5,1209.5V1215M900.5,1210V1215M901.5,1210V1215M902.5,1210V1215M903.5,1208.3V1215M904.5,1210V1215M905.5,1210V1215M906.5,1212.9V1217.9M907.5,1210V1215M908.5,1212.9V1217.9M909.5,1212.9V1217.9M910.5,1210V1215M911.5,1212.5V1217.9M912.5,1212.9V1217.9M913.5,1212.9V1217.9M914.5,1212.9V1217.9M915.5,1212.9V1217.9M916.5,1212.9V1217.9M917.5,1212.9V1217.9M918.5,1212.2V1217.9M919.5,1212.9V1217.9M920.5,1210V1215M921.5,1210V1215M922.5,1212.9V1217.9M923.5,1212.9V1217.9M924.5,1212.9V1217.9M925.5,1212.9V1217.9M926.5,1212.9V1219.8M927.5,1212.5V1217.9M928.5,1212.9V1217.9M929.5,1212.9V1217.9M930.5,1212.9V1217.9M931.5,1212.9V1217.9M932.5,1212.9V1217.9M933.5,1212.9V1217.9M934.5,1212.9V1217.9M935.5,1212.9V1217.9M936.5,1212.9V1217.9M937.5,1212.9V1217.9M938.5,1214.8V1220.9M939.5,1212.9V1217.9M940.5,1212.9V1217.9M941.5,1212.9V1217.9M942.5,1215.9V1220.9M943.5,1212.9V1217.9M944.5,1212.9V1217.9M945.5,1215.9V1222.7M946.5,1212.9V1217.9M947.5,1212.9V1217.9M948.5,1212.9V1217.9M949.5,1212.9V1219.5M950.5,1212.5V1217.9M951.5,1215.9V1222.6M952.5,1215.9V1220.9M953.5,1212.9V1217.9M954.5,1211.1V1217.9M955.5,1212.9V1217.9M956.5,1212.9V1217.9M957.5,1215.9V1220.9M958.5,1215.9V1220.9M959.5,1212.9V1217.9M960.5,1215.9V1220.9M961.5,1212.8V1217.9M962.5,1215.9V1220.9M963.5,1215.9V1220.9M964.5,1215.9V1222M965.5,1215.9V1220.9M966.5,1215.9V1220.9M967.5,1215.9V1220.9M968.5,1215.9V1220.9M969.5,1215.9V1220.9M970.5,1215.9V1220.9M971.5,1214.6V1220.9M972.5,1215.9V1220.9M973.5,1215.9V1220.9M974.5,1215.9V1220.9M975.5,1215.9V1220.9M976.5,1215.9V1220.9M977.5,1215.9V1222.8M978.5,1214.7V1222.6M979.5,1215.9V1220.9M980.5,1215.9V1220.9M981.5,1215.9V1220.9M982.5,1215.9V1220.9M983.5,1215.9V1220.9M984.5,1218.8V1223.8M985.5,1215.9V1220.9M986.5,1215.9V1220.9M987.5,1217.8V1223.8M988.5,1215.9V1220.9M989.5,1215.9V1220.9M990.5,1215.9V1220.9M991.5,1215.9V1220.9M992.5,1218.8V1223.8M993.5,1215.9V1220.9M994.5,1218.3V1223.8M995.5,1218.8V1223.8M996.5,1215.9V1220.9M997.5,1218.8V1223.8M998.5,1218.8V1223.8M999.5,1218.8V1223.8M1000.5,1218.8V1224.3M1001.5,1215.9V1220.9M1002.5,1218.8V1223.8M1003.5,1215.9V1220.9M1004.5,1218.8V1224.5M1005.5,1218.8V1223.8M1006.5,1215.9V1220.9M1007.5,1215.9V1220.9M1008.5,1218.8V1225.6M1009.5,1215.9V1222M1010.5,1215.9V1220.9M1011.5,1218.8V1223.8M1012.5,1218.8V1223.8M1013.5,1218.8V1223.8M1014.5,1215.9V1220.9M1015.5,1218.8V1223.8M1016.5,1215.9V1220.9M1017.5,1218.8V1223.8M1018.5,1218.8V1223.8M1019.5,1215.9V1220.9M1020.5,1215.9V1220.9M1021.5,1218.8V1223.8M1022.5,1218.8V1225.1M1023.5,1218.8V1223.8M1024.5,1215.9V1220.9M1025.5,1218.8V1223.8M1026.5,1218.8V1225.6M1027.5,1215.9V1220.9M1028.5,1215.9V1220.9M1029.5,1218.8V1223.8M1030.5,1218.8V1223.8M1031.5,1218.8V1223.8M1032.5,1218.8V1223.8M1033.5,1215.9V1220.9M1034.5,1218.8V1223.8M1035.5,1215.9V1220.9M1036.5,1218.8V1223.8M1037.5,1218.8V1223.8M1038.5,1218.8V1223.8M1039.5,1218.4V1223.8M1040.5,1215.9V1220.9M1041.5,1217.7V1223.8M1042.5,1218.8V1223.8M1043.5,1216.9V1223.8M1044.5,1218.8V1223.8M1045.5,1218.8V1223.8M1046.5,1218.8V1223.8M1047.5,1218.8V1223.8M1048.5,1218.8V1223.8M1049.5,1218.8V1223.8M1050.5,1218.8V1223.8M1051.5,1217.7V1223.8M1052.5,1218.8V1223.8M1053.5,1218.8V1223.8M1054.5,1215.9V1220.9M1055.5,1218.8V1223.8M1056.5,1218.8V1223.8M1057.5,1218.8V1224.4M1058.5,1218.8V1223.8M1059.5,1218.8V1223.8M1060.5,1218.8V1223.8M1061.5,1218.8V1223.8M1062.5,1218.8V1223.8M1063.5,1218.8V1223.8M1064.5,1218.8V1223.8M1065.5,1218.7V1223.8M1066.5,1218.8V1223.8M1067.5,1218.8V1223.8M1068.5,1218.8V1223.8M1069.5,1217.2V1225.4M1070.5,1218.8V1223.8M1071.5,1215.9V1220.9M1072.5,1218.8V1223.9M1073.5,1215.9V1220.9M1074.5,1218.8V1223.8M1075.5,1218.8V1224.1M1076.5,1218.8V1223.8M1077.5,1218.8V1223.8M1078.5,1215.9V1220.9M1079.5,1218.8V1223.8M1080.5,1218.8V1223.8M1081.5,1218.8V1223.8M1082.5,1218.8V1223.8M1083.5,1217.3V1223.8M1084.5,1218.8V1223.8M1085.5,1218.8V1223.8M1086.5,1218.8V1223.8M1087.5,1218.8V1223.8M1088.5,1218.8V1223.8M1089.5,1218.8V1223.8M1090.5,1215.9V1220.9M1091.5,1218.8V1223.8M1092.5,1218.8V1223.8M1093.5,1218.8V1223.8M1094.5,1218.8V1223.8M1095.5,1218.8V1223.8M1096.5,1218.4V1223.8M1097.5,1218.8V1223.8M1098.5,1218.8V1223.8M1099.5,1218.8V1223.8M1100.5,1218.8V1223.8M1101.5,1218.8V1225.2M1102.5,1218.8V1223.8M1103.5,1218.8V1223.8M1104.5,1218.8V1223.8M1105.5,1218.7V1223.8M1106.5,1218.8V1223.8M1107.5,1218.8V1223.8M1108.5,1218.8V1224.4M1109.5,1217.7V1223.8M1110.5,1218.8V1223.8M1111.5,1218.8V1223.8M1112.5,1218.8V1223.8M1113.5,1218.8V1224.6M1114.5,1218.8V1223.8M1115.5,1217.2V1223.8M1116.5,1218.8V1223.8M1117.5,1218.8V1223.8M1118.5,1218.8V1223.8M1119.5,1218.8V1223.8M1120.5,1218.8V1223.8M1121.5,1218.8V1223.8M1122.5,1218.8V1223.8M1123.5,1218.8V1223.8M1124.5,1218.8V1223.8M1125.5,1218.8V1224.5M1126.5,1217.6V1224.8M1127.5,1218.8V1223.8M1128.5,1218.8V1223.8M1129.5,1218.8V1223.8M1130.5,1218.8V1223.8M1131.5,1217.4V1223.8M1132.5,1218.8V1225.6M1133.5,1218.8V1223.8M1134.5,1218.8V1223.8M1135.5,1218.8V1223.8M1136.5,1218.8V1224M1137.5,1218.8V1223.8M1138.5,1218.8V1223.8M1139.5,1218.8V1223.8M1140.5,1217.8V1223.8M1141.5,1218.8V1223.8M1142.5,1218.8V1223.8M1143.5,1218.8V1223.8M1144.5,1218.8V1223.8M1145.5,1218.8V1225.2M1146.5,1218.8V1223.8M1147.5,1218.8V1223.8M1148.5,1218.8V1223.8M1149.5,1218.8V1223.8M1150.5,1218.8V1224M1151.5,1218.8V1223.8M1152.5,1218.8V1223.8M1153.5,1218.8V1223.8M1154.5,1218.8V1223.8" stroke="#ffff00" stroke-width="1.2" fill="none"/>
<path d="M165.5,1213.8V1217M166.5,1213.8V1217M167.5,1210.9V1214.3M168.5,1210.9V1214M173.5,1210.6V1214M174.5,1210.8V1214M175.5,1210.9V1214M182.5,1213.8V1217M186.5,1213.7V1217M189.5,1210.2V1214M191.5,1210.9V1215M196.5,1210.9V1214M197.5,1210.9V1214M200.5,1210.9V1214M206.5,1213.8V1217M213.5,1213.1V1217M215.5,1213.8V1217M216.5,1213.3V1217M217.5,1213.8V1217M219.5,1210.9V1214M226.5,1210.9V1214M228.5,1213.8V1217M229.5,1210.9V1214M232.5,1210.9V1214M236.5,1210.9V1214M241.5,1210.9V1214.3M245.5,1210.9V1214M246.5,1210.1V1214M248.5,1210.3V1214M249.5,1210.9V1214M250.5,1210.9V1214M255.5,1210.7V1214.9M256.5,1210.9V1214.3M258.5,1210.9V1214M262.5,1210.9V1214M263.5,1210.9V1214.5M266.5,1210.9V1214M267.5,1210.9V1214M268.5,1210.9V1214M269.5,1210.9V1214M271.5,1210.9V1214M273.5,1210.9V1214M276.5,1210.9V1214M277.5,1210.9V1214.6M278.5,1210.3V1214M279.5,1210.9V1214M280.5,1210.9V1214.6M281.5,1207.9V1211.1M283.5,1210.9V1214M284.5,1206.8V1211.1M287.5,1210.9V1214M289.5,1210.1V1214M292.5,1210.9V1214M293.5,1210.9V1214M297.5,1210.9V1215M301.5,1210.9V1214M303.5,1207.9V1211.1M306.5,1210.9V1214M312.5,1210.6V1214M313.5,1207.9V1211.1M314.5,1207.9V1212M315.5,1207.9V1211.2M318.5,1207.9V1211.1M319.5,1207.9V1211.1M320.5,1207.9V1211.1M321.5,1207.9V1211.1M324.5,1207.9V1211.7M328.5,1210.9V1214M329.5,1210.9V1214M331.5,1207.9V1212.2M332.5,1207.9V1211.1M334.5,1207.9V1211.5M335.5,1207.9V1211.1M336.5,1207.9V1211.1M337.5,1207.9V1211.1M339.5,1207.9V1211.1M347.5,1207.9V1211.1M352.5,1206.9V1211.1M359.5,1207.9V1211.1M360.5,1207.9V1211.1M361.5,1207.9V1212.2M362.5,1207.9V1211.1M366.5,1207.9V1211.1M367.5,1207.9V1211.1M370.5,1205V1208.2M372.5,1205V1208.2M374.5,1207.9V1211.1M376.5,1207.9V1211.1M377.5,1207.9V1211.1M378.5,1207.9V1211.1M379.5,1207.9V1211.1M380.5,1205V1208.2M381.5,1205V1208.2M382.5,1205V1208.2M383.5,1205V1208.3M384.5,1205V1208.2M385.5,1207.9V1211.1M386.5,1207.9V1211.1M390.5,1203.9V1208.2M394.5,1207.9V1211.1M395.5,1205V1208.2M397.5,1207.9V1211.1M398.5,1205V1208.2M399.5,1207.9V1211.1M400.5,1207.9V1211.1M402.5,1205V1208.2M403.5,1205V1208.2M404.5,1206.9V1211.7M411.5,1207.9V1211.1M412.5,1205V1208.8M416.5,1205V1208.2M419.5,1205V1208.2M420.5,1205V1208.4M425.5,1205V1208.2M426.5,1204.1V1208.2M427.5,1205V1208.2M430.5,1205V1208.2M431.5,1205V1208.2M432.5,1205V1208.2M433.5,1205V1208.2M436.5,1205V1208.2M437.5,1204.4V1208.2M439.5,1205V1208.2M442.5,1205V1208.2M443.5,1205V1208.4M444.5,1205V1208.2M447.5,1202V1205.2M450.5,1205V1208.2M455.5,1202V1205.3M457.5,1205V1208.2M459.5,1205V1208.2M460.5,1202V1205.2M461.5,1205V1208.2M462.5,1202V1205.2M463.5,1202V1205.2M464.5,1202V1205.2M465.5,1202V1205.4M470.5,1202V1205.2M471.5,1202V1205.2M474.5,1200.8V1205.2M476.5,1202V1205.2M479.5,1202V1205.2M480.5,1202V1205.2M481.5,1202V1205.2M485.5,1202V1205.2M487.5,1202V1205.2M489.5,1202V1205.2M491.5,1202V1205.2M492.5,1202V1205.2M494.5,1202V1205.2M495.5,1202V1205.2M498.5,1202V1205.2M499.5,1202V1205.2M500.5,1202V1205.2M501.5,1202V1205.2M502.5,1202V1205.2M505.5,1201.2V1205.2M508.5,1201.3V1205.2M510.5,1202V1205.6M512.5,1199.1V1202.8M514.5,1201.3V1205.2M518.5,1201.7V1205.2M520.5,1202V1205.2M521.5,1202V1205.2M523.5,1202V1205.2M525.5,1201.2V1205.2M527.5,1199.1V1202.2M531.5,1199.1V1202.2M532.5,1202V1205.2M536.5,1198.6V1202.2M541.5,1199.1V1202.2M545.5,1199.1V1202.2M546.5,1199.1V1203.4M550.5,1202V1205.7M552.5,1202V1205.2M556.5,1202V1205.2M558.5,1199.1V1202.2M559.5,1199.1V1202.2M560.5,1198.3V1202.2M562.5,1199.1V1202.2M563.5,1199.1V1202.2M565.5,1198.3V1202.2M566.5,1199.1V1202.2M567.5,1199.1V1202.2M568.5,1199.1V1202.2M569.5,1199.1V1202.2M576.5,1199.1V1202.2M579.5,1199.1V1202.2M580.5,1197.9V1202.2M581.5,1199.1V1202.2M582.5,1199.1V1202.7M584.5,1199.1V1202.2M585.5,1199.1V1202.2M587.5,1199.1V1202.2M588.5,1199.1V1202.2M591.5,1199.1V1202.2M592.5,1199.1V1202.2M593.5,1199.1V1202.2M596.5,1199.1V1202.2M599.5,1199.1V1202.2M601.5,1199.1V1202.2M607.5,1199.1V1202.2M608.5,1199.1V1202.2M609.5,1199.1V1202.2M613.5,1199.1V1202.2M614.5,1198.3V1202.2M615.5,1198.5V1202.2M619.5,1199.1V1202.2M620.5,1199.1V1203M621.5,1198.6V1202.2M623.5,1199.1V1202.2M626.5,1199.1V1202.2M630.5,1199.1V1202.2M634.5,1199.1V1202.7M637.5,1198.1V1202.2M640.5,1199.1V1202.2M644.5,1199.1V1202.2M646.5,1196.1V1199.3M648.5,1196.1V1199.3M650.5,1199.1V1202.2M652.5,1199.1V1202.2M654.5,1199.1V1202.5M656.5,1199.1V1202.2M657.5,1199.1V1202.2M663.5,1196.1V1199.3M664.5,1196.1V1199.3M665.5,1199.1V1202.2M666.5,1196.1V1199.3M668.5,1199.1V1202.2M669.5,1195.9V1199.3M670.5,1199.1V1203.2M672.5,1199.1V1202.2M673.5,1199.1V1202.2M674.5,1196.1V1199.3M676.5,1196.1V1199.8M679.5,1196.1V1199.3M680.5,1199.1V1202.2M682.5,1196.1V1199.3M683.5,1199.1V1202.2M686.5,1199.1V1202.2M692.5,1196.1V1199.3M696.5,1196.1V1199.3M697.5,1199.1V1202.2M698.5,1199.1V1202.2M701.5,1196.1V1199.3M702.5,1199.1V1202.7M706.5,1199.1V1202.2M707.5,1196.1V1199.3M708.5,1196.1V1199.3M709.5,1196.1V1199.3M710.5,1196.1V1199.3M711.5,1199.1V1202.2M713.5,1199.1V1202.4M714.5,1196.1V1199.3M717.5,1199.1V1202.2M718.5,1196.1V1199.3M719.5,1196.1V1199.3M720.5,1199.1V1202.2M725.5,1196.1V1200M727.5,1199.1V1202.2M728.5,1199.1V1202.2M729.5,1196.1V1199.3M730.5,1199.1V1202.2M733.5,1195.5V1199.3M737.5,1196.1V1199.3M738.5,1199.1V1203.1M741.5,1199.1V1202.2M749.5,1196.1V1199.3M751.5,1196.1V1199.3M753.5,1199.1V1202.2M757.5,1199.1V1202.2M758.5,1199.1V1202.2M761.5,1196.1V1199.3M762.5,1197.9V1202.2M763.5,1195.6V1199.3M764.5,1196.1V1199.3M766.5,1199.1V1202.2M767.5,1199.1V1203.4M768.5,1195.3V1199.3M769.5,1199.1V1202.2M770.5,1198.1V1202.2M772.5,1199.1V1202.2M774.5,1199.1V1202.2M778.5,1199.1V1202.2M779.5,1199.1V1202.2M780.5,1199.1V1202.2M788.5,1199.1V1202.2M790.5,1199.1V1202.2M793.5,1199.1V1202.2M794.5,1199.1V1202.2M795.5,1199.1V1202.2M797.5,1196.1V1199.3M801.5,1199.1V1202.2M802.5,1199.1V1202.2M805.5,1196.1V1199.3M808.5,1199.1V1202.2M811.5,1198.3V1202.2M814.5,1196.1V1199.8M816.5,1199.1V1202.2M817.5,1195.3V1199.3M819.5,1197.9V1202.2M823.5,1199.1V1202.2M828.5,1199.1V1202.2M836.5,1199.1V1202.2M838.5,1199.1V1202.2M841.5,1199.1V1202.2M845.5,1199.1V1202.2M847.5,1199.1V1202.2M848.5,1199.1V1202.2M849.5,1199.1V1202.2M852.5,1199.1V1202.2M854.5,1199.1V1203.4M855.5,1199.1V1202.2M856.5,1199.1V1202.2M857.5,1199.1V1202.2M858.5,1199.1V1202.2M859.5,1198.2V1202.2M861.5,1199.1V1202.2M863.5,1199.1V1202.2M864.5,1199.1V1202.2M866.5,1199.1V1202.2M871.5,1199.1V1202.2M872.5,1199.1V1202.2M876.5,1198.3V1202.5M877.5,1199.1V1202.2M879.5,1199.1V1203.2M880.5,1198.9V1202.2M881.5,1199.1V1202.2M889.5,1199.1V1202.2M892.5,1198.9V1202.2M893.5,1199.1V1202.2M894.5,1199.1V1202.2M895.5,1199.1V1202.2M896.5,1199.1V1202.2M898.5,1198.2V1202.2M902.5,1199.1V1202.2M903.5,1199.1V1202.2M904.5,1199.1V1202.2M906.5,1199.1V1202.2M907.5,1199.1V1202.2M908.5,1199.1V1202.9M912.5,1199.1V1202.2M914.5,1199.1V1202.3M915.5,1198.6V1202.2M918.5,1199.1V1202.2M919.5,1199.1V1202.2M921.5,1198.6V1202.2M922.5,1199.1V1202.2M925.5,1199.1V1202.2M926.5,1199.1V1202.2M928.5,1198.6V1202.2M929.5,1202V1205.2M930.5,1199.1V1202.2M932.5,1199.1V1202.2M934.5,1202V1205.2M936.5,1199.1V1202.8M937.5,1198.1V1202.2M939.5,1199.1V1202.4M941.5,1199.1V1202.2M942.5,1199.1V1202.2M943.5,1199.1V1202.2M944.5,1199.1V1202.2M945.5,1199.1V1202.2M946.5,1198.8V1202.4M947.5,1199.1V1202.2M949.5,1202V1205.2M953.5,1199.1V1202.2M955.5,1199.1V1202.2M956.5,1199.1V1202.2M957.5,1199.1V1202.2M959.5,1199.1V1203.1M961.5,1202V1205.2M966.5,1202V1205.2M967.5,1202V1205.2M968.5,1199.1V1202.2M974.5,1199.1V1202.2M976.5,1202V1205.2M978.5,1201.4V1205.2M980.5,1202V1205.2M981.5,1202V1205.2M982.5,1199.1V1202.2M983.5,1199.1V1202.2M987.5,1198.4V1202.2M988.5,1201V1205.7M993.5,1199.1V1202.2M994.5,1199.1V1202.2M995.5,1202V1205.2M996.5,1199.1V1202.2M1001.5,1202V1205.2M1004.5,1199.1V1202.2M1005.5,1202V1205.2M1008.5,1202V1205.2M1010.5,1202V1205.2M1011.5,1202V1205.5M1014.5,1202V1205.2M1016.5,1202V1205.2M1018.5,1202V1205.2M1019.5,1202V1205.2M1023.5,1202V1205.2M1025.5,1202V1205.2M1030.5,1205V1208.2M1032.5,1202V1205.2M1034.5,1202V1205.2M1040.5,1202V1205.2M1044.5,1202V1205.2M1045.5,1202V1205.2M1047.5,1205V1208.2M1051.5,1202V1205.2M1052.5,1205V1208.2M1056.5,1205V1209.2M1058.5,1202V1205.2M1060.5,1205V1208.2M1063.5,1205V1208.2M1064.5,1202V1205.2M1065.5,1202V1205.2M1066.5,1202V1205.2M1069.5,1202V1205.2M1070.5,1202V1206M1072.5,1205V1208.2M1073.5,1205V1208.2M1075.5,1202V1205.2M1076.5,1205V1208.2M1078.5,1202V1205.2M1079.5,1205V1208.2M1082.5,1202V1205.2M1085.5,1204V1208.2M1086.5,1202V1205.2M1088.5,1205V1208.2M1090.5,1202V1205.2M1092.5,1205V1208.2M1093.5,1205V1208.2M1098.5,1205V1208.2M1102.5,1202V1206.3M1103.5,1205V1208.2M1104.5,1202V1205.2M1105.5,1205V1208.2M1106.5,1202V1205.2M1108.5,1202V1205.2M1111.5,1205V1208.2M1113.5,1205V1208.2M1116.5,1201V1205.2M1122.5,1204.4V1208.2M1127.5,1205V1208.2M1128.5,1201.3V1205.2M1129.5,1205V1208.2M1132.5,1204.4V1208.2M1134.5,1205V1208.2M1135.5,1202V1205.2M1140.5,1202V1205.2M1143.5,1205V1208.2M1146.5,1202V1205.2M1147.5,1201.6V1205.2M1148.5,1205V1208.2M1150.5,1205V1208.2M1151.5,1205V1208.2M1152.5,1205V1208.2M1154.5,1204.2V1208.9" stroke="#00ffff" stroke-width="1.2" fill="none"/>
<path d="M165.5,1215.4H167.5V1212.5H169.5V1215.4H170.5V1212.5H171.5V1215.4H172.5V1212.5H178.5V1215.4H179.5V1212.5H180.5V1215.4H181.5V1212.5H182.5V1215.4H183.5V1212.5H186.5V1215.4H188.5V1212.5H193.5V1215.4H194.5V1212.5H203.5V1215.4H204.5V1212.5H206.5V1215.4H207.5V1212.5H209.5V1215.4H210.5V1212.5H212.5V1215.4H214.5V1212.5H215.5V1215.4H219.5V1212.5H222.5V1215.4H223.5V1212.5H228.5V1215.4H229.5V1212.5H233.5V1215.4H234.5V1212.5H235.5V1215.4H236.5V1212.5H238.5V1215.4H239.5V1212.5H281.5V1209.5H283.5V1212.5H284.5V1209.5H285.5V1212.5H290.5V1209.5H291.5V1212.5H294.5V1209.5H296.5V1212.5H298.5V1209.5H301.5V1212.5H303.5V1209.5H304.5V1212.5H305.5V1209.5H306.5V1212.5H308.5V1209.5H312.5V1212.5H313.5V1209.5H327.5V1212.5H330.5V1209.5H370.5V1206.6H371.5V1209.5H372.5V1206.6H373.5V1209.5H380.5V1206.6H385.5V1209.5H389.5V1206.6H391.5V1209.5H395.5V1206.6H396.5V1209.5H398.5V1206.6H399.5V1209.5H402.5V1206.6H404.5V1209.5H405.5V1206.6H411.5V1209.5H412.5V1206.6H447.5V1203.6H448.5V1206.6H454.5V1203.6H456.5V1206.6H460.5V1203.6H461.5V1206.6H462.5V1203.6H472.5V1206.6H473.5V1203.6H512.5V1200.7H513.5V1203.6H526.5V1200.7H528.5V1203.6H529.5V1200.7H530.5V1203.6H531.5V1200.7H532.5V1203.6H536.5V1200.7H547.5V1203.6H548.5V1200.7H549.5V1203.6H551.5V1200.7H552.5V1203.6H553.5V1200.7H555.5V1203.6H557.5V1200.7H628.5V1197.7H629.5V1200.7H633.5V1197.7H634.5V1200.7H636.5V1197.7H637.5V1200.7H639.5V1197.7H640.5V1200.7H641.5V1197.7H642.5V1200.7H645.5V1197.7H647.5V1200.7H648.5V1197.7H649.5V1200.7H653.5V1197.7H654.5V1200.7H659.5V1197.7H660.5V1200.7H661.5V1197.7H662.5V1200.7H663.5V1197.7H665.5V1200.7H666.5V1197.7H667.5V1200.7H669.5V1197.7H670.5V1200.7H671.5V1197.7H672.5V1200.7H674.5V1197.7H677.5V1200.7H679.5V1197.7H680.5V1200.7H682.5V1197.7H683.5V1200.7H685.5V1197.7H686.5V1200.7H687.5V1197.7H688.5V1200.7H689.5V1197.7H690.5V1200.7H691.5V1197.7H697.5V1200.7H699.5V1197.7H700.5V1200.7H701.5V1197.7H702.5V1200.7H705.5V1197.7H706.5V1200.7H707.5V1197.7H711.5V1200.7H712.5V1197.7H713.5V1200.7H714.5V1197.7H717.5V1200.7H718.5V1197.7H720.5V1200.7H721.5V1197.7H722.5V1200.7H724.5V1197.7H726.5V1200.7H729.5V1197.7H730.5V1200.7H731.5V1197.7H732.5V1200.7H733.5V1197.7H736.5V1200.7H737.5V1197.7H738.5V1200.7H739.5V1197.7H741.5V1200.7H742.5V1197.7H744.5V1200.7H749.5V1197.7H750.5V1200.7H751.5V1197.7H752.5V1200.7H754.5V1197.7H756.5V1200.7H760.5V1197.7H762.5V1200.7H763.5V1197.7H765.5V1200.7H768.5V1197.7H769.5V1200.7H773.5V1197.7H774.5V1200.7H784.5V1197.7H785.5V1200.7H786.5V1197.7H788.5V1200.7H797.5V1197.7H798.5V1200.7H800.5V1197.7H801.5V1200.7H805.5V1197.7H806.5V1200.7H814.5V1197.7H816.5V1200.7H817.5V1197.7H818.5V1200.7H820.5V1197.7H821.5V1200.7H831.5V1197.7H832.5V1200.7H837.5V1197.7H838.5V1200.7H929.5V1203.6H930.5V1200.7H934.5V1203.6H935.5V1200.7H949.5V1203.6H950.5V1200.7H951.5V1203.6H953.5V1200.7H960.5V1203.6H962.5V1200.7H966.5V1203.6H968.5V1200.7H969.5V1203.6H970.5V1200.7H976.5V1203.6H982.5V1200.7H986.5V1203.6H987.5V1200.7H988.5V1203.6H989.5V1200.7H995.5V1203.6H996.5V1200.7H997.5V1203.6H998.5V1200.7H1001.5V1203.6H1003.5V1200.7H1005.5V1203.6H1030.5V1206.6H1031.5V1203.6H1035.5V1206.6H1036.5V1203.6H1042.5V1206.6H1044.5V1203.6H1046.5V1206.6H1051.5V1203.6H1052.5V1206.6H1053.5V1203.6H1056.5V1206.6H1058.5V1203.6H1060.5V1206.6H1064.5V1203.6H1071.5V1206.6H1074.5V1203.6H1076.5V1206.6H1077.5V1203.6H1079.5V1206.6H1082.5V1203.6H1083.5V1206.6H1084.5V1203.6H1085.5V1206.6H1086.5V1203.6H1087.5V1206.6H1089.5V1203.6H1092.5V1206.6H1096.5V1203.6H1097.5V1206.6H1100.5V1203.6H1101.5V1206.6H1102.5V1203.6H1103.5V1206.6H1104.5V1203.6H1105.5V1206.6H1106.5V1203.6H1107.5V1206.6H1108.5V1203.6H1110.5V1206.6H1115.5V1203.6H1117.5V1206.6H1120.5V1203.6H1122.5V1206.6H1124.5V1203.6H1127.5V1206.6H1128.5V1203.6H1129.5V1206.6H1131.5V1203.6H1132.5V1206.6H1133.5V1203.6H1134.5V1206.6H1135.5V1203.6H1136.5V1206.6H1138.5V1203.6H1139.5V1206.6H1140.5V1203.6H1141.5V1206.6H1142.5V1203.6H1143.5V1206.6H1144.5V1203.6H1145.5V1206.6H1146.5V1203.6H1148.5V1206.6H1153.5V1203.6H1154.5V1206.6H1154.5" stroke="#00ffff" stroke-width="1.3" fill="none"/>
<path d="M165.5,1103.8V1108.8M166.5,1103.8V1108.8M167.5,1103.8V1108.8M168.5,1103.8V1108.8M169.5,1103.8V1108.8M170.5,1103.8V1108.8M171.5,1100.8V1105.8M172.5,1102.8V1108.8M173.5,1100.8V1105.8M174.5,1100.8V1105.8M175.5,1100.8V1105.8M176.5,1100.8V1105.8M177.5,1100.8V1105.8M178.5,1100.8V1105.8M179.5,1097.9V1102.9M180.5,1100.8V1105.8M181.5,1100.8V1105.8M182.5,1097.9V1102.9M183.5,1097.9V1102.9M184.5,1097.3V1102.9M185.5,1097.9V1102.9M186.5,1097.9V1102.9M187.5,1097.9V1102.9M188.5,1096.3V1102.9M189.5,1097.9V1102.9M190.5,1094.9V1099.9M191.5,1097.9V1102.9M192.5,1097.9V1102.9M193.5,1097.9V1102.9M194.5,1094.9V1099.9M195.5,1097.9V1102.9M196.5,1097.9V1102.9M197.5,1094.9V1099.9M198.5,1094.9V1099.9M199.5,1094.9V1099.9M200.5,1094.6V1099.9M201.5,1094.9V1099.9M202.5,1094.2V1100.9M203.5,1094.9V1099.9M204.5,1092V1097M205.5,1092V1097M206.5,1092V1097M207.5,1092V1097M208.5,1094.9V1099.9M209.5,1092V1097M210.5,1092V1097M211.5,1092V1097M212.5,1090.6V1097M213.5,1092V1097M214.5,1092V1097M215.5,1092V1097M216.5,1090.9V1098M217.5,1092V1097M218.5,1092V1097M219.5,1092V1097M220.5,1092V1097M221.5,1092V1097M222.5,1092V1097M223.5,1092V1097M224.5,1092V1097M225.5,1092V1097.6M226.5,1089V1095M227.5,1092V1097M228.5,1089V1094M229.5,1089V1094M230.5,1089V1094M231.5,1089V1094M232.5,1089V1094M233.5,1089V1094M234.5,1088.9V1094M235.5,1089V1094M236.5,1089V1094M237.5,1089V1094M238.5,1089V1095.7M239.5,1089V1094M240.5,1089V1094M241.5,1089V1094M242.5,1086V1091M243.5,1086V1091M244.5,1087.9V1094M245.5,1089V1094M246.5,1087.6V1094M247.5,1087.1V1094M248.5,1089V1094M249.5,1086V1091M250.5,1089V1095.9M251.5,1089V1094M252.5,1086V1091M253.5,1086V1091M254.5,1086V1091M255.5,1086V1092.8M256.5,1089V1095.8M257.5,1089V1094M258.5,1086V1091M259.5,1086V1091M260.5,1086V1091M261.5,1086V1091M262.5,1084.5V1091M263.5,1086V1091M264.5,1089V1094M265.5,1089V1094M266.5,1086V1092.2M267.5,1089V1094M268.5,1086V1091M269.5,1085.2V1091M270.5,1086V1091M271.5,1086V1091M272.5,1086V1091M273.5,1086V1091M274.5,1086V1091.1M275.5,1086V1091M276.5,1086V1091M277.5,1086V1092.1M278.5,1086V1091M279.5,1084.6V1091M280.5,1086V1091M281.5,1086V1091M282.5,1086V1091M283.5,1084.8V1091M284.5,1086V1091M285.5,1086V1091M286.5,1084.9V1091.4M287.5,1084.1V1091M288.5,1086V1091M289.5,1083.1V1088.3M290.5,1084.9V1091M291.5,1082.1V1088.1M292.5,1086V1091M293.5,1083.1V1088.1M294.5,1084.2V1091M295.5,1086V1091M296.5,1086V1091M297.5,1083.1V1088.1M298.5,1086V1091M299.5,1086V1091M300.5,1083.1V1089.8M301.5,1086V1091M302.5,1083.1V1088.1M303.5,1083.1V1088.1M304.5,1086V1091M305.5,1086V1091M306.5,1081.9V1088.1M307.5,1083.1V1089.8M308.5,1086V1091M309.5,1083.1V1088.1M310.5,1083.1V1088.1M311.5,1082.3V1088.1M312.5,1083.1V1090.1M313.5,1083.1V1088.1M314.5,1083.1V1088.1M315.5,1083.1V1088.1M316.5,1083.1V1088.1M317.5,1083.1V1088.1M318.5,1083.1V1088.1M319.5,1086V1091M320.5,1086V1091M321.5,1083.1V1088.1M322.5,1083.1V1088.1M323.5,1083.1V1088.1M324.5,1083.1V1089.6M325.5,1083.1V1088.1M326.5,1083.1V1089.3M327.5,1083.1V1088.1M328.5,1083V1088.1M329.5,1083.1V1088.1M330.5,1083.1V1088.1M331.5,1083.1V1088.1M332.5,1083.1V1088.1M333.5,1083.1V1088.1M334.5,1083.1V1088.1M335.5,1083.1V1088.1M336.5,1083.1V1088.1M337.5,1083.1V1089.8M338.5,1083.1V1088.1M339.5,1083.1V1088.1M340.5,1083.1V1088.1M341.5,1083.1V1088.1M342.5,1083.1V1088.1M343.5,1083.1V1088.1M344.5,1083.1V1088.1M345.5,1083.1V1088.1M346.5,1083.1V1088.1M347.5,1083.1V1088.1M348.5,1080.2V1085.2M349.5,1083.1V1088.1M350.5,1083.1V1088.1M351.5,1083.1V1088.1M352.5,1083.1V1088.1M353.5,1080.2V1085.2M354.5,1083.1V1088.1M355.5,1078.8V1085.2M356.5,1080.2V1085.2M357.5,1080.2V1086.9M358.5,1079.5V1085.2M359.5,1080.2V1085.2M360.5,1082.7V1088.1M361.5,1078.9V1085.2M362.5,1080.2V1085.2M363.5,1083.1V1088.1M364.5,1080.2V1086.5M365.5,1080.2V1086.3M366.5,1080.2V1085.2M367.5,1080.2V1085.2M368.5,1083.1V1088.1M369.5,1080.2V1085.2M370.5,1083.1V1089.3M371.5,1083.1V1088.1M372.5,1083.1V1088.1M373.5,1080.2V1085.2M374.5,1077.2V1082.2M375.5,1080.2V1085.2M376.5,1080.2V1085.2M377.5,1077.2V1082.2M378.5,1077.2V1082.2M379.5,1080.2V1085.2M380.5,1080.2V1085.2M381.5,1077.2V1082.2M382.5,1080.2V1085.2M383.5,1080.2V1085.2M384.5,1080.2V1085.2M385.5,1077.2V1082.2M386.5,1075.6V1082.2M387.5,1080.2V1085.2M388.5,1080.2V1085.2M389.5,1080.2V1085.2M390.5,1077.2V1082.2M391.5,1077.2V1082.2M392.5,1080.2V1085.2M393.5,1077.2V1082.2M394.5,1080.2V1085.2M395.5,1080.2V1085.2M396.5,1080.2V1085.2M397.5,1080.2V1085.2M398.5,1077.2V1082.2M399.5,1080.2V1085.2M400.5,1077.2V1082.2M401.5,1080.2V1085.2M402.5,1079.7V1085.2M403.5,1080.2V1085.2M404.5,1080.2V1085.2M405.5,1080.2V1085.7M406.5,1077.2V1082.2M407.5,1080.2V1085.2M408.5,1080.2V1085.2M409.5,1080.2V1085.2M410.5,1080.2V1085.2M411.5,1080.2V1085.2M412.5,1079.6V1085.2M413.5,1080.2V1085.2M414.5,1077.2V1082.2M415.5,1080.2V1085.2M416.5,1077.2V1082.2M417.5,1080.2V1085.2M418.5,1077.2V1084.1M419.5,1080.2V1085.2M420.5,1077.2V1082.2M421.5,1077.2V1082.2M422.5,1077.2V1082.2M423.5,1077.2V1082.2M424.5,1077.2V1082.2M425.5,1080.2V1085.2M426.5,1080.2V1085.2M427.5,1077.2V1082.2M428.5,1080.2V1085.2M429.5,1077.2V1082.2M430.5,1080.2V1085.2M431.5,1080.2V1085.2M432.5,1076.7V1082.2M433.5,1077.2V1082.2M434.5,1080.2V1085.2M435.5,1080.2V1085.2M436.5,1077.2V1082.2M437.5,1080.2V1085.2M438.5,1080.2V1085.2M439.5,1080.2V1085.2M440.5,1080.2V1085.2M441.5,1080.2V1085.2M442.5,1080.2V1085.2M443.5,1075.3V1082.2M444.5,1077.2V1082.2M445.5,1077.2V1082.2M446.5,1077.2V1082.2M447.5,1077.2V1082.2M448.5,1080.2V1085.2M449.5,1078.7V1085.2M450.5,1080.2V1085.2M451.5,1077.2V1084M452.5,1080.2V1085.2M453.5,1079.9V1085.2M454.5,1080.2V1085.2M455.5,1080.2V1085.2M456.5,1077.2V1082.2M457.5,1077.2V1082.2M458.5,1077.2V1082.2M459.5,1080.2V1085.2M460.5,1077.2V1082.2M461.5,1080.2V1085.2M462.5,1077.2V1082.2M463.5,1075.9V1082.2M464.5,1077.2V1082.2M465.5,1077.2V1082.2M466.5,1080.2V1085.6M467.5,1080.2V1085.2M468.5,1080.2V1085.2M469.5,1080.2V1085.2M470.5,1077.2V1082.2M471.5,1080.2V1085.2M472.5,1080.2V1085.2M473.5,1077.2V1082.2M474.5,1080.2V1085.2M475.5,1077.2V1082.2M476.5,1077.2V1082.2M477.5,1077.2V1082.2M478.5,1077.2V1082.2M479.5,1077.2V1082.2M480.5,1080.2V1085.2M481.5,1077.2V1082.2M482.5,1077.2V1082.2M483.5,1080.2V1085.2M484.5,1076.6V1082.2M485.5,1080.2V1085.2M486.5,1077.2V1082.2M487.5,1080.2V1085.2M488.5,1077.2V1082.2M489.5,1077.2V1082.2M490.5,1080.2V1085.2M491.5,1077.2V1082.2M492.5,1080.2V1086M493.5,1077.2V1082.2M494.5,1080.2V1085.2M495.5,1080.2V1085.2M496.5,1079.5V1085.2M497.5,1077.2V1082.2M498.5,1077.2V1082.3M499.5,1077.2V1082.2M500.5,1077.2V1082.2M501.5,1080.2V1085.2M502.5,1077.2V1082.2M503.5,1080.2V1085.2M504.5,1077.2V1082.2M505.5,1080.2V1085.2M506.5,1077.2V1082.2M507.5,1077.2V1082.2M508.5,1080.2V1085.2M509.5,1077.2V1082.2M510.5,1080.2V1085.2M511.5,1080.2V1085.2M512.5,1080.2V1085.2M513.5,1080.2V1085.5M514.5,1080.2V1085.2M515.5,1080.2V1085.2M516.5,1080.2V1085.2M517.5,1080.2V1085.2M518.5,1077.2V1082.7M519.5,1080.2V1085.2M520.5,1075.4V1082.2M521.5,1077.2V1083M522.5,1080.2V1085.2M523.5,1080.2V1085.2M524.5,1077.2V1082.2M525.5,1077.2V1082.2M526.5,1078.5V1085.2M527.5,1077.2V1082.2M528.5,1080.2V1085.2M529.5,1080.2V1085.2M530.5,1077.2V1082.2M531.5,1080.2V1085.2M532.5,1080.2V1085.2M533.5,1080.2V1085.2M534.5,1079.9V1085.2M535.5,1080.2V1085.2M536.5,1080.2V1085.2M537.5,1080.2V1085.2M538.5,1080.2V1086.3M539.5,1080.2V1085.2M540.5,1080.2V1085.2M541.5,1078.3V1085.2M542.5,1080.2V1085.2M543.5,1080.2V1085.2M544.5,1080.2V1085.2M545.5,1080.2V1085.2M546.5,1079.8V1085.2M547.5,1080.2V1085.2M548.5,1077.2V1082.2M549.5,1077.2V1082.2M550.5,1077.2V1083M551.5,1075.7V1082.2M552.5,1077.2V1082.2M553.5,1080.2V1085.2M554.5,1080.2V1085.2M555.5,1077.2V1082.2M556.5,1077.2V1082.2M557.5,1080.2V1085.2M558.5,1080.2V1085.2M559.5,1080.2V1085.2M560.5,1076.3V1082.2M561.5,1080.2V1085.2M562.5,1077.2V1082.2M563.5,1080.2V1085.2M564.5,1076.9V1082.2M565.5,1077.2V1082.2M566.5,1077.2V1082.2M567.5,1077.2V1082.2M568.5,1077.2V1082.2M569.5,1080.2V1085.2M570.5,1080.2V1085.2M571.5,1080.2V1085.2M572.5,1080.2V1085.2M573.5,1075.7V1082.2M574.5,1078.6V1085.2M575.5,1080.2V1085.2M576.5,1080.2V1085.2M577.5,1080.2V1085.2M578.5,1078.3V1085.2M579.5,1080.2V1087.1M580.5,1077.2V1083.8M581.5,1075.7V1082.2M582.5,1077.2V1082.2M583.5,1077.2V1082.2M584.5,1080.2V1085.2M585.5,1080.2V1086.5M586.5,1080.2V1085.2M587.5,1075.4V1082.2M588.5,1080.2V1085.2M589.5,1080.2V1085.2M590.5,1077.2V1084M591.5,1079.1V1085.2M592.5,1080.2V1085.2M593.5,1080V1085.2M594.5,1080.2V1085.2M595.5,1080.2V1085.2M596.5,1077.2V1082.2M597.5,1077.2V1082.2M598.5,1080.2V1085.2M599.5,1080.2V1085.2M600.5,1077.2V1082.2M601.5,1077.2V1082.2M602.5,1077.2V1082.2M603.5,1080V1085.2M604.5,1077.2V1082.2M605.5,1077.2V1082.2M606.5,1080.2V1085.2M607.5,1080.2V1085.2M608.5,1080.2V1085.2M609.5,1079.3V1085.2M610.5,1078.2V1085.2M611.5,1080.2V1085.2M612.5,1077.2V1082.2M613.5,1077.2V1082.2M614.5,1077.2V1082.2M615.5,1077.2V1082.2M616.5,1077.2V1082.2M617.5,1080.2V1085.2M618.5,1077.2V1082.2M619.5,1077.2V1083M620.5,1080.2V1085.2M621.5,1080.2V1085.2M622.5,1080.2V1085.2M623.5,1080.2V1085.2M624.5,1080.2V1085.2M625.5,1080.2V1086M626.5,1077.2V1082.2M627.5,1075.7V1082.2M628.5,1077.2V1082.2M629.5,1080.2V1085.2M630.5,1080.2V1085.2M631.5,1080.2V1085.2M632.5,1080.2V1085.2M633.5,1080.2V1085.2M634.5,1077.2V1082.2M635.5,1080.2V1085.2M636.5,1077.2V1082.2M637.5,1079.2V1085.2M638.5,1077.2V1082.2M639.5,1079.7V1086.8M640.5,1080.2V1085.2M641.5,1077.2V1082.2M642.5,1077.2V1082.2M643.5,1077.2V1082.2M644.5,1080.2V1085.2M645.5,1077.2V1082.2M646.5,1077.2V1082.2M647.5,1080V1085.2M648.5,1078.7V1085.2M649.5,1080.2V1085.7M650.5,1079.9V1085.2M651.5,1080.2V1085.2M652.5,1080.2V1085.2M653.5,1077.2V1082.2M654.5,1077.2V1082.2M655.5,1077.2V1082.2M656.5,1080.2V1085.2M657.5,1077.2V1082.2M658.5,1080.2V1085.2M659.5,1077.2V1082.2M660.5,1080.2V1085.5M661.5,1077.2V1082.2M662.5,1080.2V1085.2M663.5,1077.2V1082.2M664.5,1077.2V1083.6M665.5,1080.2V1085.2M666.5,1080.2V1085.2M667.5,1080.2V1085.2M668.5,1080.2V1085.2M669.5,1077.2V1082.2M670.5,1076.7V1082.2M671.5,1077.2V1083.6M672.5,1080.2V1085.2M673.5,1080.2V1085.2M674.5,1080.2V1085.2M675.5,1080.2V1085.2M676.5,1077.2V1082.2M677.5,1080.2V1085.2M678.5,1080.2V1085.2M679.5,1080.2V1085.2M680.5,1077.2V1082.2M681.5,1080.2V1085.2M682.5,1080.2V1085.2M683.5,1080.2V1085.2M684.5,1079.2V1085.2M685.5,1080.2V1085.2M686.5,1078.8V1087M687.5,1080.2V1085.2M688.5,1080.2V1085.2M689.5,1080.2V1085.2M690.5,1079V1085.2M691.5,1080.2V1085.2M692.5,1077.2V1082.2M693.5,1080.2V1085.3M694.5,1080.2V1085.2M695.5,1077.2V1082.2M696.5,1079.8V1085.2M697.5,1080.2V1085.2M698.5,1080.2V1085.2M699.5,1077.2V1082.2M700.5,1077.2V1082.2M701.5,1077.2V1082.2M702.5,1077.2V1082.2M703.5,1077.2V1082.2M704.5,1080.2V1086.6M705.5,1080.2V1087M706.5,1077.2V1082.2M707.5,1080.2V1085.2M708.5,1077.2V1082.2M709.5,1077.2V1082.2M710.5,1077.2V1082.2M711.5,1080.2V1085.2M712.5,1078.5V1086.6M713.5,1080.2V1085.2M714.5,1077.2V1082.2M715.5,1077.2V1082.2M716.5,1080.2V1085.2M717.5,1080.2V1085.2M718.5,1080.2V1085.2M719.5,1077.2V1082.2M720.5,1080.2V1085.2M721.5,1077.2V1082.2M722.5,1078.6V1085.2M723.5,1080.2V1085.2M724.5,1079.3V1085.2M725.5,1080.2V1085.2M726.5,1080.2V1085.2M727.5,1080.2V1085.2M728.5,1080.2V1085.2M729.5,1077.2V1082.2M730.5,1080.2V1085.2M731.5,1077.2V1082.2M732.5,1080.2V1085.2M733.5,1077.2V1082.7M734.5,1077.2V1082.2M735.5,1077.2V1082.2M736.5,1077.2V1082.2M737.5,1080.1V1085.2M738.5,1080.2V1085.2M739.5,1080.2V1085.2M740.5,1080.2V1085.2M741.5,1080.2V1085.3M742.5,1080.2V1085.2M743.5,1077.2V1082.2M744.5,1080.2V1086.5M745.5,1080.2V1085.2M746.5,1080.2V1085.2M747.5,1080.2V1085.2M748.5,1077.2V1082.2M749.5,1077.2V1082.2M750.5,1077.2V1082.2M751.5,1076.9V1082.2M752.5,1080.2V1085.2M753.5,1077.2V1082.2M754.5,1080.2V1085.2M755.5,1077.2V1082.2M756.5,1080.2V1085.2M757.5,1077.2V1082.2M758.5,1080.2V1085.2M759.5,1077.2V1082.2M760.5,1077.2V1082.2M761.5,1077.2V1082.2M762.5,1080.2V1085.2M763.5,1080.2V1085.2M764.5,1080.2V1085.2M765.5,1077.2V1082.2M766.5,1080.2V1085.2M767.5,1077.2V1082.2M768.5,1080.2V1085.2M769.5,1077.2V1082.2M770.5,1077.2V1082.2M771.5,1077.2V1083.4M772.5,1080.2V1085.2M773.5,1080.2V1085.2M774.5,1080.2V1085.2M775.5,1079.7V1085.2M776.5,1080.2V1085.2M777.5,1080.2V1085.6M778.5,1077.2V1082.2M779.5,1080.2V1085.2M780.5,1077.2V1082.2M781.5,1077.2V1082.2M782.5,1080.2V1085.2M783.5,1080.2V1086.8M784.5,1077.2V1082.2M785.5,1080.2V1085.2M786.5,1080.2V1085.2M787.5,1080.2V1085.2M788.5,1077.2V1082.2M789.5,1080.2V1085.2M790.5,1080.2V1085.2M791.5,1080.2V1085.2M792.5,1075.4V1082.2M793.5,1080.2V1085.2M794.5,1080.2V1085.2M795.5,1077.2V1083.5M796.5,1080.2V1085.2M797.5,1080.2V1085.2M798.5,1077.2V1082.2M799.5,1077.2V1082.2M800.5,1077.2V1082.2M801.5,1080.2V1085.2M802.5,1077.2V1082.2M803.5,1080.2V1085.2M804.5,1080.2V1085.2M805.5,1077.2V1082.2M806.5,1080.2V1085.2M807.5,1080.2V1085.2M808.5,1075.2V1082.2M809.5,1077.2V1082.2M810.5,1076.6V1082.2M811.5,1080.2V1085.2M812.5,1080.2V1087M813.5,1080.2V1085.2M814.5,1077.2V1082.2M815.5,1080.2V1085.2M816.5,1079.4V1085.2M817.5,1077.2V1083.1M818.5,1080.2V1085.2M819.5,1079V1085.2M820.5,1080.2V1085.2M821.5,1080.2V1085.2M822.5,1077.2V1082.2M823.5,1080.2V1085.2M824.5,1080.2V1085.2M825.5,1080.2V1085.2M826.5,1080.2V1085.2M827.5,1080.2V1085.2M828.5,1080.2V1085.2M829.5,1080.2V1085.2M830.5,1080.2V1085.2M831.5,1080.2V1086.1M832.5,1077.2V1082.2M833.5,1080.2V1085.2M834.5,1080.2V1085.2M835.5,1080.2V1085.2M836.5,1076.1V1082.2M837.5,1077.2V1082.2M838.5,1080.2V1085.2M839.5,1080.2V1086.7M840.5,1080.2V1085.2M841.5,1080V1085.2M842.5,1079.9V1085.2M843.5,1077.2V1082.2M844.5,1077.2V1082.2M845.5,1080.2V1086.8M846.5,1079.9V1085.2M847.5,1077.2V1082.2M848.5,1080.2V1085.2M849.5,1080.2V1085.2M850.5,1080.2V1085.2M851.5,1077.2V1082.2M852.5,1080.2V1085.2M853.5,1080.2V1085.2M854.5,1080.2V1085.2M855.5,1080.2V1085.2M856.5,1080.2V1085.2M857.5,1077.2V1082.2M858.5,1080.2V1085.2M859.5,1080.2V1085.2M860.5,1080.2V1085.2M861.5,1080.2V1085.4M862.5,1080.2V1085.2M863.5,1080.2V1085.2M864.5,1080.2V1085.2M865.5,1080.2V1085.2M866.5,1080.2V1085.2M867.5,1080.2V1085.2M868.5,1080.2V1086.3M869.5,1080.2V1085.2M870.5,1080.2V1085.2M871.5,1080.2V1085.2M872.5,1080.2V1085.2M873.5,1079.1V1085.2M874.5,1077.2V1082.2M875.5,1077.2V1082.2M876.5,1078.7V1085.2M877.5,1080.2V1085.2M878.5,1078.9V1085.2M879.5,1080.2V1085.2M880.5,1080.2V1085.2M881.5,1077.2V1082.9M882.5,1080.2V1085.2M883.5,1077.2V1082.2M884.5,1077.2V1082.2M885.5,1080.2V1085.2M886.5,1077.2V1082.2M887.5,1080.2V1085.2M888.5,1077.2V1083M889.5,1080.2V1086.6M890.5,1077.2V1082.2M891.5,1080.2V1085.2M892.5,1077.2V1082.2M893.5,1080.2V1085.2M894.5,1077.2V1082.2M895.5,1080.2V1085.2M896.5,1077.2V1082.2M897.5,1079.4V1085.2M898.5,1077.2V1082.2M899.5,1078.5V1085.2M900.5,1080.2V1085.2M901.5,1077.2V1082.2M902.5,1080.2V1085.4M903.5,1080.2V1085.2M904.5,1080.2V1086.6M905.5,1076.6V1083.2M906.5,1080.2V1085.2M907.5,1080.2V1086.3M908.5,1077.2V1082.2M909.5,1077.2V1082.2M910.5,1079.3V1085.2M911.5,1080.2V1085.2M912.5,1080.2V1085.2M913.5,1080.2V1085.2M914.5,1080.2V1085.2M915.5,1077.2V1082.2M916.5,1076.8V1082.2M917.5,1080.2V1086.6M918.5,1080.2V1085.2M919.5,1078.3V1085.2M920.5,1080.2V1085.2M921.5,1080.2V1085.2M922.5,1079.9V1086.6M923.5,1077.2V1082.2M924.5,1077.2V1082.2M925.5,1080.2V1085.2M926.5,1080.2V1085.2M927.5,1080.2V1085.2M928.5,1080.2V1086.1M929.5,1080.2V1085.2M930.5,1077.2V1082.2M931.5,1080.2V1086.5M932.5,1080.2V1085.2M933.5,1080.2V1085.2M934.5,1078.5V1085.2M935.5,1077.2V1082.2M936.5,1077.2V1082.2M937.5,1080.2V1087.1M938.5,1077.2V1082.2M939.5,1080.2V1085.2M940.5,1080.2V1085.2M941.5,1076.9V1082.2M942.5,1077.2V1082.2M943.5,1080.2V1085.2M944.5,1077.2V1082.2M945.5,1080.2V1085.2M946.5,1080.2V1085.2M947.5,1080.2V1085.2M948.5,1080.2V1085.2M949.5,1080.2V1085.2M950.5,1078.8V1085.2M951.5,1080.2V1085.2M952.5,1080.2V1085.2M953.5,1078.5V1085.2M954.5,1080.2V1085.9M955.5,1080.2V1085.2M956.5,1080.2V1085.2M957.5,1080.2V1085.2M958.5,1078.8V1085.2M959.5,1077.2V1082.2M960.5,1080.2V1085.2M961.5,1080.2V1085.2M962.5,1080.2V1085.2M963.5,1077.2V1082.2M964.5,1080.2V1085.2M965.5,1080.2V1085.2M966.5,1080.2V1085.2M967.5,1080.2V1085.2M968.5,1080.2V1085.2M969.5,1079.9V1085.2M970.5,1080.2V1085.2M971.5,1080.2V1085.2M972.5,1080.2V1086.3M973.5,1079V1085.2M974.5,1077.2V1082.2M975.5,1080.2V1086.8M976.5,1080.2V1085.2M977.5,1077.2V1082.2M978.5,1075.4V1082.2M979.5,1080.2V1085.2M980.5,1080.2V1085.2M981.5,1080.2V1085.2M982.5,1077.2V1082.2M983.5,1076.8V1082.2M984.5,1080.2V1085.2M985.5,1080V1085.2M986.5,1080.2V1085.2M987.5,1080.2V1085.2M988.5,1080.2V1085.2M989.5,1080.2V1085.2M990.5,1080.2V1085.2M991.5,1080.2V1085.2M992.5,1080.2V1085.2M993.5,1080.2V1085.2M994.5,1077.2V1082.2M995.5,1080.2V1086.7M996.5,1080.2V1085.2M997.5,1080.2V1085.2M998.5,1080.2V1085.2M999.5,1075.6V1082.2M1000.5,1077.2V1082.2M1001.5,1080.2V1085.2M1002.5,1080.2V1085.2M1003.5,1077.2V1082.2M1004.5,1080.2V1085.2M1005.5,1080.2V1085.2M1006.5,1080.2V1085.2M1007.5,1080.2V1085.2M1008.5,1077.2V1082.2M1009.5,1080.2V1085.2M1010.5,1080.2V1085.2M1011.5,1080.2V1085.2M1012.5,1080.2V1085.2M1013.5,1077.2V1082.2M1014.5,1078.5V1085.2M1015.5,1080.2V1085.2M1016.5,1080V1085.2M1017.5,1080.2V1085.2M1018.5,1078.9V1085.2M1019.5,1077.2V1082.2M1020.5,1077.2V1082.2M1021.5,1080.2V1085.2M1022.5,1080.2V1085.2M1023.5,1077.2V1082.2M1024.5,1080.2V1085.2M1025.5,1077.2V1082.2M1026.5,1080.2V1085.2M1027.5,1077.2V1082.2M1028.5,1080.2V1085.2M1029.5,1080.2V1085.2M1030.5,1080.2V1085.2M1031.5,1077.2V1082.2M1032.5,1077.2V1082.2M1033.5,1080.2V1085.2M1034.5,1077.2V1082.2M1035.5,1077.2V1082.2M1036.5,1077.2V1082.2M1037.5,1074.2V1079.2M1038.5,1077.2V1082.2M1039.5,1074.2V1079.2M1040.5,1076.4V1082.2M1041.5,1077.2V1082.2M1042.5,1077.2V1082.2M1043.5,1077.2V1082.2M1044.5,1077V1082.2M1045.5,1074.2V1079.2M1046.5,1074.2V1079.2M1047.5,1077.2V1082.9M1048.5,1074.2V1079.2M1049.5,1074.2V1079.2M1050.5,1077.2V1082.2M1051.5,1077.2V1082.2M1052.5,1074.2V1079.2M1053.5,1077.2V1082.2M1054.5,1074.2V1079.2M1055.5,1077.2V1082.4M1056.5,1077.2V1082.2M1057.5,1077.2V1082.2M1058.5,1074.2V1079.2M1059.5,1077.2V1082.2M1060.5,1077.2V1082.2M1061.5,1074.2V1079.6M1062.5,1077.2V1083.1M1063.5,1077.2V1082.2M1064.5,1077.2V1082.2M1065.5,1077.2V1082.2M1066.5,1077.2V1082.2M1067.5,1074.2V1079.2M1068.5,1077.2V1082.2M1069.5,1076.8V1082.2M1070.5,1074.2V1079.2M1071.5,1077.2V1082.2M1072.5,1077.2V1082.2M1073.5,1074.2V1079.2M1074.5,1077.2V1082.2M1075.5,1074.2V1079.2M1076.5,1074.2V1079.2M1077.5,1077.2V1082.2M1078.5,1073.3V1079.2M1079.5,1077.2V1082.2M1080.5,1077.2V1082.2M1081.5,1074.2V1079.2M1082.5,1074.2V1079.2M1083.5,1077.2V1083.3M1084.5,1074.2V1079.2M1085.5,1075.7V1082.2M1086.5,1077.2V1082.2M1087.5,1077.2V1082.2M1088.5,1077.2V1082.2M1089.5,1077.2V1082.2M1090.5,1077.2V1082.2M1091.5,1077.2V1082.2M1092.5,1074.2V1079.3M1093.5,1077.2V1082.2M1094.5,1077.2V1082.2M1095.5,1074.2V1079.2M1096.5,1077.2V1082.2M1097.5,1077.2V1082.2M1098.5,1074.2V1079.2M1099.5,1076.4V1082.2M1100.5,1076.5V1082.2M1101.5,1074.2V1080.8M1102.5,1074.2V1080.4M1103.5,1074.2V1079.2M1104.5,1074.2V1079.2M1105.5,1077.2V1082.2M1106.5,1077.2V1082.2M1107.5,1074.2V1079.2M1108.5,1077.2V1082.2M1109.5,1074.2V1079.2M1110.5,1074.2V1080.1M1111.5,1077.2V1082.2M1112.5,1077.2V1082.2M1113.5,1074.2V1079.2M1114.5,1074.2V1081.1M1115.5,1077.2V1082.2M1116.5,1074.2V1079.2M1117.5,1077.2V1082.2M1118.5,1074.2V1079.2M1119.5,1077.2V1082.2M1120.5,1074.2V1079.2M1121.5,1077.2V1082.2M1122.5,1074.2V1079.2M1123.5,1077.2V1082.2M1124.5,1074.2V1079.2M1125.5,1074.2V1079.2M1126.5,1077.2V1082.2M1127.5,1077.2V1082.2M1128.5,1077.2V1083.2M1129.5,1074.2V1079.2M1130.5,1077.2V1082.2M1131.5,1074.2V1079.2M1132.5,1072.8V1079.2M1133.5,1077.2V1082.2M1134.5,1077.2V1082.2M1135.5,1077.2V1082.2M1136.5,1077.2V1082.2M1137.5,1074.2V1079.2M1138.5,1074.2V1079.2M1139.5,1074.2V1079.2M1140.5,1077.2V1082.2M1141.5,1074.2V1079.2M1142.5,1074.2V1079.2M1143.5,1077.2V1082.2M1144.5,1074.2V1079.2M1145.5,1074.2V1079.2M1146.5,1077.2V1082.2M1147.5,1074.2V1079.2M1148.5,1077.1V1082.2M1149.5,1074.2V1079.2M1150.5,1076.5V1082.2M1151.5,1077.2V1082.2M1152.5,1077.2V1084.1M1153.5,1077.2V1082.2M1154.5,1074.2V1079.2" stroke="#00ff00" stroke-width="1.2" fill="none"/>
<path d="M165.5,1122.4V1125.5M172.5,1119.4V1122.6M174.5,1119.4V1123.7M175.5,1119.4V1122.6M179.5,1116.5V1119.6M182.5,1116.5V1120.3M185.5,1116.5V1119.6M187.5,1116.5V1119.6M192.5,1116.5V1119.6M194.5,1113.5V1116.7M196.5,1113.5V1116.7M197.5,1112.9V1116.7M198.5,1113.5V1116.7M199.5,1110.6V1113.8M202.5,1110.6V1113.8M206.5,1107.6V1110.8M208.5,1110.6V1113.8M209.5,1107.3V1110.8M215.5,1107.6V1110.8M216.5,1107.6V1110.8M217.5,1107.6V1110.8M218.5,1107.6V1110.8M219.5,1107.6V1110.9M222.5,1107.6V1110.8M223.5,1104.7V1107.8M225.5,1104.1V1107.8M226.5,1104.7V1107.8M229.5,1104.7V1108.1M233.5,1104.7V1107.8M234.5,1104.7V1107.8M235.5,1104.7V1107.8M237.5,1104.7V1107.8M240.5,1104.7V1107.9M242.5,1101V1104.9M244.5,1101.7V1105.7M245.5,1101.7V1104.9M246.5,1104.7V1107.8M247.5,1101.7V1104.9M249.5,1101.7V1104.9M258.5,1101.7V1104.9M267.5,1098.6V1102M268.5,1098.3V1102M269.5,1098.8V1102M272.5,1098.5V1102M274.5,1098.8V1102M275.5,1098.8V1102M276.5,1098V1102M278.5,1098.8V1102M280.5,1098.8V1102M282.5,1098.8V1102M283.5,1098.8V1102M292.5,1097.6V1102M295.5,1098.8V1102M296.5,1098.8V1102.3M297.5,1098.8V1102M305.5,1095.8V1099M307.5,1098.8V1102M308.5,1095.8V1099M310.5,1098.8V1102M311.5,1095.8V1099M313.5,1098.8V1102M315.5,1095.8V1099M319.5,1095.8V1099M321.5,1097.7V1102M323.5,1095.8V1099M324.5,1098.8V1102M325.5,1094.6V1099M326.5,1095.8V1099M329.5,1095.8V1099M330.5,1095.8V1099M333.5,1095.8V1099.7M334.5,1095.8V1099M337.5,1095.8V1099M341.5,1095.8V1099M345.5,1095.8V1099M346.5,1095.8V1099M349.5,1095.8V1099M350.5,1095.7V1099.2M354.5,1095.8V1099M357.5,1095.2V1099M361.5,1095.8V1099M362.5,1095.4V1099M367.5,1094.7V1099M368.5,1095.6V1099M369.5,1095.8V1099M371.5,1095.8V1099M372.5,1095.8V1099M377.5,1089.9V1093.1M385.5,1089.9V1093.1M390.5,1092.9V1096M391.5,1092.9V1096M392.5,1092.9V1096M393.5,1089.9V1093.1M395.5,1091.7V1096M401.5,1092.9V1096M402.5,1092.9V1096M403.5,1092.1V1096M404.5,1092.9V1096M406.5,1092.9V1096M408.5,1092.7V1096.9M409.5,1092.9V1096.3M411.5,1092.9V1096M414.5,1092.9V1096.3M418.5,1089.9V1093.1M420.5,1089.9V1093.1M422.5,1092.9V1096M426.5,1089.9V1093.1M427.5,1089.9V1094.1M433.5,1092.9V1096M436.5,1092.9V1096M438.5,1089.9V1093.1M441.5,1089.9V1093.8M443.5,1092.9V1096M444.5,1092.9V1096M448.5,1089.9V1093.2M450.5,1092.9V1096.6M452.5,1092.9V1096M455.5,1092.9V1096M456.5,1092.9V1096M460.5,1092.9V1096M461.5,1089.9V1093.1M465.5,1092.1V1097M466.5,1089.9V1093.1M468.5,1092.5V1096M469.5,1089.9V1093.1M471.5,1092.9V1096M472.5,1088.9V1093.1M474.5,1092.9V1096M477.5,1089.9V1094.1M482.5,1092.9V1096.2M483.5,1092.9V1096.9M484.5,1092.1V1096M485.5,1092.9V1096M486.5,1089.9V1093.1M487.5,1089.9V1093.1M488.5,1092.9V1096.5M490.5,1089.9V1093.1M492.5,1092.9V1096M494.5,1092.9V1096M495.5,1089.9V1093.1M496.5,1089.9V1093.1M497.5,1092.9V1096M499.5,1089.9V1093.1M503.5,1092.9V1097.2M505.5,1089.6V1093.1M506.5,1092.9V1096M512.5,1089.9V1093.1M514.5,1089.9V1093.1M515.5,1092.9V1096M518.5,1092.9V1096M521.5,1092.9V1096M523.5,1089.9V1093.1M525.5,1092.9V1096M526.5,1092.9V1096M527.5,1091.8V1096M528.5,1089.9V1093.1M529.5,1089.9V1093.1M530.5,1091.8V1096M531.5,1089.7V1093.1M532.5,1092.9V1096M533.5,1092.9V1096M535.5,1092.9V1096M543.5,1089.9V1093.1M544.5,1089.9V1093.1M548.5,1092.9V1096M549.5,1092.9V1096M550.5,1092.9V1096M552.5,1092.9V1096M558.5,1089.9V1093.1M561.5,1089.9V1093.1M562.5,1092.9V1096M567.5,1089.9V1093.1M569.5,1092.9V1096M570.5,1089.9V1093.1M571.5,1092.9V1096.6M572.5,1089.9V1093.1M573.5,1092.9V1096M574.5,1092.9V1096M578.5,1089.9V1093.1M580.5,1092.9V1096M581.5,1092.9V1096M582.5,1092.9V1096M586.5,1089.9V1093.8M587.5,1092.9V1096M589.5,1089.9V1093.1M594.5,1092.9V1096M595.5,1092.9V1096M602.5,1089.9V1093.1M604.5,1089.9V1093.1M608.5,1089.9V1093.1M609.5,1089.9V1093.1M613.5,1092.9V1096M615.5,1092.9V1096M617.5,1089.2V1093.1M619.5,1089.9V1093.1M624.5,1089.9V1093.1M626.5,1092.9V1096M627.5,1092.9V1096M632.5,1092.5V1096M635.5,1089.9V1093.1M637.5,1089.9V1093.1M640.5,1089.9V1093.1M642.5,1089.9V1093.1M643.5,1089.9V1093.1M647.5,1088.7V1093.1M649.5,1092.9V1096M650.5,1092.9V1096M654.5,1089.9V1093.1M655.5,1089.9V1093.3M657.5,1089.5V1093.1M661.5,1089.9V1093.9M662.5,1092.9V1096M664.5,1092.9V1096M665.5,1092.9V1096M671.5,1092.4V1096M676.5,1089.9V1093.1M677.5,1092.9V1096M678.5,1092.9V1096M679.5,1092.9V1096M680.5,1089.9V1093.1M684.5,1089.9V1093.1M686.5,1089.9V1093.1M688.5,1089.1V1093.1M690.5,1089.9V1094.2M693.5,1089.9V1093.1M694.5,1089.9V1093.1M696.5,1089.9V1093.1M698.5,1089.9V1093.1M699.5,1092.9V1096M700.5,1089.9V1093.1M703.5,1089.9V1093.1M708.5,1089.9V1093.1M711.5,1092.9V1096.5M712.5,1092.9V1096M715.5,1089.9V1093.7M720.5,1088.8V1093.1M722.5,1089.9V1093.1M724.5,1089.9V1093.1M727.5,1089.9V1093.1M729.5,1089.9V1093.1M730.5,1089.9V1093.1M734.5,1092.9V1096M739.5,1092.9V1096M746.5,1092.9V1096M747.5,1089.9V1094.2M749.5,1089.9V1093.1M750.5,1089.2V1093.1M755.5,1089.9V1093.1M756.5,1089.9V1093.1M759.5,1089.9V1094.1M760.5,1089.9V1093.1M764.5,1089.9V1093.9M770.5,1089.9V1093.1M775.5,1089.9V1093.6M777.5,1089.9V1093.1M778.5,1092.9V1096.2M780.5,1091.8V1096M782.5,1092.9V1096M784.5,1089.9V1093.1M785.5,1089.9V1093.1M786.5,1089.9V1093.1M796.5,1089.9V1093.1M797.5,1092.9V1096M798.5,1089.9V1093.1M799.5,1089.9V1093.1M800.5,1089.9V1093.1M804.5,1089.9V1093.1M809.5,1089.9V1093.1M813.5,1089.9V1093.1M814.5,1092.9V1096M818.5,1089.9V1093.4M823.5,1092.9V1096M825.5,1092.9V1096M826.5,1089.9V1093.1M829.5,1092.4V1096M830.5,1092.9V1096.5M831.5,1092.9V1096.4M833.5,1089.9V1093.1M836.5,1092.9V1096M839.5,1089.9V1093.1M845.5,1089.8V1093.1M846.5,1092.9V1096M847.5,1089.9V1093.1M850.5,1089.9V1093.1M851.5,1092.9V1096M854.5,1089.9V1093.1M855.5,1092.9V1096M857.5,1089.9V1093.1M862.5,1089.9V1093.1M864.5,1089.9V1093.1M868.5,1092.9V1097M872.5,1089.9V1093.1M873.5,1089.9V1093.1M874.5,1089.9V1093.1M875.5,1089.9V1093.1M876.5,1089.9V1093.1M879.5,1089.9V1093.1M881.5,1089.9V1093.1M884.5,1089.9V1093.1M885.5,1089.9V1093.1M887.5,1089.9V1093.1M888.5,1089.9V1093.1M890.5,1089.9V1093.9M893.5,1092.9V1096M894.5,1089.9V1093.5M895.5,1089.9V1093.1M899.5,1089.9V1093.1M900.5,1092.9V1096.5M904.5,1089.9V1093.1M905.5,1089.9V1094.2M911.5,1089.9V1093.1M914.5,1089.9V1093.1M918.5,1089.9V1093.1M921.5,1089.9V1093.1M922.5,1089.9V1093.1M923.5,1092.9V1096M925.5,1089.9V1093.1M926.5,1089.9V1093.1M929.5,1089.8V1093.1M930.5,1089.9V1093.1M933.5,1089.9V1093.5M934.5,1089.9V1093.1M939.5,1089.9V1093.1M940.5,1089.9V1093.1M941.5,1089.5V1093.1M944.5,1089.9V1093.9M945.5,1089.9V1093.1M946.5,1089.9V1093.1M949.5,1089.2V1093.1M952.5,1092.9V1096M958.5,1089.5V1093.9M959.5,1089.9V1093.1M962.5,1089.9V1094.1M965.5,1089.5V1093.1M972.5,1089.9V1093.1M975.5,1089.9V1093.1M980.5,1089.9V1093.1M981.5,1089.9V1093.1M985.5,1089.9V1093.1M986.5,1088.9V1093.1M987.5,1089.9V1093.1M994.5,1089.9V1093.1M995.5,1088.9V1093.1M996.5,1089.9V1093.1M997.5,1089.9V1093.1M998.5,1089.9V1093.1M1000.5,1089.9V1093.1M1002.5,1089.9V1093.1M1003.5,1089.9V1094.2M1004.5,1089.9V1093.4M1005.5,1089.2V1093.1M1006.5,1092.9V1096M1008.5,1089.9V1093.1M1009.5,1089.9V1094.3M1010.5,1089.9V1093.1M1011.5,1089.9V1093.1M1012.5,1089.9V1093.1M1014.5,1089.9V1093.8M1016.5,1089.9V1093.1M1018.5,1089.9V1093.1M1019.5,1089.9V1093.1M1025.5,1088.8V1093.1M1028.5,1089.9V1093.1M1030.5,1089.9V1093.1M1033.5,1089.9V1093.1M1036.5,1089.9V1093.1M1037.5,1089.9V1093.1M1041.5,1089.9V1093.1M1042.5,1089.9V1093.1M1045.5,1089.9V1093.1M1046.5,1089.9V1093.1M1048.5,1089.9V1093.1M1050.5,1087V1090.1M1052.5,1087V1090.1M1056.5,1089.9V1093.1M1057.5,1089.9V1093.1M1058.5,1087V1090.1M1060.5,1087V1090.1M1067.5,1089.9V1093.1M1069.5,1089.9V1093.1M1070.5,1087V1090.1M1071.5,1087V1090.1M1072.5,1089.9V1093.1M1076.5,1087V1090.1M1084.5,1087V1090.1M1086.5,1087V1090.1M1088.5,1087V1090.1M1090.5,1086.9V1090.1M1094.5,1084V1087.2M1096.5,1087V1090.1M1097.5,1087V1090.1M1099.5,1087V1090.1M1100.5,1084V1087.2M1102.5,1087V1090.1M1103.5,1087V1090.1M1104.5,1086.8V1090.1M1105.5,1087V1090.1M1107.5,1086V1090.8M1109.5,1087V1090.1M1110.5,1087V1090.1M1111.5,1087V1090.1M1112.5,1087V1090.8M1117.5,1087V1090.1M1121.5,1087V1090.1M1122.5,1087V1090.1M1123.5,1084V1087.7M1126.5,1086.7V1090.1M1129.5,1087V1090.1M1130.5,1087V1090.1M1131.5,1087V1090.1M1133.5,1087V1090.7M1134.5,1087V1090.1M1135.5,1087V1090.1M1138.5,1087V1090.1M1142.5,1087V1090.1M1145.5,1087V1090.1M1146.5,1087V1090.1M1147.5,1087V1090.1M1150.5,1087V1090.1M1151.5,1087V1090.1M1154.5,1087V1090.1" stroke="#0000ff" stroke-width="1.2" fill="none"/>
<path d="M165.5,1124H166.5V1121H177.5V1118H181.5V1121H182.5V1118H194.5V1115.1H199.5V1112.2H205.5V1109.2H208.5V1112.2H209.5V1109.2H223.5V1106.2H224.5V1109.2H225.5V1106.2H238.5V1103.3H239.5V1106.2H242.5V1103.3H243.5V1106.2H244.5V1103.3H246.5V1106.2H247.5V1103.3H262.5V1100.4H263.5V1103.3H267.5V1100.4H290.5V1097.4H291.5V1100.4H302.5V1097.4H303.5V1100.4H304.5V1097.4H306.5V1100.4H308.5V1097.4H309.5V1100.4H311.5V1097.4H312.5V1100.4H314.5V1097.4H316.5V1100.4H317.5V1097.4H321.5V1100.4H322.5V1097.4H324.5V1100.4H325.5V1097.4H364.5V1094.5H366.5V1097.4H373.5V1094.5H377.5V1091.5H378.5V1094.5H379.5V1091.5H383.5V1094.5H385.5V1091.5H387.5V1094.5H388.5V1091.5H390.5V1094.5H393.5V1091.5H395.5V1094.5H396.5V1091.5H401.5V1094.5H410.5V1091.5H411.5V1094.5H417.5V1091.5H419.5V1094.5H420.5V1091.5H421.5V1094.5H425.5V1091.5H429.5V1094.5H432.5V1091.5H433.5V1094.5H438.5V1091.5H443.5V1094.5H445.5V1091.5H450.5V1094.5H451.5V1091.5H452.5V1094.5H453.5V1091.5H455.5V1094.5H461.5V1091.5H464.5V1094.5H466.5V1091.5H467.5V1094.5H469.5V1091.5H470.5V1094.5H472.5V1091.5H473.5V1094.5H476.5V1091.5H478.5V1094.5H479.5V1091.5H481.5V1094.5H486.5V1091.5H488.5V1094.5H489.5V1091.5H491.5V1094.5H495.5V1091.5H497.5V1094.5H499.5V1091.5H501.5V1094.5H504.5V1091.5H506.5V1094.5H512.5V1091.5H513.5V1094.5H514.5V1091.5H515.5V1094.5H516.5V1091.5H518.5V1094.5H520.5V1091.5H521.5V1094.5H522.5V1091.5H524.5V1094.5H528.5V1091.5H530.5V1094.5H531.5V1091.5H532.5V1094.5H534.5V1091.5H535.5V1094.5H538.5V1091.5H539.5V1094.5H541.5V1091.5H542.5V1094.5H543.5V1091.5H547.5V1094.5H551.5V1091.5H552.5V1094.5H553.5V1091.5H554.5V1094.5H556.5V1091.5H562.5V1094.5H563.5V1091.5H566.5V1094.5H567.5V1091.5H569.5V1094.5H570.5V1091.5H571.5V1094.5H572.5V1091.5H573.5V1094.5H575.5V1091.5H576.5V1094.5H578.5V1091.5H580.5V1094.5H585.5V1091.5H587.5V1094.5H589.5V1091.5H594.5V1094.5H600.5V1091.5H603.5V1094.5H604.5V1091.5H607.5V1094.5H608.5V1091.5H610.5V1094.5H614.5V1091.5H615.5V1094.5H617.5V1091.5H618.5V1094.5H619.5V1091.5H620.5V1094.5H622.5V1091.5H623.5V1094.5H624.5V1091.5H626.5V1094.5H628.5V1091.5H629.5V1094.5H630.5V1091.5H632.5V1094.5H633.5V1091.5H634.5V1094.5H635.5V1091.5H636.5V1094.5H637.5V1091.5H638.5V1094.5H640.5V1091.5H644.5V1094.5H647.5V1091.5H648.5V1094.5H652.5V1091.5H659.5V1094.5H661.5V1091.5H662.5V1094.5H667.5V1091.5H668.5V1094.5H669.5V1091.5H671.5V1094.5H673.5V1091.5H675.5V1094.5H676.5V1091.5H677.5V1094.5H680.5V1091.5H681.5V1094.5H682.5V1091.5H683.5V1094.5H684.5V1091.5H685.5V1094.5H686.5V1091.5H692.5V1094.5H693.5V1091.5H695.5V1094.5H696.5V1091.5H697.5V1094.5H698.5V1091.5H699.5V1094.5H700.5V1091.5H702.5V1094.5H703.5V1091.5H706.5V1094.5H708.5V1091.5H711.5V1094.5H715.5V1091.5H716.5V1094.5H717.5V1091.5H719.5V1094.5H720.5V1091.5H725.5V1094.5H726.5V1091.5H728.5V1094.5H729.5V1091.5H734.5V1094.5H735.5V1091.5H737.5V1094.5H738.5V1091.5H739.5V1094.5H741.5V1091.5H745.5V1094.5H747.5V1091.5H748.5V1094.5H749.5V1091.5H757.5V1094.5H758.5V1091.5H765.5V1094.5H767.5V1091.5H768.5V1094.5H770.5V1091.5H771.5V1094.5H772.5V1091.5H773.5V1094.5H774.5V1091.5H778.5V1094.5H779.5V1091.5H780.5V1094.5H781.5V1091.5H782.5V1094.5H783.5V1091.5H788.5V1094.5H789.5V1091.5H792.5V1094.5H793.5V1091.5H797.5V1094.5H798.5V1091.5H802.5V1094.5H804.5V1091.5H812.5V1094.5H813.5V1091.5H814.5V1094.5H816.5V1091.5H819.5V1094.5H820.5V1091.5H823.5V1094.5H824.5V1091.5H825.5V1094.5H826.5V1091.5H829.5V1094.5H832.5V1091.5H834.5V1094.5H837.5V1091.5H838.5V1094.5H839.5V1091.5H840.5V1094.5H844.5V1091.5H846.5V1094.5H847.5V1091.5H851.5V1094.5H853.5V1091.5H855.5V1094.5H857.5V1091.5H860.5V1094.5H861.5V1091.5H868.5V1094.5H870.5V1091.5H893.5V1094.5H894.5V1091.5H900.5V1094.5H902.5V1091.5H912.5V1094.5H913.5V1091.5H916.5V1094.5H917.5V1091.5H923.5V1094.5H925.5V1091.5H948.5V1094.5H949.5V1091.5H950.5V1094.5H951.5V1091.5H952.5V1094.5H953.5V1091.5H955.5V1094.5H956.5V1091.5H957.5V1094.5H958.5V1091.5H960.5V1094.5H962.5V1091.5H974.5V1094.5H975.5V1091.5H982.5V1094.5H983.5V1091.5H989.5V1094.5H990.5V1091.5H999.5V1094.5H1000.5V1091.5H1006.5V1094.5H1007.5V1091.5H1039.5V1094.5H1040.5V1091.5H1044.5V1094.5H1045.5V1091.5H1050.5V1088.5H1055.5V1091.5H1058.5V1088.5H1059.5V1091.5H1060.5V1088.5H1067.5V1091.5H1068.5V1088.5H1069.5V1091.5H1070.5V1088.5H1072.5V1091.5H1073.5V1088.5H1074.5V1091.5H1076.5V1088.5H1077.5V1091.5H1078.5V1088.5H1094.5V1085.6H1095.5V1088.5H1098.5V1085.6H1099.5V1088.5H1100.5V1085.6H1101.5V1088.5H1123.5V1085.6H1124.5V1088.5H1125.5V1085.6H1126.5V1088.5H1127.5V1085.6H1128.5V1088.5H1154.5" stroke="#0000ff" stroke-width="1.2" fill="none"/>
<path d="M374,1091.6 H1154" stroke="#0000ff" stroke-width="1"/>
<path d="M165.5,1388.5 H1154.5 M412.5,1306.5 V1469.5 M660.5,1306.5 V1469.5 M907.5,1306.5 V1469.5 " stroke="#dfdfdf" stroke-width="1"/>
<path d="M165.5,1306.5 H1154.5 V1469.5 H165.5 Z M165.5,1306.5 h10 M1154.5,1306.5 h-10 M165.5,1388.5 h10 M1154.5,1388.5 h-10 M165.5,1469.5 h10 M1154.5,1469.5 h-10 M412.5,1306.5 v10 M412.5,1469.5 v-10 M660.5,1306.5 v10 M660.5,1469.5 v-10 M907.5,1306.5 v10 M907.5,1469.5 v-10 " stroke="#262626" stroke-width="1.1" fill="none"/>
<text x="155.5" y="1313.3" font-family="'Liberation Sans', sans-serif" font-size="22.4" text-anchor="end" fill="#262626">100</text>
<text x="155.5" y="1395.3" font-family="'Liberation Sans', sans-serif" font-size="22.4" text-anchor="end" fill="#262626">0</text>
<text x="155.5" y="1476.3" font-family="'Liberation Sans', sans-serif" font-size="22.4" text-anchor="end" fill="#262626">-100</text>
<rect x="166" y="1390.6" width="988.5" height="18.8" fill="#ffff00"/>
<path d="M173.2,1403.9V1409.6M175.9,1401.1V1409.6M178.2,1403.3V1409.6M185.1,1401.3V1409.6M189.2,1406.8V1409.6M197.6,1404.1V1409.6M199.8,1398.3V1409.6M201.4,1397.1V1409.6M207.9,1398.1V1409.6M210.2,1399.2V1409.6M217.4,1398.3V1409.6M219.9,1403.9V1409.6M228,1400.7V1409.6M231.8,1404.6V1409.6M245.5,1403.1V1409.6M248.8,1399.1V1409.6M257.1,1398.1V1409.6M259.6,1406V1409.6M267.1,1398.3V1409.6M269.8,1399.8V1409.6M282,1397.6V1409.6M288.2,1403.4V1409.6M291.2,1400.4V1409.6M302.8,1398.4V1409.6M312.5,1403.9V1409.6M316.3,1406.4V1409.6M318.9,1402.1V1409.6M331.4,1399.1V1409.6M340.6,1401.6V1409.6M349.8,1401.5V1409.6M351.8,1403V1409.6M354.8,1403.2V1409.6M364.6,1403.1V1409.6M367.4,1406.1V1409.6M369.1,1399.9V1409.6M370.9,1403.2V1409.6M383.2,1406.3V1409.6M385.8,1406.2V1409.6M388.3,1397.3V1409.6M391.8,1403.4V1409.6M397.4,1405V1409.6M401.2,1401.7V1409.6M415.6,1403.3V1409.6M422.4,1397.1V1409.6M424.1,1397.5V1409.6M426.3,1405.1V1409.6M429.1,1402.1V1409.6M432.7,1402.7V1409.6M444.7,1405.3V1409.6M452.7,1399.5V1409.6M458.4,1400.5V1409.6M462,1400.9V1409.6M475.7,1402.2V1409.6M477.7,1402.3V1409.6M484,1402.7V1409.6M486.7,1404.3V1409.6M492.4,1402.8V1409.6M494.6,1398V1409.6M496.2,1406.6V1409.6M499.3,1406.5V1409.6M514.9,1406.1V1409.6M528.2,1398.2V1409.6M532.2,1397.1V1409.6M540.9,1399.1V1409.6M542.8,1397V1409.6M547.4,1403.2V1409.6M553.4,1398.5V1409.6M555.9,1398V1409.6M559.5,1403.7V1409.6M561.5,1406.8V1409.6M563.6,1406.3V1409.6M566.1,1403.4V1409.6M575.3,1406.2V1409.6M579.1,1397.5V1409.6M587.6,1401.4V1409.6M592.1,1399V1409.6M595.9,1406.9V1409.6M598.1,1398.8V1409.6M602,1398.6V1409.6M611.4,1402.6V1409.6M615.9,1400.1V1409.6M617.4,1404.3V1409.6M619.9,1398.1V1409.6M623.2,1406.4V1409.6M626,1400.2V1409.6M632.9,1403.1V1409.6M643.4,1398.7V1409.6M647.3,1406.6V1409.6M648.8,1405.5V1409.6M656.1,1405.6V1409.6M661.9,1400.8V1409.6M664.2,1405.9V1409.6M678.9,1402.1V1409.6M685.7,1398V1409.6M689.3,1399.2V1409.6M691.9,1404.4V1409.6M702.5,1405.9V1409.6M704.6,1402.3V1409.6M716.2,1397.2V1409.6M726,1404.7V1409.6M734.9,1399.3V1409.6M738.4,1400.2V1409.6M741.7,1399.5V1409.6M745.7,1402.5V1409.6M751.1,1398.6V1409.6M754.7,1400.8V1409.6M758.3,1402.4V1409.6M774.9,1397.1V1409.6M778.1,1398.4V1409.6M796.8,1400.9V1409.6M800.7,1399.9V1409.6M804.3,1402.9V1409.6M808.9,1398.4V1409.6M838,1405.8V1409.6M841.8,1406V1409.6M851.3,1397.6V1409.6M865.8,1401.4V1409.6M873.7,1399.7V1409.6M876,1405.4V1409.6M882.7,1399.8V1409.6M888.7,1400.8V1409.6M896.3,1402.4V1409.6M900.3,1398.9V1409.6M903.5,1405.4V1409.6M905.6,1397.9V1409.6M911.8,1403.9V1409.6M922.2,1403.3V1409.6M933.5,1405.9V1409.6M945.7,1398.3V1409.6M951.4,1399.8V1409.6M953.1,1403.3V1409.6M955.1,1398.5V1409.6M961.9,1398.2V1409.6M965.8,1402.6V1409.6M974.4,1401.8V1409.6M977.8,1399.8V1409.6M988.3,1404V1409.6M989.8,1406.5V1409.6M993.4,1403.5V1409.6M1001.1,1404.7V1409.6M1004.2,1399.6V1409.6M1007.9,1402.5V1409.6M1025.9,1399.3V1409.6M1030.2,1401V1409.6M1034,1404.3V1409.6M1044.7,1399.7V1409.6M1050.5,1405.7V1409.6M1063.6,1403.7V1409.6M1071.1,1404.4V1409.6M1083,1406.3V1409.6M1084.7,1402.2V1409.6M1090.4,1404.5V1409.6M1092.6,1403V1409.6M1109.6,1399.3V1409.6M1114.3,1399.9V1409.6M1118.4,1406.2V1409.6M1127.1,1399.1V1409.6M1130.5,1404.8V1409.6M1134,1405.3V1409.6M1137.2,1398.3V1409.6M1146,1402V1409.6M1148.3,1404.3V1409.6M1153.3,1397.9V1409.6" stroke="#ffffff" stroke-width="0.9"/>
<path d="M1080.2,1385.4V1391M1060.3,1384.4V1391M714.6,1384.7V1391M705.9,1385.7V1391M826.1,1382.9V1391M259.1,1382.8V1391M441.5,1383.9V1391M798.1,1384.5V1391M786.4,1385.3V1391M575.9,1383.2V1391M404.6,1382.8V1391M380.6,1382.8V1391M563.5,1384.5V1391M909.5,1383.3V1391M915.9,1385.3V1391M376.7,1385.5V1391M731.1,1385.1V1391M1094.4,1383.4V1391M474.2,1383.4V1391M1007.1,1384.2V1391M340,1383V1391M313.1,1383.8V1391M1135.2,1385.8V1391M797.4,1383.6V1391M752.6,1384.5V1391M311.8,1384.4V1391M518.8,1383.6V1391M820.1,1385.3V1391M494.4,1383.3V1391M676.3,1385.5V1391M819.4,1385.9V1391M380.6,1383.4V1391M250.7,1383.9V1391M623.8,1384.5V1391M709.8,1384.9V1391M1123.1,1382.9V1391M1023.4,1384.1V1391M957,1383.9V1391M416.2,1384.7V1391M1058.8,1382.8V1391M247.2,1385.7V1391M632.1,1382.5V1391M702.1,1385.8V1391M655,1384.6V1391M293.7,1384.9V1391M923,1409V1414M937,1409V1414M970,1409V1414" stroke="#ffff00" stroke-width="1.6"/>
<path d="M705.2,1394v1.1M308.3,1392.7v2M871.2,1390.8v1.8M1086.6,1394.8v1.5M751.4,1390.2v2.1M839.9,1395.4v2.4M453.2,1394.5v1.1M1054.3,1395.4v2.7M383.7,1394v1.4M404.2,1395.6v1M286.6,1394.7v2.4M904.5,1391.3v1.8M1073.8,1393.8v2.7M275.5,1390.6v1.8M846.1,1395v2.5M304.8,1390.6v2.7M990.1,1394.5v2.6M431.9,1390.5v1.2M638.6,1392.6v1.6M754.6,1394.4v2.8M222.5,1391.7v1.9M1136,1394.1v2M698.9,1391.2v1.2M648.7,1395v1.1M1117.4,1389.6v1.2M322,1394.4v1.5M894.1,1395.4v1.3M639.6,1390v2.5M1096.2,1390.5v1.3M726.3,1390.7v1.1M777.3,1389.5v1.3M542.8,1389.8v1.8M312.1,1395.2v2.4M905.1,1395.1v1.9M430.9,1389.7v2.3M940.9,1391.8v2.7M487.2,1393.9v2.6M388.3,1395.7v1.6M888.9,1392.5v2.1M607.9,1390.7v2.7M585.3,1394.9v1.8M995.1,1393.6v2.6M1136.2,1391.1v2.3M448.1,1392.4v1.5M545.1,1389.7v1.8M289.3,1389.8v1.6M848.4,1392.6v2.8M953.5,1393.5v1M911.7,1390.5v3M195.8,1393.9v2.7M816.6,1394.2v2.8M925.8,1392.1v1.5M384.8,1393.6v2.2M866.8,1393.9v2.9M1146,1390.8v2.2M989.4,1395.4v2.9M616.8,1390.7v2.9M244.8,1389.6v1.2M350.9,1394.1v2.9M838.6,1391.8v2.4M497.5,1391.2v2.6M799,1394.1v1.9M326.8,1395.9v1.9M458.2,1390.5v2.4M288.8,1391.8v2.9M695.9,1395.9v2.4M201.1,1393.4v1.4M796.5,1395.4v2.1M349.3,1394.7v1.6M171,1392.1v2.7M198,1390.9v1.8M399.5,1395.7v2.8M296.9,1396v1.1M620.4,1391.3v1.9M606.3,1389.6v2.5M338.6,1395.1v2.3M966,1393.5v1.8M309,1393.5v1.5M478,1395.5v2.4M767,1394.3v2.4M727,1391v2.1M970.2,1392.9v2.3M220.8,1390.7v2M720.7,1394.9v2M335,1393.3v2.1M935.2,1390v1.1M183.7,1394.3v1.9M417,1392.2v2.7M513.1,1390.3v2.5M785.4,1394.8v2.8" stroke="#00dd00" stroke-width="0.9"/>
<path d="M166,1422.7 H1154" stroke="#3a4cf2" stroke-width="1.3"/>
<path d="M377.6,1418.3V1423.2M383.2,1418.3V1423.2M388.9,1418.3V1423.2M392,1418.3V1423.2M396,1418.3V1423.2M400.6,1418.3V1423.2M405.3,1418.3V1423.2M411.3,1418.3V1423.2M412.6,1418.3V1423.2M418.5,1418.3V1423.2M422,1418.3V1423.2M427.5,1418.3V1423.2M428.5,1418.3V1423.2M434.4,1418.3V1423.2M443.6,1418.3V1423.2M472.6,1418.3V1423.2M475.3,1418.3V1423.2M508.6,1418.3V1423.2M513.3,1418.3V1423.2M535.4,1418.3V1423.2M539.9,1418.3V1423.2M549.9,1418.3V1423.2M558.4,1418.3V1423.2M565.2,1418.3V1423.2M569.8,1418.3V1423.2M579,1418.3V1423.2M582.4,1418.3V1423.2M585.6,1418.3V1423.2M601.3,1418.3V1423.2M606.2,1418.3V1423.2M611.6,1418.3V1423.2M615.4,1418.3V1423.2M620.2,1418.3V1423.2M629,1418.3V1423.2M632.2,1418.3V1423.2M633.2,1418.3V1423.2" stroke="#0000ff" stroke-width="1.5"/>
<path d="M166,1388 V1460" stroke="#ffff00" stroke-width="1.6"/>
<path d="M165.7,1420 V1445" stroke="#20b0a0" stroke-width="1"/>
<text transform="translate(92.4,211.8) rotate(-90)" font-family="'Liberation Sans', sans-serif" font-size="20" font-weight="bold" text-anchor="middle" fill="#262626" textLength="179.5" lengthAdjust="spacingAndGlyphs">Outboard Sensor</text>
<text transform="translate(118.4,211.5) rotate(-90)" font-family="'Liberation Sans', sans-serif" font-size="20" font-weight="bold" text-anchor="middle" fill="#262626" textLength="159.8" lengthAdjust="spacingAndGlyphs">Frequency (Hz)</text>
<text transform="translate(91.9,448.6) rotate(-90)" font-family="'Liberation Sans', sans-serif" font-size="20" font-weight="bold" text-anchor="middle" fill="#262626" textLength="161" lengthAdjust="spacingAndGlyphs">Inboard Sensor</text>
<text transform="translate(118.2,448) rotate(-90)" font-family="'Liberation Sans', sans-serif" font-size="20" font-weight="bold" text-anchor="middle" fill="#262626" textLength="159.8" lengthAdjust="spacingAndGlyphs">Frequency (Hz)</text>
<text transform="translate(105.5,683.4) rotate(-90)" font-family="'Liberation Sans', sans-serif" font-size="20" font-weight="bold" text-anchor="middle" fill="#262626" textLength="113" lengthAdjust="spacingAndGlyphs">Total Field</text>
<text transform="translate(130.3,682.8) rotate(-90)" font-family="'Liberation Sans', sans-serif" font-size="20" font-weight="bold" text-anchor="middle" fill="#262626" textLength="76.5" lengthAdjust="spacingAndGlyphs">|B| (nT)</text>
<text transform="translate(72.4,916.8) rotate(-90)" font-family="'Liberation Sans', sans-serif" font-size="20" font-weight="bold" text-anchor="middle" fill="#262626" textLength="188.2" lengthAdjust="spacingAndGlyphs">Model - Measured</text>
<text transform="translate(97.8,918) rotate(-90)" font-family="'Liberation Sans', sans-serif" font-size="20" font-weight="bold" text-anchor="middle" fill="#262626" textLength="76.5" lengthAdjust="spacingAndGlyphs">|B| (nT)</text>
<text transform="translate(84.8,1152.8) rotate(-90)" font-family="'Liberation Sans', sans-serif" font-size="20" font-weight="bold" text-anchor="middle" fill="#262626" textLength="138" lengthAdjust="spacingAndGlyphs">Temperature</text>
<text transform="translate(111.1,1152.5) rotate(-90)" font-family="'Liberation Sans', sans-serif" font-size="20" font-weight="bold" text-anchor="middle" fill="#262626" textLength="39" lengthAdjust="spacingAndGlyphs">(&#176;C)</text>
<text transform="translate(71.8,1388.5) rotate(-90)" font-family="'Liberation Sans', sans-serif" font-size="20" font-weight="bold" text-anchor="middle" fill="#262626" textLength="82.8" lengthAdjust="spacingAndGlyphs">Voltage</text>
<text transform="translate(97.9,1388) rotate(-90)" font-family="'Liberation Sans', sans-serif" font-size="20" font-weight="bold" text-anchor="middle" fill="#262626" textLength="49.2" lengthAdjust="spacingAndGlyphs">(mV)</text>
<text transform="translate(1173.7,379.6) rotate(-90)" font-family="'Liberation Sans', sans-serif" font-size="15" font-weight="bold" fill="#262626" textLength="32" lengthAdjust="spacingAndGlyphs">Log</text>
<text transform="translate(1180.1,349.6) rotate(-90)" font-family="'Liberation Sans', sans-serif" font-size="12.5" font-weight="bold" fill="#262626" textLength="15.6" lengthAdjust="spacingAndGlyphs">10</text>
<text transform="translate(1173.7,327.6) rotate(-90)" font-family="'Liberation Sans', sans-serif" font-size="15" font-weight="bold" fill="#262626" textLength="27.6" lengthAdjust="spacingAndGlyphs">(nT</text>
<text transform="translate(1166,300.8) rotate(-90)" font-family="'Liberation Sans', sans-serif" font-size="10.5" font-weight="bold" fill="#262626" textLength="7.4" lengthAdjust="spacingAndGlyphs">2</text>
<text transform="translate(1173.7,292.3) rotate(-90)" font-family="'Liberation Sans', sans-serif" font-size="15" font-weight="bold" fill="#262626" textLength="32.2" lengthAdjust="spacingAndGlyphs">/Hz)</text>
<text transform="translate(1169.9,678.7) rotate(-90)" font-family="'Liberation Sans', sans-serif" font-size="15.2" font-weight="bold" textLength="63.6" lengthAdjust="spacingAndGlyphs">Inboard</text>
<text transform="translate(1182.2,699.9) rotate(-90)" font-family="'Liberation Sans', sans-serif" font-size="15.2" font-weight="bold" textLength="77.6" lengthAdjust="spacingAndGlyphs">Outboard</text>
<text transform="translate(1194.1,660) rotate(-90)" font-family="'Liberation Sans', sans-serif" font-size="15.2" font-weight="bold" textLength="48.7" lengthAdjust="spacingAndGlyphs">Chaos</text>
<path d="M1164.8,717.9V732.8" stroke="#0000ff" stroke-width="2"/><path d="M1179.9,719.2V734" stroke="#00ff00" stroke-width="2"/><path d="M1191.8,719V734" stroke="#ff0000" stroke-width="2"/>
<text transform="translate(1169.9,920.8) rotate(-90)" font-family="'Liberation Sans', sans-serif" font-size="15.2" font-weight="bold" textLength="63.2" lengthAdjust="spacingAndGlyphs">Inboard</text>
<text transform="translate(1182.2,940.7) rotate(-90)" font-family="'Liberation Sans', sans-serif" font-size="15.2" font-weight="bold" textLength="76.7" lengthAdjust="spacingAndGlyphs">Outboard</text>
<path d="M1164.8,957.1V971.9" stroke="#0000ff" stroke-width="2"/><path d="M1179.9,957.1V971.9" stroke="#00ff00" stroke-width="2"/>
<text transform="translate(1170,1176.3) rotate(-90)" font-family="'Liberation Sans', sans-serif" font-size="15.2" font-weight="bold" textLength="109" lengthAdjust="spacingAndGlyphs">Inboard EBox</text>
<text transform="translate(1182.1,1192) rotate(-90)" font-family="'Liberation Sans', sans-serif" font-size="15.2" font-weight="bold" textLength="124.7" lengthAdjust="spacingAndGlyphs">Inboard Sensor</text>
<text transform="translate(1193.6,1192) rotate(-90)" font-family="'Liberation Sans', sans-serif" font-size="15.2" font-weight="bold" textLength="122.3" lengthAdjust="spacingAndGlyphs">Outboard EBox</text>
<text transform="translate(1205.1,1212) rotate(-90)" font-family="'Liberation Sans', sans-serif" font-size="15.2" font-weight="bold" textLength="138.7" lengthAdjust="spacingAndGlyphs">Outboard Sensor</text>
<path d="M1167.9,1233.5V1248.3" stroke="#0000ff" stroke-width="2"/><path d="M1179.7,1233.5V1248.3" stroke="#00ffff" stroke-width="2"/><path d="M1191.8,1233.5V1248.3" stroke="#00ff00" stroke-width="2"/><path d="M1202.7,1233.5V1248.3" stroke="#ffff00" stroke-width="2"/>
<text transform="translate(1169.6,1438.8) rotate(-90)" font-family="'Liberation Sans', sans-serif" font-size="15.2" font-weight="bold" textLength="125.6" lengthAdjust="spacingAndGlyphs">Inboard VMon1</text>
<text transform="translate(1181.7,1438.8) rotate(-90)" font-family="'Liberation Sans', sans-serif" font-size="15.2" font-weight="bold" textLength="125" lengthAdjust="spacingAndGlyphs">Inboard VMon2</text>
<text transform="translate(1193.2,1448) rotate(-90)" font-family="'Liberation Sans', sans-serif" font-size="15.2" font-weight="bold" textLength="138.8" lengthAdjust="spacingAndGlyphs">Outboard VMon1</text>
<text transform="translate(1205,1448) rotate(-90)" font-family="'Liberation Sans', sans-serif" font-size="15.2" font-weight="bold" textLength="138.8" lengthAdjust="spacingAndGlyphs">Outboard VMon2</text>
<path d="M1167.8,1462.3V1477.9" stroke="#0000ff" stroke-width="2"/><path d="M1179.7,1462.3V1477.9" stroke="#00ffff" stroke-width="2"/><path d="M1191.7,1462.3V1477.9" stroke="#00ff00" stroke-width="2"/><path d="M1203,1462.3V1477.9" stroke="#ffff00" stroke-width="2"/>
<text x="41" y="1498.8" font-family="'Liberation Sans', sans-serif" font-size="14.8" font-weight="bold" textLength="46.6" lengthAdjust="spacingAndGlyphs">Time:</text>
<text x="165.3" y="1498.8" font-family="'Liberation Sans', sans-serif" font-size="14.8" font-weight="bold" text-anchor="middle" textLength="71.1" lengthAdjust="spacingAndGlyphs">13:03:11</text>
<text x="412.9" y="1498.8" font-family="'Liberation Sans', sans-serif" font-size="14.8" font-weight="bold" text-anchor="middle" textLength="71.1" lengthAdjust="spacingAndGlyphs">13:28:24</text>
<text x="660.7" y="1498.8" font-family="'Liberation Sans', sans-serif" font-size="14.8" font-weight="bold" text-anchor="middle" textLength="71.1" lengthAdjust="spacingAndGlyphs">13:53:36</text>
<text x="907.3" y="1498.8" font-family="'Liberation Sans', sans-serif" font-size="14.8" font-weight="bold" text-anchor="middle" textLength="71.1" lengthAdjust="spacingAndGlyphs">14:18:49</text>
<text x="1154.8" y="1498.8" font-family="'Liberation Sans', sans-serif" font-size="14.8" font-weight="bold" text-anchor="middle" textLength="71.1" lengthAdjust="spacingAndGlyphs">14:44:01</text>
<text x="41" y="1519.8" font-family="'Liberation Sans', sans-serif" font-size="14.8" font-weight="bold" textLength="75.7" lengthAdjust="spacingAndGlyphs">Rad(km):</text>
<text x="165.3" y="1519.8" font-family="'Liberation Sans', sans-serif" font-size="14.8" font-weight="bold" text-anchor="middle" textLength="55.2" lengthAdjust="spacingAndGlyphs">7283.0</text>
<text x="412.9" y="1519.8" font-family="'Liberation Sans', sans-serif" font-size="14.8" font-weight="bold" text-anchor="middle" textLength="55.2" lengthAdjust="spacingAndGlyphs">7677.7</text>
<text x="660.7" y="1519.8" font-family="'Liberation Sans', sans-serif" font-size="14.8" font-weight="bold" text-anchor="middle" textLength="55.2" lengthAdjust="spacingAndGlyphs">7166.0</text>
<text x="907.3" y="1519.8" font-family="'Liberation Sans', sans-serif" font-size="14.8" font-weight="bold" text-anchor="middle" textLength="55.2" lengthAdjust="spacingAndGlyphs">6706.7</text>
<text x="1154.8" y="1519.8" font-family="'Liberation Sans', sans-serif" font-size="14.8" font-weight="bold" text-anchor="middle" textLength="55.2" lengthAdjust="spacingAndGlyphs">7274.9</text>
<text x="41" y="1540.8" font-family="'Liberation Sans', sans-serif" font-size="14.8" font-weight="bold" textLength="32.9" lengthAdjust="spacingAndGlyphs">Lat:</text>
<text x="165.3" y="1540.8" font-family="'Liberation Sans', sans-serif" font-size="14.8" font-weight="bold" text-anchor="middle" textLength="41.2" lengthAdjust="spacingAndGlyphs">-60.1</text>
<text x="412.9" y="1540.8" font-family="'Liberation Sans', sans-serif" font-size="14.8" font-weight="bold" text-anchor="middle" textLength="35.3" lengthAdjust="spacingAndGlyphs">19.6</text>
<text x="660.7" y="1540.8" font-family="'Liberation Sans', sans-serif" font-size="14.8" font-weight="bold" text-anchor="middle" textLength="35.3" lengthAdjust="spacingAndGlyphs">74.5</text>
<text x="907.3" y="1540.8" font-family="'Liberation Sans', sans-serif" font-size="14.8" font-weight="bold" text-anchor="middle" textLength="41.2" lengthAdjust="spacingAndGlyphs">-20.8</text>
<text x="1154.8" y="1540.8" font-family="'Liberation Sans', sans-serif" font-size="14.8" font-weight="bold" text-anchor="middle" textLength="41.2" lengthAdjust="spacingAndGlyphs">-61.1</text>
<text x="41" y="1561.9" font-family="'Liberation Sans', sans-serif" font-size="14.8" font-weight="bold" textLength="36.4" lengthAdjust="spacingAndGlyphs">Lon:</text>
<text x="165.3" y="1561.9" font-family="'Liberation Sans', sans-serif" font-size="14.8" font-weight="bold" text-anchor="middle" textLength="41.2" lengthAdjust="spacingAndGlyphs">-34.2</text>
<text x="412.9" y="1561.9" font-family="'Liberation Sans', sans-serif" font-size="14.8" font-weight="bold" text-anchor="middle" textLength="41.2" lengthAdjust="spacingAndGlyphs">-21.2</text>
<text x="660.7" y="1561.9" font-family="'Liberation Sans', sans-serif" font-size="14.8" font-weight="bold" text-anchor="middle" textLength="45.2" lengthAdjust="spacingAndGlyphs">114.3</text>
<text x="907.3" y="1561.9" font-family="'Liberation Sans', sans-serif" font-size="14.8" font-weight="bold" text-anchor="middle" textLength="45.2" lengthAdjust="spacingAndGlyphs">146.3</text>
<text x="1154.8" y="1561.9" font-family="'Liberation Sans', sans-serif" font-size="14.8" font-weight="bold" text-anchor="middle" textLength="41.2" lengthAdjust="spacingAndGlyphs">-60.3</text>
<text x="41" y="1582.9" font-family="'Liberation Sans', sans-serif" font-size="14.8" font-weight="bold" textLength="42.9" lengthAdjust="spacingAndGlyphs">Mlat:</text>
<text x="165.3" y="1582.9" font-family="'Liberation Sans', sans-serif" font-size="14.8" font-weight="bold" text-anchor="middle" textLength="41.2" lengthAdjust="spacingAndGlyphs">-52.2</text>
<text x="412.9" y="1582.9" font-family="'Liberation Sans', sans-serif" font-size="14.8" font-weight="bold" text-anchor="middle" textLength="35.3" lengthAdjust="spacingAndGlyphs">25.4</text>
<text x="660.7" y="1582.9" font-family="'Liberation Sans', sans-serif" font-size="14.8" font-weight="bold" text-anchor="middle" textLength="35.3" lengthAdjust="spacingAndGlyphs">65.0</text>
<text x="907.3" y="1582.9" font-family="'Liberation Sans', sans-serif" font-size="14.8" font-weight="bold" text-anchor="middle" textLength="41.2" lengthAdjust="spacingAndGlyphs">-28.1</text>
<text x="1154.8" y="1582.9" font-family="'Liberation Sans', sans-serif" font-size="14.8" font-weight="bold" text-anchor="middle" textLength="41.2" lengthAdjust="spacingAndGlyphs">-51.8</text>
<text x="41" y="1603.9" font-family="'Liberation Sans', sans-serif" font-size="14.8" font-weight="bold" textLength="33.3" lengthAdjust="spacingAndGlyphs">Mlt:</text>
<text x="165.3" y="1603.9" font-family="'Liberation Sans', sans-serif" font-size="14.8" font-weight="bold" text-anchor="middle" textLength="55.2" lengthAdjust="spacingAndGlyphs">10.631</text>
<text x="412.9" y="1603.9" font-family="'Liberation Sans', sans-serif" font-size="14.8" font-weight="bold" text-anchor="middle" textLength="55.2" lengthAdjust="spacingAndGlyphs">12.648</text>
<text x="660.7" y="1603.9" font-family="'Liberation Sans', sans-serif" font-size="14.8" font-weight="bold" text-anchor="middle" textLength="55.2" lengthAdjust="spacingAndGlyphs">21.705</text>
<text x="907.3" y="1603.9" font-family="'Liberation Sans', sans-serif" font-size="14.8" font-weight="bold" text-anchor="middle" textLength="45.2" lengthAdjust="spacingAndGlyphs">0.605</text>
<text x="1154.8" y="1603.9" font-family="'Liberation Sans', sans-serif" font-size="14.8" font-weight="bold" text-anchor="middle" textLength="55.2" lengthAdjust="spacingAndGlyphs">10.867</text>
<text x="19.2" y="1643.2" font-family="'Liberation Sans', sans-serif" font-size="15.6" font-weight="bold" textLength="1223" lengthAdjust="spacingAndGlyphs">MGF Quicklook using MGF_20171108_130311_144401_v2.1.0.lv2 on 14-Jun-2024 19:25:54 (calibration from cas_mgf_7day_cal_2017_11_03_v2.1.mat )</text>
</svg>
</body></html>
